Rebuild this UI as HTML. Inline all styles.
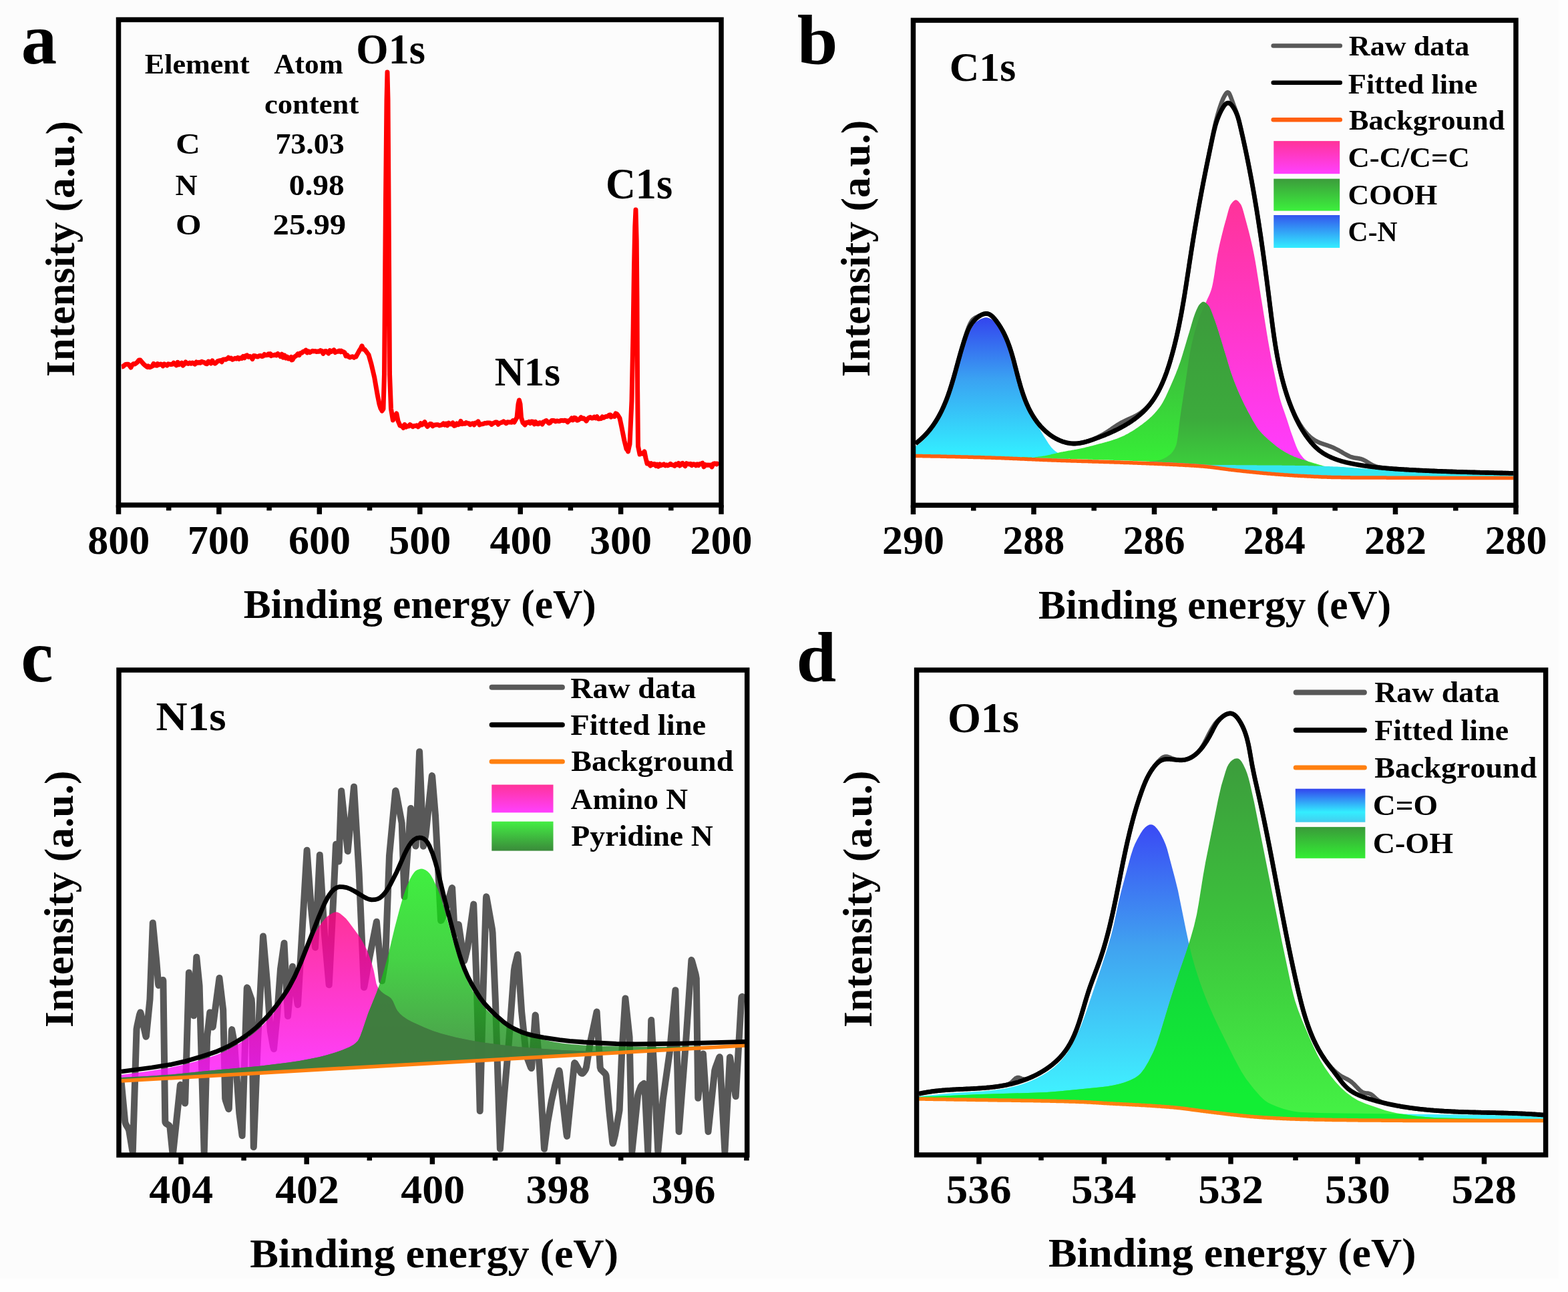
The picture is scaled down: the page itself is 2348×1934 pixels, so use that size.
<!DOCTYPE html>
<html><head><meta charset="utf-8"><style>
html,body{margin:0;padding:0;background:#fefefe;overflow:hidden;}
svg{display:block;}
text{font-family:'Liberation Serif','Times New Roman',serif;font-weight:bold;font-kerning:none;}
</style></head><body>
<svg width="2348" height="1934" viewBox="0 0 2348 1934">
<rect width="2348" height="1934" fill="#fefefe"/>
<rect width="2334" height="1914" fill="#fcfcfc"/>
<path d="M182,549 184,548.7 186,547.1 188,545.4 190,545.3 192,545.2 194,547.4 196,550 198,546 200,544.6 202,545 204,543.5 206,541.8 208,538.9 210,539 212,541.4 214,543.8 215,545 216,545.8 218,547.5 220,549.2 221,549.6 222,547.9 224,549.8 226,549.2 228,548.2 230,544.3 232,546.8 234,547.1 235,547.2 236,544.6 238,546 240,545.1 242,545.2 244,547.9 246,544.9 248,545.9 250,547.1 252,544.8 254,545.3 256,545.5 258,545.3 260,543.2 262,545 264,546.8 266,542.3 268,545.8 270,544.5 272,543.2 274,547.1 276,545.1 278,542 280,543.8 282,544.4 284,543.1 286,544.3 288,543 290,544 292,545.2 294,542 296,543.3 298,542.3 300,543.2 302,541.2 304,542.1 306,542.7 308,544.3 310,544.7 312,541 314,541.8 316,544 318,540 319,542.3 320,542.6 322,544.1 324,542.7 326,540.6 328,540 330,539.6 332,541.7 334,538.3 336,537.9 338,538.3 340,537.1 341,536.7 342,535.3 344,536.8 346,536 348,538.3 350,537.4 352,536.2 354,537.1 356,535.5 358,537.4 360,535.7 362,536.4 364,533.5 366,535.8 368,532.6 370,531.9 372,534.3 374,533.2 376,534.6 378,537.5 380,532.6 382,532.7 384,533.7 386,533.9 388,532.7 390,532.4 392,533.5 394,533 396,530.5 398,531.7 400,531.6 402,529.8 404,531.5 405,529.7 406,532.6 408,531.7 410,531.8 412,531 414,532 416,529.5 418,531 420,533.5 422,530.3 424,535.2 426,531.8 428,536 430,534.1 432,537 434,536.5 436,534.5 437,538.9 438,538.5 440,535 442,533.4 444,532.3 446,529.8 448,531.6 450,528.4 452,528.3 454,526.4 456,525.9 458,524.1 460,527.9 462,525.9 464,527.6 466,526.3 468,525.3 470,525.9 472,525.6 474,526.5 476,526 478,526.2 480,524.6 482,525.5 484,529.3 486,525.9 488,525.4 490,527.5 492,529 494,524.6 496,526.4 498,525.7 500,523.9 502,527.5 504,526.3 506,526.3 508,525 510,526.7 511,525.2 512,526.5 514,526.5 516,527.7 518,533 520,531.6 522,534.1 524,534.9 526,534.1 528,533.8 530,535.3 532,533.7 533,534 534,532.2 536,528.6 538,525 540,521.9 541.5,518.7 542,517.8 544,522.9 546,523 548,525.7 550,528.3 552,531 554,538 556,545 558,553.5 560,562 560.7,565 562,572.6 564,584.2 565,590 566,595 568,605 570,611.5 571.4,613.5 572,615.1 574,612 575.5,560 576,495 577.5,300 578,250 579,150 580,108.1 581,150 582,300 583.5,560 584,573 585.5,612 586,614.9 588,626.7 588.4,629 590,625.9 591,624 592,622.2 593.8,619 594,620 596,630 598,634.7 599,637 600,637.6 602,637.8 604,640.5 606,635.5 608,639.2 610,637.9 612,637.9 614,635.6 616,637 618,638.7 620,637.4 622,637.5 624,636.9 626,638.9 628,637.1 630,633.7 632,635.9 634,633.8 636,631.8 638,635.8 640,638.5 642,636.5 644,634.5 646,634.8 648,637.8 650,636.2 652,636 654,635.8 656,635.8 658,636.9 660,636.4 662,635.8 664,633.9 666,636.1 668,634.3 670,636.8 672,633.2 674,634.8 676,634.9 678,632.9 680,637.4 682,636.9 684,633.9 686,635.7 688,635 690,630.5 692,634.7 694,634.1 696,634.3 698,632.5 700,633.6 702,633.7 704,635.7 706,634.4 708,633.8 710,636 712,632.9 714,633.1 716,630.9 718,635.9 720,634.9 722,634.8 724,634.4 726,633.5 728,633.6 730,632.9 732,632.9 734,633.2 736,635.4 738,633.9 740,632.9 742,632.1 744,631.9 746,635.2 748,633.5 750,632.8 752,632.1 754,630.9 756,632.4 758,633.7 760,631.7 762,631.9 764,631.9 766,632.3 768,629.7 770,632 772,628.5 774,625 776,605 777.4,599 778,601.2 779,605 780,618.3 780.5,625 782,629.8 783,633 784,633.7 786,636 788,632.6 790,632.7 792,631.4 794,633.5 796,631.1 798,631.3 800,634.9 802,631.5 804,634.3 806,634.8 808,632.7 810,633 812,635 814,631.6 816,630.8 818,629.5 820,631.5 822,633.5 824,632.5 826,629.5 828,629.5 830,629.8 832,630.9 834,630 836,630.4 838,630.4 840,629.4 842,629.6 844,629.8 846,629.2 848,629.9 850,631.8 852,629.7 854,628.8 856,626 858,628.9 860,625.3 862,625.9 864,629.2 866,628.8 868,627.3 870,624.8 872,626.7 874,626.1 876,627.9 878,630.1 880,626.9 882,625.3 884,624.5 886,626 888,625.7 890,624.1 892,625.8 894,623.8 896,627 898,626.8 900,626.6 902,624 904,625.2 906,624 908,623.4 910,623.2 912,621.5 914,621 915,624.2 916,622.5 918,622.7 920,623.5 922,619 924,620 925,621.3 926,622.7 928,626 930,635.3 931,640 932,645 934,655 935,660 936,664 938,672 940,674.4 940.5,675.9 942,669 943,665 944,643.3 946,600 948,500 949.5,400 950,376.9 950.8,340 952,314 953.2,360 954,450 954.6,580 955.5,668 956,670.4 958,680 960,678.4 962,679.2 964,677.3 965,676 966,681 967,686 968,690 969,694 970,692.4 972,694.9 974,697 975,693.7 976,696 978,695 980,694.5 982,697.3 984,695.2 986,698.2 988,694.8 990,696.6 992,695.7 994,694.9 996,696.9 998,695.8 1000,696.9 1002,695.9 1004,694.4 1006,695.8 1008,696.1 1010,697.4 1012,694.6 1014,695.9 1016,693.4 1018,697 1020,694.4 1022,693.3 1024,695.9 1026,697.7 1028,693.7 1030,694.4 1032,694.9 1034,694.3 1036,696.6 1038,694.8 1040,694.9 1042,696.9 1044,694.9 1046,696.6 1048,694.5 1050,694.2 1052,693.2 1054,698.8 1056,695.5 1058,696.4 1060,696 1062,696.2 1064,696.1 1066,698.9 1068,694.4 1070,693.7 1072,694.5 1074,694 1076,697.1" fill="none" stroke="#f00" stroke-width="7" stroke-linejoin="round"/>
<rect x="177.5" y="29.5" width="902.5" height="726.5" fill="none" stroke="#000" stroke-width="7.5"/>
<path d="M177.5,756V769.8M327.9,756V769.8M478.3,756V769.8M628.8,756V769.8M779.2,756V769.8M929.6,756V769.8M1080,756V769.8M252.7,756V764.2M403.1,756V764.2M553.5,756V764.2M704,756V764.2M854.4,756V764.2M1004.8,756V764.2" stroke="#000" stroke-width="7.5" fill="none"/>
<text transform="translate(131.2,828.6)" font-size="62.00" fill="#000">800</text>
<text transform="translate(280.8,828.6)" font-size="62.00" fill="#000">700</text>
<text transform="translate(432,828.6)" font-size="62.00" fill="#000">600</text>
<text transform="translate(582.2,828.6)" font-size="62.00" fill="#000">500</text>
<text transform="translate(733.4,828.6)" font-size="62.00" fill="#000">400</text>
<text transform="translate(883.1,828.6)" font-size="62.00" fill="#000">300</text>
<text transform="translate(1033.4,828.6)" font-size="62.00" fill="#000">200</text>
<text transform="translate(31.7,95.2) scale(0.9907,1)" font-size="107.93" fill="#000">a</text>
<text transform="translate(216.7,110.2) scale(1.0590,1)" font-size="41.69" fill="#000">Element</text>
<text transform="translate(410.2,110.2) scale(1.0411,1)" font-size="41.69" fill="#000">Atom</text>
<text transform="translate(396,170.2) scale(1.0706,1)" font-size="41.69" fill="#000">content</text>
<text transform="translate(263,229.8) scale(1.1275,1)" font-size="45.30" fill="#000">C</text>
<text transform="translate(412.4,229.8) scale(1.0144,1)" font-size="45.30" fill="#000">73.03</text>
<text transform="translate(262.4,292.2) scale(1.0143,1)" font-size="45.30" fill="#000">N</text>
<text transform="translate(432.8,292) scale(1.0467,1)" font-size="45.30" fill="#000">0.98</text>
<text transform="translate(263.1,350.8) scale(1.0970,1)" font-size="45.30" fill="#000">O</text>
<text transform="translate(408.6,350.8) scale(1.0754,1)" font-size="45.30" fill="#000">25.99</text>
<text transform="translate(533.3,94.7) scale(0.9738,1)" font-size="63.85" fill="#000">O1s</text>
<text transform="translate(740.7,576.5) scale(0.9844,1)" font-size="62.01" fill="#000">N1s</text>
<text transform="translate(906.9,297.2) scale(0.9610,1)" font-size="64.74" fill="#000">C1s</text>
<text transform="translate(111,564.1) rotate(-90) scale(1.0047,1)" font-size="61.00" fill="#000">Intensity (a.u.)</text>
<text transform="translate(364.8,925) scale(0.9969,1)" font-size="61.50" fill="#000">Binding energy (eV)</text>
<linearGradient id="gCN" gradientUnits="userSpaceOnUse" x1="0" y1="475" x2="0" y2="680"><stop offset="0" stop-color="#3344ee"/><stop offset="0.45" stop-color="#3aa2f2"/><stop offset="1" stop-color="#33eeff"/></linearGradient>
<linearGradient id="gPK" gradientUnits="userSpaceOnUse" x1="0" y1="300" x2="0" y2="690"><stop offset="0" stop-color="#ff3399"/><stop offset="1" stop-color="#ff3cff"/></linearGradient>
<linearGradient id="gGR" gradientUnits="userSpaceOnUse" x1="0" y1="452" x2="0" y2="690"><stop offset="0" stop-color="#3c9e3c"/><stop offset="0.45" stop-color="#3cc23c"/><stop offset="1" stop-color="#36ee36"/></linearGradient>
<linearGradient id="gGD" gradientUnits="userSpaceOnUse" x1="0" y1="452" x2="0" y2="700"><stop offset="0" stop-color="#3c9a3c"/><stop offset="0.7" stop-color="#3caa3c"/><stop offset="1" stop-color="#3cd03c"/></linearGradient>
<clipPath id="cFitB"><path d="M1371,666 1377,661.2 1382,656.6 1391,646.9 1399,636.2 1407,622.8 1411,614.9 1415,605.8 1422,587 1428,567.5 1442,517.9 1447,502.9 1450,495.5 1452,491.5 1455,486.6 1458,482.8 1460.9,479.7 1463.9,477.1 1467.9,474.4 1471.9,472.4 1474.9,471.6 1477.9,471.5 1480.9,472.2 1483.9,474 1487.9,477.7 1492.9,483.9 1496.9,489.7 1500.9,496.4 1504.9,504.2 1509.9,516.1 1513.9,527.8 1517.9,541.7 1526.9,575.7 1531.9,591.9 1537.9,607.5 1543.9,619.7 1547.9,626.4 1551.9,632.2 1559.9,641.8 1563.9,645.8 1568.9,650.2 1573.9,654 1578.9,657.2 1584.9,660.4 1590.9,662.9 1597.9,664.9 1603.9,665.8 1609.9,666 1615.9,665.4 1622.9,664.1 1630.9,661.9 1645.8,656.6 1659.8,651 1671.8,645.5 1682.8,639.7 1692.8,633.6 1701.8,627.1 1709.8,620.4 1716.8,613.4 1722.8,606.2 1728.8,597.6 1733.8,589.2 1738.8,579.3 1743.8,567.6 1747.8,556.7 1751.8,544.3 1756.8,526.5 1762.8,501.7 1768.8,472.3 1773.8,443.5 1785.8,366.1 1793.8,318.8 1803.8,265.5 1816.8,202.9 1818.8,194.6 1821.7,184.3 1826.7,171.7 1830.7,164 1833.7,159.5 1836.7,156.7 1838.7,156.1 1840.7,156.4 1842.7,157.7 1844.7,159.8 1846.7,162.5 1850.7,169.8 1853.7,177.6 1855.7,184.7 1860.7,206.1 1869.7,248.8 1878.7,297.8 1887.7,354.6 1895.7,412.2 1905.7,490.6 1909.7,518.2 1913.7,541 1918.7,564 1922.7,579.2 1926.7,592.5 1931.7,606.8 1936.7,619.3 1941.7,630.3 1947.7,641.7 1953.7,651.4 1959.7,659.8 1966.7,668 1973.7,674.7 1980.7,679.9 1988.7,684.5 1997.7,688.5 2008.6,692.2 2021.6,695.4 2036.6,698.2 2052.6,700.5 2070.6,702.5 2090.6,704 2117.6,705.6 2179.5,708.2 2266.5,710.4 L2266.5,756.3 L1371,756.3Z"/></clipPath>
<g clip-path="url(#cFitB)">
<path d="M1371,668 1372.5,667.2 1374,666.2 1375.5,665.2 1377,664 1378.5,662.8 1380,661.5 1381.5,660.1 1383,658.7 1384.5,657.2 1386,655.6 1387.5,654 1389,652.3 1390.5,650.6 1392,648.8 1393.5,647 1394.9,645 1396.4,643 1397.9,640.8 1399.4,638.6 1400.9,636.2 1402.4,633.8 1403.9,631.2 1405.4,628.5 1406.9,625.7 1408.4,622.8 1409.9,619.8 1411.4,616.7 1412.9,613.5 1414.4,610.1 1415.9,606.4 1417.4,602.3 1418.9,597.8 1420.4,593.2 1421.9,588.3 1423.4,583.3 1424.9,578.2 1426.4,573.2 1427.9,568.1 1429.4,563.2 1430.9,558.4 1432.4,553.7 1433.9,548.7 1435.4,543.7 1436.9,538.7 1438.4,533.6 1439.8,528.7 1441.3,523.9 1442.8,519.4 1444.3,515.2 1445.8,511.3 1447.3,507.8 1448.8,504.3 1450.3,500.9 1451.8,497.5 1453.3,494.3 1454.8,491.3 1456.3,488.6 1457.8,486.2 1459.3,484.2 1460.8,482.6 1462.3,481.5 1463.8,480.5 1465.3,479.5 1466.8,478.6 1468.3,477.8 1469.8,477 1471.3,476.4 1472.8,475.9 1474.3,475.6 1475.8,475.3 1477.3,475.3 1478.8,475.5 1480.3,475.9 1481.8,476.4 1483.3,477.2 1484.8,478.1 1486.2,479.1 1487.7,480.2 1489.2,481.4 1490.7,482.7 1492.2,484 1493.7,485.6 1495.2,487.7 1496.7,490.2 1498.2,493 1499.7,496 1501.2,499.4 1502.7,502.8 1504.2,506.4 1505.7,510 1507.2,514.2 1508.7,519.1 1510.2,524.3 1511.7,529.8 1513.2,535.2 1514.7,540.4 1516.2,545.1 1517.7,549.2 1519.2,552.6 1520.7,555.5 1522.2,558.1 1523.7,560.6 1525.2,562.9 1526.7,565.3 1528.2,567.8 1529.7,570.6 1531.2,573.8 1532.6,577.6 1534.1,582.1 1535.6,587.3 1537.1,592.8 1538.6,598.5 1540.1,604.1 1541.6,609.4 1543.1,614.2 1544.6,618.3 1546.1,621.8 1547.6,625.1 1549.1,628.3 1550.6,631.3 1552.1,634.2 1553.6,636.9 1555.1,639.6 1556.6,642.1 1558.1,644.6 1559.6,647.1 1561.1,649.5 1562.6,651.9 1564.1,654.4 1565.6,656.8 1567.1,659.2 1568.6,661.6 1570.1,663.9 1571.6,666 1573.1,668 1574.6,669.9 1576.1,671.5 1577.5,672.9 1579,674.2 1580.5,675.4 1582,676.5 1583.5,677.5 1585,678.5 1586.5,679.3 1588,680.1 1589.5,680.8 1591,681.4 1592.5,682 1594,682.5 1595.5,683 1597,683.4 1598.5,683.7 1600,684 L1600,687.8 1598.5,687.7 1597,687.7 1595.5,687.6 1594,687.6 1592.5,687.5 1591,687.5 1589.5,687.4 1588,687.4 1586.5,687.3 1585,687.3 1583.5,687.2 1582,687.1 1580.5,687.1 1579,687 1577.5,687 1576.1,686.9 1574.6,686.9 1573.1,686.8 1571.6,686.8 1570.1,686.7 1568.6,686.6 1567.1,686.6 1565.6,686.5 1564.1,686.5 1562.6,686.4 1561.1,686.3 1559.6,686.3 1558.1,686.2 1556.6,686.1 1555.1,686.1 1553.6,686 1552.1,685.9 1550.6,685.9 1549.1,685.8 1547.6,685.7 1546.1,685.7 1544.6,685.6 1543.1,685.5 1541.6,685.5 1540.1,685.4 1538.6,685.3 1537.1,685.3 1535.6,685.2 1534.1,685.1 1532.6,685.1 1531.2,685 1529.7,684.9 1528.2,684.9 1526.7,684.8 1525.2,684.7 1523.7,684.7 1522.2,684.6 1520.7,684.5 1519.2,684.5 1517.7,684.4 1516.2,684.4 1514.7,684.3 1513.2,684.2 1511.7,684.2 1510.2,684.1 1508.7,684 1507.2,684 1505.7,683.9 1504.2,683.9 1502.7,683.8 1501.2,683.7 1499.7,683.7 1498.2,683.6 1496.7,683.6 1495.2,683.5 1493.7,683.5 1492.2,683.4 1490.7,683.3 1489.2,683.3 1487.7,683.2 1486.2,683.2 1484.8,683.1 1483.3,683.1 1481.8,683.1 1480.3,683 1478.8,683 1477.3,682.9 1475.8,682.9 1474.3,682.8 1472.8,682.8 1471.3,682.7 1469.8,682.7 1468.3,682.7 1466.8,682.6 1465.3,682.6 1463.8,682.5 1462.3,682.5 1460.8,682.4 1459.3,682.4 1457.8,682.4 1456.3,682.3 1454.8,682.3 1453.3,682.2 1451.8,682.2 1450.3,682.2 1448.8,682.1 1447.3,682.1 1445.8,682 1444.3,682 1442.8,682 1441.3,681.9 1439.8,681.9 1438.4,681.8 1436.9,681.8 1435.4,681.8 1433.9,681.7 1432.4,681.7 1430.9,681.7 1429.4,681.6 1427.9,681.6 1426.4,681.6 1424.9,681.5 1423.4,681.5 1421.9,681.4 1420.4,681.4 1418.9,681.4 1417.4,681.3 1415.9,681.3 1414.4,681.3 1412.9,681.2 1411.4,681.2 1409.9,681.2 1408.4,681.2 1406.9,681.1 1405.4,681.1 1403.9,681.1 1402.4,681 1400.9,681 1399.4,681 1397.9,680.9 1396.4,680.9 1394.9,680.9 1393.5,680.9 1392,680.8 1390.5,680.8 1389,680.8 1387.5,680.8 1386,680.7 1384.5,680.7 1383,680.7 1381.5,680.7 1380,680.6 1378.5,680.6 1377,680.6 1375.5,680.6 1374,680.5 1372.5,680.5 1371,680.5Z" fill="url(#gCN)"/>
<path d="M1700,692.5 1701.2,692.5 1702.4,692.5 1703.6,692.5 1704.8,692.4 1706,692.4 1707.2,692.3 1708.4,692.3 1709.6,692.2 1710.8,692.1 1712,692 1713.2,691.9 1714.4,691.8 1715.6,691.7 1716.8,691.6 1718,691.5 1719.2,691.4 1720.4,691.2 1721.6,691.1 1722.8,690.9 1723.9,690.8 1725.1,690.6 1726.3,690.4 1727.5,690.2 1728.7,690.1 1729.9,689.9 1731.1,689.7 1732.3,689.5 1733.5,689.3 1734.7,689 1735.9,688.8 1737.1,688.5 1738.3,688.2 1739.5,687.8 1740.7,687.3 1741.9,686.8 1743.1,686.2 1744.3,685.6 1745.5,684.9 1746.7,684.2 1747.9,683.4 1749.1,682.6 1750.3,681.8 1751.5,680.9 1752.7,679.8 1753.9,678.7 1755.1,677.3 1756.3,675.8 1757.5,674 1758.7,671.9 1759.9,669.5 1761.1,666.8 1762.3,662 1763.5,654.5 1764.7,645.2 1765.9,635.2 1767.1,625.4 1768.3,616.9 1769.5,609.1 1770.7,601.4 1771.8,593.8 1773,586.2 1774.2,578.7 1775.4,571 1776.6,563.1 1777.8,554.7 1779,546.3 1780.2,538.2 1781.4,530.6 1782.6,523.9 1783.8,518.1 1785,512.8 1786.2,507.8 1787.4,503 1788.6,498.5 1789.8,494.3 1791,490.2 1792.2,486.4 1793.4,482.7 1794.6,479.2 1795.8,475.8 1797,472.6 1798.2,469.7 1799.4,466.9 1800.6,464.1 1801.8,461.5 1803,458.9 1804.2,456.2 1805.4,453.5 1806.6,450.7 1807.8,448 1809,445.5 1810.2,443 1811.4,440.2 1812.6,437.2 1813.8,433.7 1815,429.6 1816.2,424 1817.4,417.3 1818.6,409.9 1819.7,402.2 1820.9,394.3 1822.1,386.8 1823.3,380 1824.5,374.2 1825.7,368.6 1826.9,363.3 1828.1,358.2 1829.3,353.2 1830.5,348.4 1831.7,343.7 1832.9,339.1 1834.1,334.7 1835.3,330.4 1836.5,326.2 1837.7,321.7 1838.9,317.3 1840.1,313.1 1841.3,309.5 1842.5,306.8 1843.7,305 1844.9,303.5 1846.1,302.1 1847.3,300.9 1848.5,300 1849.7,299.4 1850.9,299.3 1852.1,299.7 1853.3,300.4 1854.5,301.5 1855.7,302.9 1856.9,304.4 1858.1,306.1 1859.3,308.4 1860.5,311.7 1861.7,315.7 1862.9,320.1 1864.1,324.6 1865.3,328.9 1866.4,333.1 1867.6,337.5 1868.8,342 1870,346.5 1871.2,351.3 1872.4,356.2 1873.6,361.3 1874.8,366.6 1876,372.1 1877.2,377.8 1878.4,384 1879.6,390.6 1880.8,397.6 1882,404.9 1883.2,412.4 1884.4,420 1885.6,427.7 1886.8,435.4 1888,442.9 1889.2,450.2 1890.4,457.6 1891.6,465 1892.8,472.5 1894,480 1895.2,487.5 1896.4,494.9 1897.6,502.2 1898.8,509.4 1900,516.3 1901.2,523 1902.4,529.4 1903.6,535.7 1904.8,541.8 1906,547.8 1907.2,553.6 1908.4,559.3 1909.6,565 1910.8,570.8 1912,576.4 1913.2,581.9 1914.3,587.2 1915.5,592.1 1916.7,596.7 1917.9,600.8 1919.1,604.7 1920.3,608.3 1921.5,611.8 1922.7,615.1 1923.9,618.5 1925.1,621.9 1926.3,625.5 1927.5,629.1 1928.7,632.8 1929.9,636.6 1931.1,640.2 1932.3,643.9 1933.5,647.4 1934.7,650.8 1935.9,654.1 1937.1,657.5 1938.3,660.8 1939.5,664.1 1940.7,667.2 1941.9,670.1 1943.1,672.7 1944.3,675 1945.5,677 1946.7,678.9 1947.9,680.7 1949.1,682.3 1950.3,683.8 1951.5,685.2 1952.7,686.4 1953.9,687.4 1955.1,688.4 1956.3,689.3 1957.5,690.1 1958.7,690.9 1959.9,691.6 1961.1,692.2 1962.2,692.8 1963.4,693.4 1964.6,693.9 1965.8,694.3 1967,694.7 1968.2,695.2 1969.4,695.6 1970.6,696 1971.8,696.4 1973,696.8 1974.2,697.1 1975.4,697.5 1976.6,697.8 1977.8,698 1979,698.3 1980.2,698.5 1981.4,698.7 1982.6,698.8 1983.8,698.9 1985,699 L1985,712.1 1983.8,712 1982.6,712 1981.4,712 1980.2,711.9 1979,711.9 1977.8,711.8 1976.6,711.8 1975.4,711.7 1974.2,711.7 1973,711.6 1971.8,711.6 1970.6,711.5 1969.4,711.5 1968.2,711.4 1967,711.3 1965.8,711.3 1964.6,711.2 1963.4,711.2 1962.2,711.1 1961.1,711.1 1959.9,711 1958.7,710.9 1957.5,710.9 1956.3,710.8 1955.1,710.8 1953.9,710.7 1952.7,710.6 1951.5,710.6 1950.3,710.5 1949.1,710.5 1947.9,710.4 1946.7,710.3 1945.5,710.3 1944.3,710.2 1943.1,710.1 1941.9,710.1 1940.7,710 1939.5,709.9 1938.3,709.8 1937.1,709.8 1935.9,709.7 1934.7,709.6 1933.5,709.5 1932.3,709.5 1931.1,709.4 1929.9,709.3 1928.7,709.2 1927.5,709.1 1926.3,709 1925.1,709 1923.9,708.9 1922.7,708.8 1921.5,708.7 1920.3,708.6 1919.1,708.5 1917.9,708.4 1916.7,708.3 1915.5,708.2 1914.3,708.2 1913.2,708.1 1912,708 1910.8,707.9 1909.6,707.8 1908.4,707.7 1907.2,707.6 1906,707.5 1904.8,707.4 1903.6,707.3 1902.4,707.2 1901.2,707.1 1900,707 1898.8,706.9 1897.6,706.8 1896.4,706.7 1895.2,706.6 1894,706.5 1892.8,706.4 1891.6,706.3 1890.4,706.2 1889.2,706.1 1888,705.9 1886.8,705.8 1885.6,705.7 1884.4,705.6 1883.2,705.5 1882,705.4 1880.8,705.3 1879.6,705.1 1878.4,705 1877.2,704.9 1876,704.8 1874.8,704.6 1873.6,704.5 1872.4,704.4 1871.2,704.3 1870,704.2 1868.8,704 1867.6,703.9 1866.4,703.8 1865.3,703.6 1864.1,703.5 1862.9,703.4 1861.7,703.3 1860.5,703.1 1859.3,703 1858.1,702.9 1856.9,702.7 1855.7,702.6 1854.5,702.5 1853.3,702.4 1852.1,702.2 1850.9,702.1 1849.7,702 1848.5,701.8 1847.3,701.7 1846.1,701.6 1844.9,701.4 1843.7,701.3 1842.5,701.1 1841.3,701 1840.1,700.8 1838.9,700.7 1837.7,700.5 1836.5,700.3 1835.3,700.2 1834.1,700 1832.9,699.9 1831.7,699.7 1830.5,699.5 1829.3,699.4 1828.1,699.2 1826.9,699 1825.7,698.9 1824.5,698.7 1823.3,698.6 1822.1,698.4 1820.9,698.2 1819.7,698.1 1818.6,697.9 1817.4,697.8 1816.2,697.6 1815,697.5 1813.8,697.3 1812.6,697.2 1811.4,697.1 1810.2,696.9 1809,696.8 1807.8,696.7 1806.6,696.6 1805.4,696.5 1804.2,696.3 1803,696.2 1801.8,696.1 1800.6,696 1799.4,696 1798.2,695.9 1797,695.8 1795.8,695.7 1794.6,695.6 1793.4,695.5 1792.2,695.4 1791,695.4 1789.8,695.3 1788.6,695.2 1787.4,695.1 1786.2,695 1785,695 1783.8,694.9 1782.6,694.8 1781.4,694.7 1780.2,694.7 1779,694.6 1777.8,694.5 1776.6,694.5 1775.4,694.4 1774.2,694.3 1773,694.3 1771.8,694.2 1770.7,694.1 1769.5,694.1 1768.3,694 1767.1,693.9 1765.9,693.9 1764.7,693.8 1763.5,693.7 1762.3,693.7 1761.1,693.6 1759.9,693.6 1758.7,693.5 1757.5,693.4 1756.3,693.4 1755.1,693.3 1753.9,693.3 1752.7,693.2 1751.5,693.1 1750.3,693.1 1749.1,693 1747.9,693 1746.7,692.9 1745.5,692.9 1744.3,692.8 1743.1,692.8 1741.9,692.7 1740.7,692.7 1739.5,692.6 1738.3,692.6 1737.1,692.5 1735.9,692.4 1734.7,692.4 1733.5,692.3 1732.3,692.3 1731.1,692.2 1729.9,692.2 1728.7,692.1 1727.5,692.1 1726.3,692.1 1725.1,692 1723.9,692 1722.8,691.9 1721.6,691.9 1720.4,691.8 1719.2,691.8 1718,691.7 1716.8,691.7 1715.6,691.6 1714.4,691.6 1713.2,691.5 1712,691.5 1710.8,691.4 1709.6,691.4 1708.4,691.3 1707.2,691.3 1706,691.2 1704.8,691.2 1703.6,691.1 1702.4,691.1 1701.2,691 1700,691Z" fill="url(#gPK)"/>
<path d="M1530,686 1531.2,685.9 1532.4,685.9 1533.6,685.8 1534.8,685.7 1536,685.7 1537.2,685.6 1538.4,685.5 1539.6,685.4 1540.8,685.3 1542,685.2 1543.2,685 1544.4,684.9 1545.6,684.8 1546.8,684.7 1548,684.5 1549.2,684.4 1550.4,684.2 1551.6,684.1 1552.8,684 1554,683.8 1555.2,683.6 1556.4,683.5 1557.6,683.3 1558.8,683.2 1560,683 1561.2,682.8 1562.4,682.6 1563.6,682.4 1564.8,682.2 1566,682 1567.2,681.7 1568.4,681.5 1569.6,681.2 1570.8,681 1572,680.7 1573.2,680.4 1574.4,680.1 1575.6,679.8 1576.8,679.6 1578,679.3 1579.2,679 1580.4,678.7 1581.6,678.4 1582.8,678.1 1584,677.9 1585.2,677.6 1586.4,677.3 1587.6,677.1 1588.8,676.8 1590,676.6 1591.2,676.4 1592.4,676.1 1593.6,675.9 1594.8,675.7 1596,675.5 1597.2,675.3 1598.4,675.1 1599.6,674.8 1600.8,674.6 1602,674.4 1603.2,674.2 1604.4,674 1605.6,673.8 1606.8,673.6 1608,673.4 1609.2,673.1 1610.4,672.9 1611.6,672.7 1612.8,672.5 1614,672.2 1615.2,672 1616.4,671.8 1617.6,671.5 1618.8,671.3 1620,671 1621.2,670.7 1622.4,670.5 1623.6,670.2 1624.8,669.9 1626,669.6 1627.2,669.3 1628.4,669 1629.6,668.7 1630.8,668.4 1632,668.1 1633.2,667.8 1634.4,667.5 1635.6,667.2 1636.8,666.9 1638,666.5 1639.2,666.2 1640.4,665.9 1641.6,665.6 1642.8,665.3 1644,664.9 1645.2,664.6 1646.4,664.3 1647.6,664 1648.8,663.7 1650,663.4 1651.2,663 1652.4,662.7 1653.6,662.4 1654.8,662.1 1656,661.7 1657.2,661.4 1658.4,661.1 1659.6,660.7 1660.8,660.4 1662,660 1663.2,659.7 1664.4,659.3 1665.6,658.9 1666.8,658.5 1668,658.1 1669.2,657.7 1670.4,657.3 1671.6,656.9 1672.8,656.4 1674,656 1675.2,655.5 1676.4,655.1 1677.6,654.6 1678.8,654.1 1680,653.5 1681.2,653 1682.4,652.4 1683.6,651.9 1684.8,651.3 1686,650.6 1687.2,650 1688.4,649.4 1689.6,648.7 1690.8,648 1692,647.3 1693.2,646.6 1694.4,645.9 1695.6,645.2 1696.8,644.4 1698,643.7 1699.2,642.9 1700.4,642.1 1701.6,641.3 1702.8,640.5 1704,639.7 1705.2,638.8 1706.4,638 1707.6,637.1 1708.8,636.2 1710,635.4 1711.2,634.5 1712.4,633.6 1713.6,632.6 1714.8,631.7 1716,630.7 1717.2,629.8 1718.4,628.8 1719.6,627.8 1720.8,626.7 1722,625.6 1723.2,624.5 1724.4,623.4 1725.6,622.2 1726.8,621 1728,619.7 1729.2,618.5 1730.4,617.1 1731.6,615.7 1732.8,614.3 1734,612.8 1735.2,611.3 1736.4,609.7 1737.6,608.1 1738.8,606.3 1740,604.3 1741.2,602.2 1742.4,600.1 1743.6,597.7 1744.8,595.4 1746,592.9 1747.2,590.3 1748.4,587.7 1749.6,585.1 1750.8,582.4 1752,579.7 1753.2,577 1754.4,574.3 1755.6,571.5 1756.8,568.8 1758,566 1759.2,563.1 1760.4,560.2 1761.6,557.1 1762.8,554 1764,550.9 1765.2,547.6 1766.4,544.3 1767.6,540.9 1768.8,537.3 1770,533.5 1771.2,529.6 1772.4,525.6 1773.6,521.6 1774.8,517.5 1776,513.4 1777.2,509.3 1778.4,505.3 1779.6,501.3 1780.8,497.4 1782,493.3 1783.2,489.2 1784.4,485 1785.6,481 1786.8,477.1 1788,473.4 1789.2,470 1790.4,467 1791.6,464.1 1792.8,461.4 1794,459 1795.2,457 1796.4,455.6 1797.6,454.3 1798.8,453.2 1800,452.3 1801.2,451.8 1802.4,451.7 1803.6,452 1804.8,452.7 1806,453.7 1807.2,454.8 1808.4,456.1 1809.6,457.5 1810.8,459.1 1812,461.4 1813.2,464.2 1814.4,467.3 1815.6,470.6 1816.8,473.8 1818,477 1819.2,480.3 1820.4,483.8 1821.6,487.3 1822.8,491 1824,494.8 1825.2,498.6 1826.4,502.5 1827.6,506.4 1828.8,510.3 1830,514.3 1831.2,518.3 1832.4,522.3 1833.6,526.2 1834.8,530.1 1836,534 1837.2,537.9 1838.4,541.9 1839.6,546 1840.8,550 1842,553.9 1843.2,557.7 1844.4,561.1 1845.6,564.5 1846.8,567.7 1848,570.9 1849.2,574 1850.4,577 1851.6,580 1852.8,582.9 1854,585.7 1855.2,588.5 1856.4,591.2 1857.6,593.8 1858.8,596.5 1860,599 1861.2,601.5 1862.4,604 1863.6,606.4 1864.8,608.8 1866,611.1 1867.2,613.4 1868.4,615.7 1869.6,617.9 1870.8,620.1 1872,622.3 1873.2,624.5 1874.4,626.7 1875.6,628.9 1876.8,631 1878,633.1 1879.2,635.1 1880.4,637.1 1881.6,639 1882.8,640.7 1884,642.4 1885.2,643.9 1886.4,645.3 1887.6,646.7 1888.8,648.1 1890,649.4 1891.2,650.6 1892.4,651.8 1893.6,653 1894.8,654.1 1896,655.3 1897.2,656.3 1898.4,657.4 1899.6,658.5 1900.8,659.5 1902,660.5 1903.2,661.6 1904.4,662.6 1905.6,663.6 1906.8,664.6 1908,665.6 1909.2,666.5 1910.4,667.5 1911.6,668.4 1912.8,669.3 1914,670.2 1915.2,671.1 1916.4,672 1917.6,672.8 1918.8,673.6 1920,674.3 1921.2,675.1 1922.4,675.8 1923.6,676.5 1924.8,677.2 1926,677.8 1927.2,678.5 1928.4,679.1 1929.6,679.8 1930.8,680.4 1932,681 1933.2,681.5 1934.4,682.1 1935.6,682.6 1936.8,683.2 1938,683.7 1939.2,684.2 1940.4,684.6 1941.6,685.1 1942.8,685.5 1944,685.9 1945.2,686.3 1946.4,686.7 1947.6,687.1 1948.8,687.5 1950,687.9 1951.2,688.2 1952.4,688.6 1953.6,689 1954.8,689.4 1956,689.8 1957.2,690.1 1958.4,690.5 1959.6,690.9 1960.8,691.2 1962,691.6 1963.2,692 1964.4,692.3 1965.6,692.7 1966.8,693 1968,693.4 1969.2,693.8 1970.4,694.1 1971.6,694.5 1972.8,694.8 1974,695.2 1975.2,695.6 1976.4,695.9 1977.6,696.3 1978.8,696.6 1980,697 1981.2,697.4 1982.4,697.7 1983.6,698.1 1984.8,698.4 1986,698.8 1987.2,699.2 1988.4,699.5 1989.6,699.9 1990.8,700.2 1992,700.6 1993.2,701 1994.4,701.3 1995.6,701.7 1996.8,702 1998,702.4 1999.2,702.8 2000.4,703.1 2001.6,703.5 2002.8,703.8 2004,704.2 2005.2,704.6 2006.4,704.9 2007.6,705.3 2008.8,705.6 2010,706 L2010,711.7 2008.8,711.7 2007.6,711.6 2006.4,711.6 2005.2,711.6 2004,711.6 2002.8,711.6 2001.6,711.5 2000.4,711.5 1999.2,711.5 1998,711.5 1996.8,711.4 1995.6,711.4 1994.4,711.4 1993.2,711.3 1992,711.3 1990.8,711.3 1989.6,711.2 1988.4,711.2 1987.2,711.2 1986,711.1 1984.8,711.1 1983.6,711 1982.4,711 1981.2,711 1980,710.9 1978.8,710.9 1977.6,710.8 1976.4,710.8 1975.2,710.7 1974,710.7 1972.8,710.6 1971.6,710.6 1970.4,710.5 1969.2,710.4 1968,710.4 1966.8,710.3 1965.6,710.3 1964.4,710.2 1963.2,710.2 1962,710.1 1960.8,710 1959.6,710 1958.4,709.9 1957.2,709.9 1956,709.8 1954.8,709.7 1953.6,709.7 1952.4,709.6 1951.2,709.6 1950,709.5 1948.8,709.4 1947.6,709.4 1946.4,709.3 1945.2,709.2 1944,709.2 1942.8,709.1 1941.6,709 1940.4,709 1939.2,708.9 1938,708.8 1936.8,708.7 1935.6,708.7 1934.4,708.6 1933.2,708.5 1932,708.4 1930.8,708.4 1929.6,708.3 1928.4,708.2 1927.2,708.1 1926,708 1924.8,707.9 1923.6,707.8 1922.4,707.8 1921.2,707.7 1920,707.6 1918.8,707.5 1917.6,707.4 1916.4,707.3 1915.2,707.2 1914,707.1 1912.8,707 1911.6,706.9 1910.4,706.8 1909.2,706.7 1908,706.7 1906.8,706.6 1905.6,706.5 1904.4,706.4 1903.2,706.3 1902,706.2 1900.8,706.1 1899.6,706 1898.4,705.9 1897.2,705.8 1896,705.7 1894.8,705.6 1893.6,705.5 1892.4,705.3 1891.2,705.2 1890,705.1 1888.8,705 1887.6,704.9 1886.4,704.8 1885.2,704.7 1884,704.6 1882.8,704.4 1881.6,704.3 1880.4,704.2 1879.2,704.1 1878,704 1876.8,703.9 1875.6,703.7 1874.4,703.6 1873.2,703.5 1872,703.4 1870.8,703.2 1869.6,703.1 1868.4,703 1867.2,702.9 1866,702.7 1864.8,702.6 1863.6,702.5 1862.4,702.3 1861.2,702.2 1860,702.1 1858.8,702 1857.6,701.8 1856.4,701.7 1855.2,701.6 1854,701.4 1852.8,701.3 1851.6,701.2 1850.4,701 1849.2,700.9 1848,700.8 1846.8,700.6 1845.6,700.5 1844.4,700.4 1843.2,700.2 1842,700.1 1840.8,699.9 1839.6,699.7 1838.4,699.6 1837.2,699.4 1836,699.3 1834.8,699.1 1833.6,698.9 1832.4,698.8 1831.2,698.6 1830,698.5 1828.8,698.3 1827.6,698.1 1826.4,698 1825.2,697.8 1824,697.6 1822.8,697.5 1821.6,697.3 1820.4,697.2 1819.2,697 1818,696.9 1816.8,696.7 1815.6,696.6 1814.4,696.4 1813.2,696.3 1812,696.1 1810.8,696 1809.6,695.9 1808.4,695.8 1807.2,695.6 1806,695.5 1804.8,695.4 1803.6,695.3 1802.4,695.2 1801.2,695.1 1800,695 1798.8,694.9 1797.6,694.8 1796.4,694.7 1795.2,694.7 1794,694.6 1792.8,694.5 1791.6,694.4 1790.4,694.3 1789.2,694.2 1788,694.2 1786.8,694.1 1785.6,694 1784.4,693.9 1783.2,693.9 1782,693.8 1780.8,693.7 1779.6,693.6 1778.4,693.6 1777.2,693.5 1776,693.4 1774.8,693.4 1773.6,693.3 1772.4,693.2 1771.2,693.2 1770,693.1 1768.8,693 1767.6,693 1766.4,692.9 1765.2,692.8 1764,692.8 1762.8,692.7 1761.6,692.6 1760.4,692.6 1759.2,692.5 1758,692.5 1756.8,692.4 1755.6,692.3 1754.4,692.3 1753.2,692.2 1752,692.2 1750.8,692.1 1749.6,692.1 1748.4,692 1747.2,691.9 1746,691.9 1744.8,691.8 1743.6,691.8 1742.4,691.7 1741.2,691.7 1740,691.6 1738.8,691.6 1737.6,691.5 1736.4,691.5 1735.2,691.4 1734,691.4 1732.8,691.3 1731.6,691.3 1730.4,691.2 1729.2,691.2 1728,691.1 1726.8,691.1 1725.6,691 1724.4,691 1723.2,690.9 1722,690.9 1720.8,690.8 1719.6,690.8 1718.4,690.7 1717.2,690.7 1716,690.6 1714.8,690.6 1713.6,690.5 1712.4,690.5 1711.2,690.4 1710,690.4 1708.8,690.3 1707.6,690.3 1706.4,690.3 1705.2,690.2 1704,690.2 1702.8,690.1 1701.6,690.1 1700.4,690 1699.2,690 1698,689.9 1696.8,689.9 1695.6,689.8 1694.4,689.8 1693.2,689.7 1692,689.7 1690.8,689.6 1689.6,689.6 1688.4,689.6 1687.2,689.5 1686,689.5 1684.8,689.4 1683.6,689.4 1682.4,689.3 1681.2,689.3 1680,689.3 1678.8,689.2 1677.6,689.2 1676.4,689.1 1675.2,689.1 1674,689 1672.8,689 1671.6,689 1670.4,688.9 1669.2,688.9 1668,688.9 1666.8,688.8 1665.6,688.8 1664.4,688.7 1663.2,688.7 1662,688.7 1660.8,688.6 1659.6,688.6 1658.4,688.5 1657.2,688.5 1656,688.5 1654.8,688.4 1653.6,688.4 1652.4,688.4 1651.2,688.3 1650,688.3 1648.8,688.2 1647.6,688.2 1646.4,688.2 1645.2,688.1 1644,688.1 1642.8,688.1 1641.6,688 1640.4,688 1639.2,688 1638,687.9 1636.8,687.9 1635.6,687.8 1634.4,687.8 1633.2,687.8 1632,687.7 1630.8,687.7 1629.6,687.7 1628.4,687.6 1627.2,687.6 1626,687.6 1624.8,687.5 1623.6,687.5 1622.4,687.4 1621.2,687.4 1620,687.4 1618.8,687.3 1617.6,687.3 1616.4,687.3 1615.2,687.2 1614,687.2 1612.8,687.2 1611.6,687.1 1610.4,687.1 1609.2,687 1608,687 1606.8,687 1605.6,686.9 1604.4,686.9 1603.2,686.9 1602,686.8 1600.8,686.8 1599.6,686.7 1598.4,686.7 1597.2,686.7 1596,686.6 1594.8,686.6 1593.6,686.5 1592.4,686.5 1591.2,686.5 1590,686.4 1588.8,686.4 1587.6,686.3 1586.4,686.3 1585.2,686.3 1584,686.2 1582.8,686.2 1581.6,686.1 1580.4,686.1 1579.2,686 1578,686 1576.8,686 1575.6,685.9 1574.4,685.9 1573.2,685.8 1572,685.8 1570.8,685.7 1569.6,685.7 1568.4,685.6 1567.2,685.6 1566,685.5 1564.8,685.5 1563.6,685.4 1562.4,685.4 1561.2,685.3 1560,685.3 1558.8,685.2 1557.6,685.2 1556.4,685.1 1555.2,685.1 1554,685 1552.8,685 1551.6,684.9 1550.4,684.9 1549.2,684.8 1548,684.8 1546.8,684.7 1545.6,684.7 1544.4,684.6 1543.2,684.6 1542,684.5 1540.8,684.4 1539.6,684.4 1538.4,684.3 1537.2,684.3 1536,684.2 1534.8,684.2 1533.6,684.1 1532.4,684.1 1531.2,684 1530,684Z" fill="url(#gGR)"/>
<clipPath id="cPKb"><path d="M1700,692.5 1701.2,692.5 1702.4,692.5 1703.6,692.5 1704.8,692.4 1706,692.4 1707.2,692.3 1708.4,692.3 1709.6,692.2 1710.8,692.1 1712,692 1713.2,691.9 1714.4,691.8 1715.6,691.7 1716.8,691.6 1718,691.5 1719.2,691.4 1720.4,691.2 1721.6,691.1 1722.8,690.9 1723.9,690.8 1725.1,690.6 1726.3,690.4 1727.5,690.2 1728.7,690.1 1729.9,689.9 1731.1,689.7 1732.3,689.5 1733.5,689.3 1734.7,689 1735.9,688.8 1737.1,688.5 1738.3,688.2 1739.5,687.8 1740.7,687.3 1741.9,686.8 1743.1,686.2 1744.3,685.6 1745.5,684.9 1746.7,684.2 1747.9,683.4 1749.1,682.6 1750.3,681.8 1751.5,680.9 1752.7,679.8 1753.9,678.7 1755.1,677.3 1756.3,675.8 1757.5,674 1758.7,671.9 1759.9,669.5 1761.1,666.8 1762.3,662 1763.5,654.5 1764.7,645.2 1765.9,635.2 1767.1,625.4 1768.3,616.9 1769.5,609.1 1770.7,601.4 1771.8,593.8 1773,586.2 1774.2,578.7 1775.4,571 1776.6,563.1 1777.8,554.7 1779,546.3 1780.2,538.2 1781.4,530.6 1782.6,523.9 1783.8,518.1 1785,512.8 1786.2,507.8 1787.4,503 1788.6,498.5 1789.8,494.3 1791,490.2 1792.2,486.4 1793.4,482.7 1794.6,479.2 1795.8,475.8 1797,472.6 1798.2,469.7 1799.4,466.9 1800.6,464.1 1801.8,461.5 1803,458.9 1804.2,456.2 1805.4,453.5 1806.6,450.7 1807.8,448 1809,445.5 1810.2,443 1811.4,440.2 1812.6,437.2 1813.8,433.7 1815,429.6 1816.2,424 1817.4,417.3 1818.6,409.9 1819.7,402.2 1820.9,394.3 1822.1,386.8 1823.3,380 1824.5,374.2 1825.7,368.6 1826.9,363.3 1828.1,358.2 1829.3,353.2 1830.5,348.4 1831.7,343.7 1832.9,339.1 1834.1,334.7 1835.3,330.4 1836.5,326.2 1837.7,321.7 1838.9,317.3 1840.1,313.1 1841.3,309.5 1842.5,306.8 1843.7,305 1844.9,303.5 1846.1,302.1 1847.3,300.9 1848.5,300 1849.7,299.4 1850.9,299.3 1852.1,299.7 1853.3,300.4 1854.5,301.5 1855.7,302.9 1856.9,304.4 1858.1,306.1 1859.3,308.4 1860.5,311.7 1861.7,315.7 1862.9,320.1 1864.1,324.6 1865.3,328.9 1866.4,333.1 1867.6,337.5 1868.8,342 1870,346.5 1871.2,351.3 1872.4,356.2 1873.6,361.3 1874.8,366.6 1876,372.1 1877.2,377.8 1878.4,384 1879.6,390.6 1880.8,397.6 1882,404.9 1883.2,412.4 1884.4,420 1885.6,427.7 1886.8,435.4 1888,442.9 1889.2,450.2 1890.4,457.6 1891.6,465 1892.8,472.5 1894,480 1895.2,487.5 1896.4,494.9 1897.6,502.2 1898.8,509.4 1900,516.3 1901.2,523 1902.4,529.4 1903.6,535.7 1904.8,541.8 1906,547.8 1907.2,553.6 1908.4,559.3 1909.6,565 1910.8,570.8 1912,576.4 1913.2,581.9 1914.3,587.2 1915.5,592.1 1916.7,596.7 1917.9,600.8 1919.1,604.7 1920.3,608.3 1921.5,611.8 1922.7,615.1 1923.9,618.5 1925.1,621.9 1926.3,625.5 1927.5,629.1 1928.7,632.8 1929.9,636.6 1931.1,640.2 1932.3,643.9 1933.5,647.4 1934.7,650.8 1935.9,654.1 1937.1,657.5 1938.3,660.8 1939.5,664.1 1940.7,667.2 1941.9,670.1 1943.1,672.7 1944.3,675 1945.5,677 1946.7,678.9 1947.9,680.7 1949.1,682.3 1950.3,683.8 1951.5,685.2 1952.7,686.4 1953.9,687.4 1955.1,688.4 1956.3,689.3 1957.5,690.1 1958.7,690.9 1959.9,691.6 1961.1,692.2 1962.2,692.8 1963.4,693.4 1964.6,693.9 1965.8,694.3 1967,694.7 1968.2,695.2 1969.4,695.6 1970.6,696 1971.8,696.4 1973,696.8 1974.2,697.1 1975.4,697.5 1976.6,697.8 1977.8,698 1979,698.3 1980.2,698.5 1981.4,698.7 1982.6,698.8 1983.8,698.9 1985,699 L1985,712.1 1983.8,712 1982.6,712 1981.4,712 1980.2,711.9 1979,711.9 1977.8,711.8 1976.6,711.8 1975.4,711.7 1974.2,711.7 1973,711.6 1971.8,711.6 1970.6,711.5 1969.4,711.5 1968.2,711.4 1967,711.3 1965.8,711.3 1964.6,711.2 1963.4,711.2 1962.2,711.1 1961.1,711.1 1959.9,711 1958.7,710.9 1957.5,710.9 1956.3,710.8 1955.1,710.8 1953.9,710.7 1952.7,710.6 1951.5,710.6 1950.3,710.5 1949.1,710.5 1947.9,710.4 1946.7,710.3 1945.5,710.3 1944.3,710.2 1943.1,710.1 1941.9,710.1 1940.7,710 1939.5,709.9 1938.3,709.8 1937.1,709.8 1935.9,709.7 1934.7,709.6 1933.5,709.5 1932.3,709.5 1931.1,709.4 1929.9,709.3 1928.7,709.2 1927.5,709.1 1926.3,709 1925.1,709 1923.9,708.9 1922.7,708.8 1921.5,708.7 1920.3,708.6 1919.1,708.5 1917.9,708.4 1916.7,708.3 1915.5,708.2 1914.3,708.2 1913.2,708.1 1912,708 1910.8,707.9 1909.6,707.8 1908.4,707.7 1907.2,707.6 1906,707.5 1904.8,707.4 1903.6,707.3 1902.4,707.2 1901.2,707.1 1900,707 1898.8,706.9 1897.6,706.8 1896.4,706.7 1895.2,706.6 1894,706.5 1892.8,706.4 1891.6,706.3 1890.4,706.2 1889.2,706.1 1888,705.9 1886.8,705.8 1885.6,705.7 1884.4,705.6 1883.2,705.5 1882,705.4 1880.8,705.3 1879.6,705.1 1878.4,705 1877.2,704.9 1876,704.8 1874.8,704.6 1873.6,704.5 1872.4,704.4 1871.2,704.3 1870,704.2 1868.8,704 1867.6,703.9 1866.4,703.8 1865.3,703.6 1864.1,703.5 1862.9,703.4 1861.7,703.3 1860.5,703.1 1859.3,703 1858.1,702.9 1856.9,702.7 1855.7,702.6 1854.5,702.5 1853.3,702.4 1852.1,702.2 1850.9,702.1 1849.7,702 1848.5,701.8 1847.3,701.7 1846.1,701.6 1844.9,701.4 1843.7,701.3 1842.5,701.1 1841.3,701 1840.1,700.8 1838.9,700.7 1837.7,700.5 1836.5,700.3 1835.3,700.2 1834.1,700 1832.9,699.9 1831.7,699.7 1830.5,699.5 1829.3,699.4 1828.1,699.2 1826.9,699 1825.7,698.9 1824.5,698.7 1823.3,698.6 1822.1,698.4 1820.9,698.2 1819.7,698.1 1818.6,697.9 1817.4,697.8 1816.2,697.6 1815,697.5 1813.8,697.3 1812.6,697.2 1811.4,697.1 1810.2,696.9 1809,696.8 1807.8,696.7 1806.6,696.6 1805.4,696.5 1804.2,696.3 1803,696.2 1801.8,696.1 1800.6,696 1799.4,696 1798.2,695.9 1797,695.8 1795.8,695.7 1794.6,695.6 1793.4,695.5 1792.2,695.4 1791,695.4 1789.8,695.3 1788.6,695.2 1787.4,695.1 1786.2,695 1785,695 1783.8,694.9 1782.6,694.8 1781.4,694.7 1780.2,694.7 1779,694.6 1777.8,694.5 1776.6,694.5 1775.4,694.4 1774.2,694.3 1773,694.3 1771.8,694.2 1770.7,694.1 1769.5,694.1 1768.3,694 1767.1,693.9 1765.9,693.9 1764.7,693.8 1763.5,693.7 1762.3,693.7 1761.1,693.6 1759.9,693.6 1758.7,693.5 1757.5,693.4 1756.3,693.4 1755.1,693.3 1753.9,693.3 1752.7,693.2 1751.5,693.1 1750.3,693.1 1749.1,693 1747.9,693 1746.7,692.9 1745.5,692.9 1744.3,692.8 1743.1,692.8 1741.9,692.7 1740.7,692.7 1739.5,692.6 1738.3,692.6 1737.1,692.5 1735.9,692.4 1734.7,692.4 1733.5,692.3 1732.3,692.3 1731.1,692.2 1729.9,692.2 1728.7,692.1 1727.5,692.1 1726.3,692.1 1725.1,692 1723.9,692 1722.8,691.9 1721.6,691.9 1720.4,691.8 1719.2,691.8 1718,691.7 1716.8,691.7 1715.6,691.6 1714.4,691.6 1713.2,691.5 1712,691.5 1710.8,691.4 1709.6,691.4 1708.4,691.3 1707.2,691.3 1706,691.2 1704.8,691.2 1703.6,691.1 1702.4,691.1 1701.2,691 1700,691Z"/></clipPath>
<path d="M1530,686 1531.2,685.9 1532.4,685.9 1533.6,685.8 1534.8,685.7 1536,685.7 1537.2,685.6 1538.4,685.5 1539.6,685.4 1540.8,685.3 1542,685.2 1543.2,685 1544.4,684.9 1545.6,684.8 1546.8,684.7 1548,684.5 1549.2,684.4 1550.4,684.2 1551.6,684.1 1552.8,684 1554,683.8 1555.2,683.6 1556.4,683.5 1557.6,683.3 1558.8,683.2 1560,683 1561.2,682.8 1562.4,682.6 1563.6,682.4 1564.8,682.2 1566,682 1567.2,681.7 1568.4,681.5 1569.6,681.2 1570.8,681 1572,680.7 1573.2,680.4 1574.4,680.1 1575.6,679.8 1576.8,679.6 1578,679.3 1579.2,679 1580.4,678.7 1581.6,678.4 1582.8,678.1 1584,677.9 1585.2,677.6 1586.4,677.3 1587.6,677.1 1588.8,676.8 1590,676.6 1591.2,676.4 1592.4,676.1 1593.6,675.9 1594.8,675.7 1596,675.5 1597.2,675.3 1598.4,675.1 1599.6,674.8 1600.8,674.6 1602,674.4 1603.2,674.2 1604.4,674 1605.6,673.8 1606.8,673.6 1608,673.4 1609.2,673.1 1610.4,672.9 1611.6,672.7 1612.8,672.5 1614,672.2 1615.2,672 1616.4,671.8 1617.6,671.5 1618.8,671.3 1620,671 1621.2,670.7 1622.4,670.5 1623.6,670.2 1624.8,669.9 1626,669.6 1627.2,669.3 1628.4,669 1629.6,668.7 1630.8,668.4 1632,668.1 1633.2,667.8 1634.4,667.5 1635.6,667.2 1636.8,666.9 1638,666.5 1639.2,666.2 1640.4,665.9 1641.6,665.6 1642.8,665.3 1644,664.9 1645.2,664.6 1646.4,664.3 1647.6,664 1648.8,663.7 1650,663.4 1651.2,663 1652.4,662.7 1653.6,662.4 1654.8,662.1 1656,661.7 1657.2,661.4 1658.4,661.1 1659.6,660.7 1660.8,660.4 1662,660 1663.2,659.7 1664.4,659.3 1665.6,658.9 1666.8,658.5 1668,658.1 1669.2,657.7 1670.4,657.3 1671.6,656.9 1672.8,656.4 1674,656 1675.2,655.5 1676.4,655.1 1677.6,654.6 1678.8,654.1 1680,653.5 1681.2,653 1682.4,652.4 1683.6,651.9 1684.8,651.3 1686,650.6 1687.2,650 1688.4,649.4 1689.6,648.7 1690.8,648 1692,647.3 1693.2,646.6 1694.4,645.9 1695.6,645.2 1696.8,644.4 1698,643.7 1699.2,642.9 1700.4,642.1 1701.6,641.3 1702.8,640.5 1704,639.7 1705.2,638.8 1706.4,638 1707.6,637.1 1708.8,636.2 1710,635.4 1711.2,634.5 1712.4,633.6 1713.6,632.6 1714.8,631.7 1716,630.7 1717.2,629.8 1718.4,628.8 1719.6,627.8 1720.8,626.7 1722,625.6 1723.2,624.5 1724.4,623.4 1725.6,622.2 1726.8,621 1728,619.7 1729.2,618.5 1730.4,617.1 1731.6,615.7 1732.8,614.3 1734,612.8 1735.2,611.3 1736.4,609.7 1737.6,608.1 1738.8,606.3 1740,604.3 1741.2,602.2 1742.4,600.1 1743.6,597.7 1744.8,595.4 1746,592.9 1747.2,590.3 1748.4,587.7 1749.6,585.1 1750.8,582.4 1752,579.7 1753.2,577 1754.4,574.3 1755.6,571.5 1756.8,568.8 1758,566 1759.2,563.1 1760.4,560.2 1761.6,557.1 1762.8,554 1764,550.9 1765.2,547.6 1766.4,544.3 1767.6,540.9 1768.8,537.3 1770,533.5 1771.2,529.6 1772.4,525.6 1773.6,521.6 1774.8,517.5 1776,513.4 1777.2,509.3 1778.4,505.3 1779.6,501.3 1780.8,497.4 1782,493.3 1783.2,489.2 1784.4,485 1785.6,481 1786.8,477.1 1788,473.4 1789.2,470 1790.4,467 1791.6,464.1 1792.8,461.4 1794,459 1795.2,457 1796.4,455.6 1797.6,454.3 1798.8,453.2 1800,452.3 1801.2,451.8 1802.4,451.7 1803.6,452 1804.8,452.7 1806,453.7 1807.2,454.8 1808.4,456.1 1809.6,457.5 1810.8,459.1 1812,461.4 1813.2,464.2 1814.4,467.3 1815.6,470.6 1816.8,473.8 1818,477 1819.2,480.3 1820.4,483.8 1821.6,487.3 1822.8,491 1824,494.8 1825.2,498.6 1826.4,502.5 1827.6,506.4 1828.8,510.3 1830,514.3 1831.2,518.3 1832.4,522.3 1833.6,526.2 1834.8,530.1 1836,534 1837.2,537.9 1838.4,541.9 1839.6,546 1840.8,550 1842,553.9 1843.2,557.7 1844.4,561.1 1845.6,564.5 1846.8,567.7 1848,570.9 1849.2,574 1850.4,577 1851.6,580 1852.8,582.9 1854,585.7 1855.2,588.5 1856.4,591.2 1857.6,593.8 1858.8,596.5 1860,599 1861.2,601.5 1862.4,604 1863.6,606.4 1864.8,608.8 1866,611.1 1867.2,613.4 1868.4,615.7 1869.6,617.9 1870.8,620.1 1872,622.3 1873.2,624.5 1874.4,626.7 1875.6,628.9 1876.8,631 1878,633.1 1879.2,635.1 1880.4,637.1 1881.6,639 1882.8,640.7 1884,642.4 1885.2,643.9 1886.4,645.3 1887.6,646.7 1888.8,648.1 1890,649.4 1891.2,650.6 1892.4,651.8 1893.6,653 1894.8,654.1 1896,655.3 1897.2,656.3 1898.4,657.4 1899.6,658.5 1900.8,659.5 1902,660.5 1903.2,661.6 1904.4,662.6 1905.6,663.6 1906.8,664.6 1908,665.6 1909.2,666.5 1910.4,667.5 1911.6,668.4 1912.8,669.3 1914,670.2 1915.2,671.1 1916.4,672 1917.6,672.8 1918.8,673.6 1920,674.3 1921.2,675.1 1922.4,675.8 1923.6,676.5 1924.8,677.2 1926,677.8 1927.2,678.5 1928.4,679.1 1929.6,679.8 1930.8,680.4 1932,681 1933.2,681.5 1934.4,682.1 1935.6,682.6 1936.8,683.2 1938,683.7 1939.2,684.2 1940.4,684.6 1941.6,685.1 1942.8,685.5 1944,685.9 1945.2,686.3 1946.4,686.7 1947.6,687.1 1948.8,687.5 1950,687.9 1951.2,688.2 1952.4,688.6 1953.6,689 1954.8,689.4 1956,689.8 1957.2,690.1 1958.4,690.5 1959.6,690.9 1960.8,691.2 1962,691.6 1963.2,692 1964.4,692.3 1965.6,692.7 1966.8,693 1968,693.4 1969.2,693.8 1970.4,694.1 1971.6,694.5 1972.8,694.8 1974,695.2 1975.2,695.6 1976.4,695.9 1977.6,696.3 1978.8,696.6 1980,697 1981.2,697.4 1982.4,697.7 1983.6,698.1 1984.8,698.4 1986,698.8 1987.2,699.2 1988.4,699.5 1989.6,699.9 1990.8,700.2 1992,700.6 1993.2,701 1994.4,701.3 1995.6,701.7 1996.8,702 1998,702.4 1999.2,702.8 2000.4,703.1 2001.6,703.5 2002.8,703.8 2004,704.2 2005.2,704.6 2006.4,704.9 2007.6,705.3 2008.8,705.6 2010,706 L2010,711.7 2008.8,711.7 2007.6,711.6 2006.4,711.6 2005.2,711.6 2004,711.6 2002.8,711.6 2001.6,711.5 2000.4,711.5 1999.2,711.5 1998,711.5 1996.8,711.4 1995.6,711.4 1994.4,711.4 1993.2,711.3 1992,711.3 1990.8,711.3 1989.6,711.2 1988.4,711.2 1987.2,711.2 1986,711.1 1984.8,711.1 1983.6,711 1982.4,711 1981.2,711 1980,710.9 1978.8,710.9 1977.6,710.8 1976.4,710.8 1975.2,710.7 1974,710.7 1972.8,710.6 1971.6,710.6 1970.4,710.5 1969.2,710.4 1968,710.4 1966.8,710.3 1965.6,710.3 1964.4,710.2 1963.2,710.2 1962,710.1 1960.8,710 1959.6,710 1958.4,709.9 1957.2,709.9 1956,709.8 1954.8,709.7 1953.6,709.7 1952.4,709.6 1951.2,709.6 1950,709.5 1948.8,709.4 1947.6,709.4 1946.4,709.3 1945.2,709.2 1944,709.2 1942.8,709.1 1941.6,709 1940.4,709 1939.2,708.9 1938,708.8 1936.8,708.7 1935.6,708.7 1934.4,708.6 1933.2,708.5 1932,708.4 1930.8,708.4 1929.6,708.3 1928.4,708.2 1927.2,708.1 1926,708 1924.8,707.9 1923.6,707.8 1922.4,707.8 1921.2,707.7 1920,707.6 1918.8,707.5 1917.6,707.4 1916.4,707.3 1915.2,707.2 1914,707.1 1912.8,707 1911.6,706.9 1910.4,706.8 1909.2,706.7 1908,706.7 1906.8,706.6 1905.6,706.5 1904.4,706.4 1903.2,706.3 1902,706.2 1900.8,706.1 1899.6,706 1898.4,705.9 1897.2,705.8 1896,705.7 1894.8,705.6 1893.6,705.5 1892.4,705.3 1891.2,705.2 1890,705.1 1888.8,705 1887.6,704.9 1886.4,704.8 1885.2,704.7 1884,704.6 1882.8,704.4 1881.6,704.3 1880.4,704.2 1879.2,704.1 1878,704 1876.8,703.9 1875.6,703.7 1874.4,703.6 1873.2,703.5 1872,703.4 1870.8,703.2 1869.6,703.1 1868.4,703 1867.2,702.9 1866,702.7 1864.8,702.6 1863.6,702.5 1862.4,702.3 1861.2,702.2 1860,702.1 1858.8,702 1857.6,701.8 1856.4,701.7 1855.2,701.6 1854,701.4 1852.8,701.3 1851.6,701.2 1850.4,701 1849.2,700.9 1848,700.8 1846.8,700.6 1845.6,700.5 1844.4,700.4 1843.2,700.2 1842,700.1 1840.8,699.9 1839.6,699.7 1838.4,699.6 1837.2,699.4 1836,699.3 1834.8,699.1 1833.6,698.9 1832.4,698.8 1831.2,698.6 1830,698.5 1828.8,698.3 1827.6,698.1 1826.4,698 1825.2,697.8 1824,697.6 1822.8,697.5 1821.6,697.3 1820.4,697.2 1819.2,697 1818,696.9 1816.8,696.7 1815.6,696.6 1814.4,696.4 1813.2,696.3 1812,696.1 1810.8,696 1809.6,695.9 1808.4,695.8 1807.2,695.6 1806,695.5 1804.8,695.4 1803.6,695.3 1802.4,695.2 1801.2,695.1 1800,695 1798.8,694.9 1797.6,694.8 1796.4,694.7 1795.2,694.7 1794,694.6 1792.8,694.5 1791.6,694.4 1790.4,694.3 1789.2,694.2 1788,694.2 1786.8,694.1 1785.6,694 1784.4,693.9 1783.2,693.9 1782,693.8 1780.8,693.7 1779.6,693.6 1778.4,693.6 1777.2,693.5 1776,693.4 1774.8,693.4 1773.6,693.3 1772.4,693.2 1771.2,693.2 1770,693.1 1768.8,693 1767.6,693 1766.4,692.9 1765.2,692.8 1764,692.8 1762.8,692.7 1761.6,692.6 1760.4,692.6 1759.2,692.5 1758,692.5 1756.8,692.4 1755.6,692.3 1754.4,692.3 1753.2,692.2 1752,692.2 1750.8,692.1 1749.6,692.1 1748.4,692 1747.2,691.9 1746,691.9 1744.8,691.8 1743.6,691.8 1742.4,691.7 1741.2,691.7 1740,691.6 1738.8,691.6 1737.6,691.5 1736.4,691.5 1735.2,691.4 1734,691.4 1732.8,691.3 1731.6,691.3 1730.4,691.2 1729.2,691.2 1728,691.1 1726.8,691.1 1725.6,691 1724.4,691 1723.2,690.9 1722,690.9 1720.8,690.8 1719.6,690.8 1718.4,690.7 1717.2,690.7 1716,690.6 1714.8,690.6 1713.6,690.5 1712.4,690.5 1711.2,690.4 1710,690.4 1708.8,690.3 1707.6,690.3 1706.4,690.3 1705.2,690.2 1704,690.2 1702.8,690.1 1701.6,690.1 1700.4,690 1699.2,690 1698,689.9 1696.8,689.9 1695.6,689.8 1694.4,689.8 1693.2,689.7 1692,689.7 1690.8,689.6 1689.6,689.6 1688.4,689.6 1687.2,689.5 1686,689.5 1684.8,689.4 1683.6,689.4 1682.4,689.3 1681.2,689.3 1680,689.3 1678.8,689.2 1677.6,689.2 1676.4,689.1 1675.2,689.1 1674,689 1672.8,689 1671.6,689 1670.4,688.9 1669.2,688.9 1668,688.9 1666.8,688.8 1665.6,688.8 1664.4,688.7 1663.2,688.7 1662,688.7 1660.8,688.6 1659.6,688.6 1658.4,688.5 1657.2,688.5 1656,688.5 1654.8,688.4 1653.6,688.4 1652.4,688.4 1651.2,688.3 1650,688.3 1648.8,688.2 1647.6,688.2 1646.4,688.2 1645.2,688.1 1644,688.1 1642.8,688.1 1641.6,688 1640.4,688 1639.2,688 1638,687.9 1636.8,687.9 1635.6,687.8 1634.4,687.8 1633.2,687.8 1632,687.7 1630.8,687.7 1629.6,687.7 1628.4,687.6 1627.2,687.6 1626,687.6 1624.8,687.5 1623.6,687.5 1622.4,687.4 1621.2,687.4 1620,687.4 1618.8,687.3 1617.6,687.3 1616.4,687.3 1615.2,687.2 1614,687.2 1612.8,687.2 1611.6,687.1 1610.4,687.1 1609.2,687 1608,687 1606.8,687 1605.6,686.9 1604.4,686.9 1603.2,686.9 1602,686.8 1600.8,686.8 1599.6,686.7 1598.4,686.7 1597.2,686.7 1596,686.6 1594.8,686.6 1593.6,686.5 1592.4,686.5 1591.2,686.5 1590,686.4 1588.8,686.4 1587.6,686.3 1586.4,686.3 1585.2,686.3 1584,686.2 1582.8,686.2 1581.6,686.1 1580.4,686.1 1579.2,686 1578,686 1576.8,686 1575.6,685.9 1574.4,685.9 1573.2,685.8 1572,685.8 1570.8,685.7 1569.6,685.7 1568.4,685.6 1567.2,685.6 1566,685.5 1564.8,685.5 1563.6,685.4 1562.4,685.4 1561.2,685.3 1560,685.3 1558.8,685.2 1557.6,685.2 1556.4,685.1 1555.2,685.1 1554,685 1552.8,685 1551.6,684.9 1550.4,684.9 1549.2,684.8 1548,684.8 1546.8,684.7 1545.6,684.7 1544.4,684.6 1543.2,684.6 1542,684.5 1540.8,684.4 1539.6,684.4 1538.4,684.3 1537.2,684.3 1536,684.2 1534.8,684.2 1533.6,684.1 1532.4,684.1 1531.2,684 1530,684Z" fill="url(#gGD)" clip-path="url(#cPKb)"/>
<path d="M1700,691 1701.5,691.1 1703,691.1 1704.5,691.2 1706,691.2 1707.5,691.3 1709,691.4 1710.5,691.4 1712,691.5 1713.5,691.5 1715,691.6 1716.5,691.7 1718,691.7 1719.5,691.8 1721,691.8 1722.5,691.9 1724,692 1725.5,692 1727,692.1 1728.5,692.1 1730,692.2 1731.5,692.3 1733,692.3 1734.5,692.4 1736,692.5 1737.5,692.5 1739,692.6 1740.5,692.6 1742,692.7 1743.5,692.8 1745,692.8 1746.5,692.9 1748,693 1749.5,693 1751,693.1 1752.5,693.2 1754,693.3 1755.5,693.3 1756.9,693.4 1758.4,693.5 1759.9,693.6 1761.4,693.6 1762.9,693.7 1764.4,693.8 1765.9,693.9 1767.4,693.9 1768.9,694 1770.4,694.1 1771.9,694.2 1773.4,694.3 1774.9,694.4 1776.4,694.4 1777.9,694.5 1779.4,694.6 1780.9,694.7 1782.4,694.8 1783.9,694.9 1785.4,695 1786.9,695.1 1788.4,695.2 1789.9,695.3 1791.4,695.4 1792.9,695.5 1794.4,695.6 1795.9,695.7 1797.4,695.7 1798.9,695.8 1800.4,695.8 1801.9,695.8 1803.4,695.8 1804.9,695.8 1806.4,695.8 1807.9,695.8 1809.4,695.8 1810.9,695.8 1812.4,695.9 1813.9,695.9 1815.4,695.9 1816.9,695.9 1818.4,695.9 1819.9,695.9 1821.4,695.9 1822.9,695.9 1824.4,696 1825.9,696 1827.4,696 1828.9,696 1830.4,696 1831.9,696 1833.4,696 1834.9,696 1836.4,696 1837.9,696.1 1839.4,696.1 1840.9,696.1 1842.4,696.1 1843.9,696.1 1845.4,696.1 1846.9,696.1 1848.4,696.1 1849.9,696.1 1851.4,696.2 1852.9,696.2 1854.4,696.2 1855.9,696.2 1857.4,696.2 1858.9,696.2 1860.4,696.2 1861.9,696.2 1863.4,696.2 1864.9,696.2 1866.4,696.3 1867.9,696.3 1869.4,696.3 1870.8,696.3 1872.3,696.3 1873.8,696.3 1875.3,696.3 1876.8,696.3 1878.3,696.3 1879.8,696.3 1881.3,696.3 1882.8,696.4 1884.3,696.4 1885.8,696.4 1887.3,696.4 1888.8,696.4 1890.3,696.4 1891.8,696.4 1893.3,696.4 1894.8,696.4 1896.3,696.5 1897.8,696.5 1899.3,696.5 1900.8,696.5 1902.3,696.5 1903.8,696.5 1905.3,696.5 1906.8,696.5 1908.3,696.5 1909.8,696.6 1911.3,696.6 1912.8,696.6 1914.3,696.6 1915.8,696.6 1917.3,696.6 1918.8,696.6 1920.3,696.7 1921.8,696.7 1923.3,696.7 1924.8,696.7 1926.3,696.7 1927.8,696.7 1929.3,696.7 1930.8,696.8 1932.3,696.8 1933.8,696.8 1935.3,696.8 1936.8,696.8 1938.3,696.8 1939.8,696.9 1941.3,696.9 1942.8,696.9 1944.3,696.9 1945.8,696.9 1947.3,697 1948.8,697 1950.3,697 1951.8,697 1953.3,697.1 1954.8,697.1 1956.3,697.1 1957.8,697.1 1959.3,697.2 1960.8,697.2 1962.3,697.2 1963.8,697.3 1965.3,697.3 1966.8,697.3 1968.3,697.4 1969.8,697.4 1971.3,697.5 1972.8,697.5 1974.3,697.6 1975.8,697.6 1977.3,697.6 1978.8,697.7 1980.3,697.7 1981.8,697.8 1983.2,697.8 1984.7,697.9 1986.2,698 1987.7,698 1989.2,698.1 1990.7,698.1 1992.2,698.2 1993.7,698.2 1995.2,698.3 1996.7,698.4 1998.2,698.4 1999.7,698.5 2001.2,698.6 2002.7,698.6 2004.2,698.7 2005.7,698.8 2007.2,698.9 2008.7,699 2010.2,699 2011.7,699.1 2013.2,699.2 2014.7,699.3 2016.2,699.4 2017.7,699.6 2019.2,699.7 2020.7,699.8 2022.2,699.9 2023.7,700 2025.2,700.1 2026.7,700.2 2028.2,700.4 2029.7,700.5 2031.2,700.6 2032.7,700.7 2034.2,700.8 2035.7,701 2037.2,701.1 2038.7,701.2 2040.2,701.3 2041.7,701.4 2043.2,701.5 2044.7,701.6 2046.2,701.7 2047.7,701.8 2049.2,701.9 2050.7,702 2052.2,702.1 2053.7,702.2 2055.2,702.3 2056.7,702.4 2058.2,702.5 2059.7,702.6 2061.2,702.7 2062.7,702.8 2064.2,703 2065.7,703.1 2067.2,703.2 2068.7,703.3 2070.2,703.4 2071.7,703.5 2073.2,703.6 2074.7,703.7 2076.2,703.7 2077.7,703.8 2079.2,703.9 2080.7,704 2082.2,704.1 2083.7,704.2 2085.2,704.3 2086.7,704.4 2088.2,704.5 2089.7,704.5 2091.2,704.6 2092.7,704.7 2094.2,704.8 2095.7,704.8 2097.1,704.9 2098.6,704.9 2100.1,705 2101.6,705.1 2103.1,705.1 2104.6,705.2 2106.1,705.2 2107.6,705.3 2109.1,705.3 2110.6,705.4 2112.1,705.4 2113.6,705.5 2115.1,705.5 2116.6,705.6 2118.1,705.6 2119.6,705.6 2121.1,705.7 2122.6,705.7 2124.1,705.8 2125.6,705.8 2127.1,705.9 2128.6,705.9 2130.1,705.9 2131.6,706 2133.1,706 2134.6,706.1 2136.1,706.1 2137.6,706.1 2139.1,706.2 2140.6,706.2 2142.1,706.2 2143.6,706.3 2145.1,706.3 2146.6,706.3 2148.1,706.4 2149.6,706.4 2151.1,706.4 2152.6,706.5 2154.1,706.5 2155.6,706.5 2157.1,706.6 2158.6,706.6 2160.1,706.6 2161.6,706.7 2163.1,706.7 2164.6,706.7 2166.1,706.8 2167.6,706.8 2169.1,706.8 2170.6,706.9 2172.1,706.9 2173.6,706.9 2175.1,707 2176.6,707 2178.1,707 2179.6,707 2181.1,707.1 2182.6,707.1 2184.1,707.1 2185.6,707.2 2187.1,707.2 2188.6,707.2 2190.1,707.3 2191.6,707.3 2193.1,707.3 2194.6,707.4 2196.1,707.4 2197.6,707.4 2199.1,707.5 2200.6,707.5 2202.1,707.5 2203.6,707.6 2205.1,707.6 2206.6,707.7 2208.1,707.7 2209.6,707.7 2211,707.8 2212.5,707.8 2214,707.8 2215.5,707.9 2217,707.9 2218.5,707.9 2220,708 2221.5,708 2223,708 2224.5,708.1 2226,708.1 2227.5,708.1 2229,708.2 2230.5,708.2 2232,708.2 2233.5,708.3 2235,708.3 2236.5,708.3 2238,708.4 2239.5,708.4 2241,708.4 2242.5,708.5 2244,708.5 2245.5,708.5 2247,708.6 2248.5,708.6 2250,708.6 2251.5,708.7 2253,708.7 2254.5,708.7 2256,708.8 2257.5,708.8 2259,708.8 2260.5,708.9 2262,708.9 2263.5,708.9 2265,709 2266.5,709 L2266.5,714.5 2265,714.5 2263.5,714.5 2262,714.5 2260.5,714.5 2259,714.5 2257.5,714.5 2256,714.5 2254.5,714.5 2253,714.5 2251.5,714.5 2250,714.5 2248.5,714.5 2247,714.5 2245.5,714.5 2244,714.5 2242.5,714.5 2241,714.5 2239.5,714.5 2238,714.5 2236.5,714.5 2235,714.5 2233.5,714.5 2232,714.5 2230.5,714.5 2229,714.5 2227.5,714.5 2226,714.5 2224.5,714.5 2223,714.5 2221.5,714.5 2220,714.5 2218.5,714.5 2217,714.5 2215.5,714.5 2214,714.5 2212.5,714.5 2211,714.5 2209.6,714.5 2208.1,714.5 2206.6,714.5 2205.1,714.5 2203.6,714.5 2202.1,714.5 2200.6,714.5 2199.1,714.5 2197.6,714.5 2196.1,714.5 2194.6,714.5 2193.1,714.4 2191.6,714.4 2190.1,714.4 2188.6,714.4 2187.1,714.4 2185.6,714.4 2184.1,714.4 2182.6,714.4 2181.1,714.4 2179.6,714.4 2178.1,714.4 2176.6,714.4 2175.1,714.4 2173.6,714.4 2172.1,714.4 2170.6,714.4 2169.1,714.4 2167.6,714.4 2166.1,714.4 2164.6,714.4 2163.1,714.4 2161.6,714.4 2160.1,714.4 2158.6,714.4 2157.1,714.4 2155.6,714.4 2154.1,714.4 2152.6,714.4 2151.1,714.4 2149.6,714.4 2148.1,714.4 2146.6,714.4 2145.1,714.4 2143.6,714.4 2142.1,714.4 2140.6,714.3 2139.1,714.3 2137.6,714.3 2136.1,714.3 2134.6,714.3 2133.1,714.3 2131.6,714.3 2130.1,714.3 2128.6,714.3 2127.1,714.3 2125.6,714.3 2124.1,714.3 2122.6,714.3 2121.1,714.3 2119.6,714.3 2118.1,714.3 2116.6,714.3 2115.1,714.3 2113.6,714.3 2112.1,714.3 2110.6,714.3 2109.1,714.3 2107.6,714.3 2106.1,714.3 2104.6,714.2 2103.1,714.2 2101.6,714.2 2100.1,714.2 2098.6,714.2 2097.1,714.2 2095.7,714.2 2094.2,714.2 2092.7,714.2 2091.2,714.2 2089.7,714.2 2088.2,714.2 2086.7,714.2 2085.2,714.2 2083.7,714.2 2082.2,714.2 2080.7,714.2 2079.2,714.2 2077.7,714.2 2076.2,714.1 2074.7,714.1 2073.2,714.1 2071.7,714.1 2070.2,714.1 2068.7,714.1 2067.2,714.1 2065.7,714.1 2064.2,714.1 2062.7,714.1 2061.2,714.1 2059.7,714.1 2058.2,714.1 2056.7,714.1 2055.2,714.1 2053.7,714.1 2052.2,714.1 2050.7,714 2049.2,714 2047.7,714 2046.2,714 2044.7,714 2043.2,714 2041.7,714 2040.2,714 2038.7,714 2037.2,714 2035.7,714 2034.2,714 2032.7,714 2031.2,713.9 2029.7,713.9 2028.2,713.9 2026.7,713.9 2025.2,713.9 2023.7,713.9 2022.2,713.8 2020.7,713.8 2019.2,713.8 2017.7,713.8 2016.2,713.8 2014.7,713.7 2013.2,713.7 2011.7,713.7 2010.2,713.7 2008.7,713.7 2007.2,713.6 2005.7,713.6 2004.2,713.6 2002.7,713.6 2001.2,713.5 1999.7,713.5 1998.2,713.5 1996.7,713.4 1995.2,713.4 1993.7,713.4 1992.2,713.3 1990.7,713.3 1989.2,713.2 1987.7,713.2 1986.2,713.1 1984.7,713.1 1983.2,713 1981.8,713 1980.3,712.9 1978.8,712.9 1977.3,712.8 1975.8,712.7 1974.3,712.7 1972.8,712.6 1971.3,712.5 1969.8,712.5 1968.3,712.4 1966.8,712.3 1965.3,712.3 1963.8,712.2 1962.3,712.1 1960.8,712 1959.3,712 1957.8,711.9 1956.3,711.8 1954.8,711.7 1953.3,711.7 1951.8,711.6 1950.3,711.5 1948.8,711.4 1947.3,711.4 1945.8,711.3 1944.3,711.2 1942.8,711.1 1941.3,711 1939.8,710.9 1938.3,710.8 1936.8,710.7 1935.3,710.6 1933.8,710.6 1932.3,710.5 1930.8,710.4 1929.3,710.2 1927.8,710.1 1926.3,710 1924.8,709.9 1923.3,709.8 1921.8,709.7 1920.3,709.6 1918.8,709.5 1917.3,709.4 1915.8,709.3 1914.3,709.1 1912.8,709 1911.3,708.9 1909.8,708.8 1908.3,708.7 1906.8,708.6 1905.3,708.4 1903.8,708.3 1902.3,708.2 1900.8,708.1 1899.3,707.9 1897.8,707.8 1896.3,707.7 1894.8,707.6 1893.3,707.4 1891.8,707.3 1890.3,707.2 1888.8,707 1887.3,706.9 1885.8,706.7 1884.3,706.6 1882.8,706.4 1881.3,706.3 1879.8,706.2 1878.3,706 1876.8,705.9 1875.3,705.7 1873.8,705.5 1872.3,705.4 1870.8,705.2 1869.4,705.1 1867.9,704.9 1866.4,704.8 1864.9,704.6 1863.4,704.4 1861.9,704.3 1860.4,704.1 1858.9,704 1857.4,703.8 1855.9,703.6 1854.4,703.5 1852.9,703.3 1851.4,703.1 1849.9,703 1848.4,702.8 1846.9,702.6 1845.4,702.5 1843.9,702.3 1842.4,702.1 1840.9,701.9 1839.4,701.7 1837.9,701.5 1836.4,701.3 1834.9,701.1 1833.4,700.9 1831.9,700.7 1830.4,700.5 1828.9,700.3 1827.4,700.1 1825.9,699.9 1824.4,699.7 1822.9,699.5 1821.4,699.3 1819.9,699.1 1818.4,698.9 1816.9,698.7 1815.4,698.5 1813.9,698.4 1812.4,698.2 1810.9,698 1809.4,697.9 1807.9,697.7 1806.4,697.6 1804.9,697.4 1803.4,697.3 1801.9,697.1 1800.4,697 1798.9,696.9 1797.4,696.8 1795.9,696.7 1794.4,696.6 1792.9,696.5 1791.4,696.4 1789.9,696.3 1788.4,696.2 1786.9,696.1 1785.4,696 1783.9,695.9 1782.4,695.8 1780.9,695.7 1779.4,695.6 1777.9,695.5 1776.4,695.4 1774.9,695.4 1773.4,695.3 1771.9,695.2 1770.4,695.1 1768.9,695 1767.4,694.9 1765.9,694.9 1764.4,694.8 1762.9,694.7 1761.4,694.6 1759.9,694.6 1758.4,694.5 1756.9,694.4 1755.5,694.3 1754,694.3 1752.5,694.2 1751,694.1 1749.5,694 1748,694 1746.5,693.9 1745,693.8 1743.5,693.8 1742,693.7 1740.5,693.6 1739,693.6 1737.5,693.5 1736,693.5 1734.5,693.4 1733,693.3 1731.5,693.3 1730,693.2 1728.5,693.1 1727,693.1 1725.5,693 1724,693 1722.5,692.9 1721,692.8 1719.5,692.8 1718,692.7 1716.5,692.7 1715,692.6 1713.5,692.5 1712,692.5 1710.5,692.4 1709,692.4 1707.5,692.3 1706,692.2 1704.5,692.2 1703,692.1 1701.5,692.1 1700,692Z" fill="#36e6f0"/>
</g>
<path d="M1371,682.5 1372,682.5 1373,682.5 1374,682.5 1375,682.6 1376,682.6 1377,682.6 1378,682.6 1379,682.6 1380,682.6 1381,682.6 1382,682.7 1383,682.7 1384,682.7 1385,682.7 1386,682.7 1387,682.7 1388,682.8 1389,682.8 1390,682.8 1391,682.8 1392,682.8 1393,682.8 1394,682.9 1395,682.9 1396,682.9 1397,682.9 1398,682.9 1399,683 1400,683 1401,683 1402,683 1403,683 1404,683.1 1405,683.1 1406,683.1 1407,683.1 1408,683.1 1409,683.2 1410,683.2 1411,683.2 1412,683.2 1413,683.2 1414,683.3 1415,683.3 1416,683.3 1417,683.3 1418,683.4 1419,683.4 1420,683.4 1421,683.4 1422,683.4 1423,683.5 1424,683.5 1425,683.5 1426,683.5 1427,683.6 1428,683.6 1429,683.6 1430,683.6 1431,683.7 1432,683.7 1433,683.7 1434,683.7 1435,683.8 1436,683.8 1437,683.8 1438,683.8 1439,683.9 1440,683.9 1441,683.9 1442,683.9 1443,684 1444,684 1445,684 1446,684 1447,684.1 1448,684.1 1449,684.1 1450,684.2 1451,684.2 1452,684.2 1453,684.2 1454,684.3 1455,684.3 1456,684.3 1457,684.3 1458,684.4 1459,684.4 1460,684.4 1460.9,684.5 1461.9,684.5 1462.9,684.5 1463.9,684.5 1464.9,684.6 1465.9,684.6 1466.9,684.6 1467.9,684.6 1468.9,684.7 1469.9,684.7 1470.9,684.7 1471.9,684.8 1472.9,684.8 1473.9,684.8 1474.9,684.9 1475.9,684.9 1476.9,684.9 1477.9,684.9 1478.9,685 1479.9,685 1480.9,685 1481.9,685.1 1482.9,685.1 1483.9,685.1 1484.9,685.2 1485.9,685.2 1486.9,685.2 1487.9,685.3 1488.9,685.3 1489.9,685.3 1490.9,685.4 1491.9,685.4 1492.9,685.4 1493.9,685.5 1494.9,685.5 1495.9,685.5 1496.9,685.6 1497.9,685.6 1498.9,685.6 1499.9,685.7 1500.9,685.7 1501.9,685.8 1502.9,685.8 1503.9,685.8 1504.9,685.9 1505.9,685.9 1506.9,686 1507.9,686 1508.9,686 1509.9,686.1 1510.9,686.1 1511.9,686.2 1512.9,686.2 1513.9,686.3 1514.9,686.3 1515.9,686.3 1516.9,686.4 1517.9,686.4 1518.9,686.5 1519.9,686.5 1520.9,686.6 1521.9,686.6 1522.9,686.6 1523.9,686.7 1524.9,686.7 1525.9,686.8 1526.9,686.8 1527.9,686.9 1528.9,686.9 1529.9,687 1530.9,687 1531.9,687 1532.9,687.1 1533.9,687.1 1534.9,687.2 1535.9,687.2 1536.9,687.3 1537.9,687.3 1538.9,687.4 1539.9,687.4 1540.9,687.4 1541.9,687.5 1542.9,687.5 1543.9,687.6 1544.9,687.6 1545.9,687.7 1546.9,687.7 1547.9,687.8 1548.9,687.8 1549.9,687.8 1550.9,687.9 1551.9,687.9 1552.9,688 1553.9,688 1554.9,688.1 1555.9,688.1 1556.9,688.2 1557.9,688.2 1558.9,688.2 1559.9,688.3 1560.9,688.3 1561.9,688.4 1562.9,688.4 1563.9,688.4 1564.9,688.5 1565.9,688.5 1566.9,688.6 1567.9,688.6 1568.9,688.7 1569.9,688.7 1570.9,688.7 1571.9,688.8 1572.9,688.8 1573.9,688.8 1574.9,688.9 1575.9,688.9 1576.9,689 1577.9,689 1578.9,689 1579.9,689.1 1580.9,689.1 1581.9,689.1 1582.9,689.2 1583.9,689.2 1584.9,689.2 1585.9,689.3 1586.9,689.3 1587.9,689.3 1588.9,689.4 1589.9,689.4 1590.9,689.5 1591.9,689.5 1592.9,689.5 1593.9,689.6 1594.9,689.6 1595.9,689.6 1596.9,689.7 1597.9,689.7 1598.9,689.7 1599.9,689.7 1600.9,689.8 1601.9,689.8 1602.9,689.8 1603.9,689.9 1604.9,689.9 1605.9,689.9 1606.9,690 1607.9,690 1608.9,690 1609.9,690.1 1610.9,690.1 1611.9,690.1 1612.9,690.2 1613.9,690.2 1614.9,690.2 1615.9,690.3 1616.9,690.3 1617.9,690.3 1618.9,690.3 1619.9,690.4 1620.9,690.4 1621.9,690.4 1622.9,690.5 1623.9,690.5 1624.9,690.5 1625.9,690.6 1626.9,690.6 1627.9,690.6 1628.9,690.6 1629.9,690.7 1630.9,690.7 1631.9,690.7 1632.9,690.8 1633.9,690.8 1634.9,690.8 1635.9,690.9 1636.9,690.9 1637.9,690.9 1638.9,690.9 1639.8,691 1640.8,691 1641.8,691 1642.8,691.1 1643.8,691.1 1644.8,691.1 1645.8,691.2 1646.8,691.2 1647.8,691.2 1648.8,691.2 1649.8,691.3 1650.8,691.3 1651.8,691.3 1652.8,691.4 1653.8,691.4 1654.8,691.4 1655.8,691.5 1656.8,691.5 1657.8,691.5 1658.8,691.6 1659.8,691.6 1660.8,691.6 1661.8,691.7 1662.8,691.7 1663.8,691.7 1664.8,691.7 1665.8,691.8 1666.8,691.8 1667.8,691.8 1668.8,691.9 1669.8,691.9 1670.8,691.9 1671.8,692 1672.8,692 1673.8,692 1674.8,692.1 1675.8,692.1 1676.8,692.1 1677.8,692.2 1678.8,692.2 1679.8,692.2 1680.8,692.3 1681.8,692.3 1682.8,692.4 1683.8,692.4 1684.8,692.4 1685.8,692.5 1686.8,692.5 1687.8,692.5 1688.8,692.6 1689.8,692.6 1690.8,692.6 1691.8,692.7 1692.8,692.7 1693.8,692.8 1694.8,692.8 1695.8,692.8 1696.8,692.9 1697.8,692.9 1698.8,693 1699.8,693 1700.8,693 1701.8,693.1 1702.8,693.1 1703.8,693.2 1704.8,693.2 1705.8,693.2 1706.8,693.3 1707.8,693.3 1708.8,693.3 1709.8,693.4 1710.8,693.4 1711.8,693.5 1712.8,693.5 1713.8,693.5 1714.8,693.6 1715.8,693.6 1716.8,693.7 1717.8,693.7 1718.8,693.7 1719.8,693.8 1720.8,693.8 1721.8,693.9 1722.8,693.9 1723.8,693.9 1724.8,694 1725.8,694 1726.8,694.1 1727.8,694.1 1728.8,694.2 1729.8,694.2 1730.8,694.2 1731.8,694.3 1732.8,694.3 1733.8,694.4 1734.8,694.4 1735.8,694.4 1736.8,694.5 1737.8,694.5 1738.8,694.6 1739.8,694.6 1740.8,694.7 1741.8,694.7 1742.8,694.7 1743.8,694.8 1744.8,694.8 1745.8,694.9 1746.8,694.9 1747.8,695 1748.8,695 1749.8,695.1 1750.8,695.1 1751.8,695.2 1752.8,695.2 1753.8,695.3 1754.8,695.3 1755.8,695.3 1756.8,695.4 1757.8,695.4 1758.8,695.5 1759.8,695.5 1760.8,695.6 1761.8,695.6 1762.8,695.7 1763.8,695.8 1764.8,695.8 1765.8,695.9 1766.8,695.9 1767.8,696 1768.8,696 1769.8,696.1 1770.8,696.1 1771.8,696.2 1772.8,696.2 1773.8,696.3 1774.8,696.4 1775.8,696.4 1776.8,696.5 1777.8,696.5 1778.8,696.6 1779.8,696.6 1780.8,696.7 1781.8,696.8 1782.8,696.8 1783.8,696.9 1784.8,697 1785.8,697 1786.8,697.1 1787.8,697.1 1788.8,697.2 1789.8,697.3 1790.8,697.3 1791.8,697.4 1792.8,697.5 1793.8,697.6 1794.8,697.6 1795.8,697.7 1796.8,697.8 1797.8,697.8 1798.8,697.9 1799.8,698 1800.8,698.1 1801.8,698.1 1802.8,698.2 1803.8,698.3 1804.8,698.4 1805.8,698.5 1806.8,698.6 1807.8,698.7 1808.8,698.8 1809.8,698.9 1810.8,699 1811.8,699.1 1812.8,699.2 1813.8,699.3 1814.8,699.5 1815.8,699.6 1816.8,699.7 1817.8,699.8 1818.8,700 1819.7,700.1 1820.7,700.2 1821.7,700.3 1822.7,700.5 1823.7,700.6 1824.7,700.7 1825.7,700.9 1826.7,701 1827.7,701.2 1828.7,701.3 1829.7,701.4 1830.7,701.6 1831.7,701.7 1832.7,701.8 1833.7,702 1834.7,702.1 1835.7,702.2 1836.7,702.4 1837.7,702.5 1838.7,702.6 1839.7,702.8 1840.7,702.9 1841.7,703 1842.7,703.1 1843.7,703.3 1844.7,703.4 1845.7,703.5 1846.7,703.6 1847.7,703.7 1848.7,703.9 1849.7,704 1850.7,704.1 1851.7,704.2 1852.7,704.3 1853.7,704.4 1854.7,704.5 1855.7,704.6 1856.7,704.7 1857.7,704.8 1858.7,704.9 1859.7,705.1 1860.7,705.2 1861.7,705.3 1862.7,705.4 1863.7,705.5 1864.7,705.6 1865.7,705.7 1866.7,705.8 1867.7,705.9 1868.7,706 1869.7,706.1 1870.7,706.2 1871.7,706.3 1872.7,706.4 1873.7,706.5 1874.7,706.6 1875.7,706.7 1876.7,706.8 1877.7,706.9 1878.7,707 1879.7,707.1 1880.7,707.2 1881.7,707.3 1882.7,707.4 1883.7,707.5 1884.7,707.6 1885.7,707.7 1886.7,707.8 1887.7,707.9 1888.7,708 1889.7,708.1 1890.7,708.2 1891.7,708.3 1892.7,708.4 1893.7,708.5 1894.7,708.5 1895.7,708.6 1896.7,708.7 1897.7,708.8 1898.7,708.9 1899.7,709 1900.7,709.1 1901.7,709.1 1902.7,709.2 1903.7,709.3 1904.7,709.4 1905.7,709.5 1906.7,709.5 1907.7,709.6 1908.7,709.7 1909.7,709.8 1910.7,709.9 1911.7,709.9 1912.7,710 1913.7,710.1 1914.7,710.2 1915.7,710.3 1916.7,710.3 1917.7,710.4 1918.7,710.5 1919.7,710.6 1920.7,710.6 1921.7,710.7 1922.7,710.8 1923.7,710.9 1924.7,710.9 1925.7,711 1926.7,711.1 1927.7,711.1 1928.7,711.2 1929.7,711.3 1930.7,711.3 1931.7,711.4 1932.7,711.5 1933.7,711.5 1934.7,711.6 1935.7,711.7 1936.7,711.7 1937.7,711.8 1938.7,711.9 1939.7,711.9 1940.7,712 1941.7,712 1942.7,712.1 1943.7,712.2 1944.7,712.2 1945.7,712.3 1946.7,712.3 1947.7,712.4 1948.7,712.4 1949.7,712.5 1950.7,712.5 1951.7,712.6 1952.7,712.6 1953.7,712.7 1954.7,712.7 1955.7,712.8 1956.7,712.8 1957.7,712.9 1958.7,712.9 1959.7,713 1960.7,713 1961.7,713.1 1962.7,713.1 1963.7,713.2 1964.7,713.2 1965.7,713.3 1966.7,713.3 1967.7,713.4 1968.7,713.4 1969.7,713.5 1970.7,713.5 1971.7,713.6 1972.7,713.6 1973.7,713.6 1974.7,713.7 1975.7,713.7 1976.7,713.8 1977.7,713.8 1978.7,713.9 1979.7,713.9 1980.7,713.9 1981.7,714 1982.7,714 1983.7,714 1984.7,714.1 1985.7,714.1 1986.7,714.1 1987.7,714.2 1988.7,714.2 1989.7,714.2 1990.7,714.3 1991.7,714.3 1992.7,714.3 1993.7,714.4 1994.7,714.4 1995.7,714.4 1996.7,714.4 1997.7,714.5 1998.6,714.5 1999.6,714.5 2000.6,714.5 2001.6,714.5 2002.6,714.5 2003.6,714.6 2004.6,714.6 2005.6,714.6 2006.6,714.6 2007.6,714.6 2008.6,714.7 2009.6,714.7 2010.6,714.7 2011.6,714.7 2012.6,714.7 2013.6,714.7 2014.6,714.7 2015.6,714.8 2016.6,714.8 2017.6,714.8 2018.6,714.8 2019.6,714.8 2020.6,714.8 2021.6,714.8 2022.6,714.9 2023.6,714.9 2024.6,714.9 2025.6,714.9 2026.6,714.9 2027.6,714.9 2028.6,714.9 2029.6,714.9 2030.6,714.9 2031.6,714.9 2032.6,715 2033.6,715 2034.6,715 2035.6,715 2036.6,715 2037.6,715 2038.6,715 2039.6,715 2040.6,715 2041.6,715 2042.6,715 2043.6,715 2044.6,715 2045.6,715 2046.6,715 2047.6,715 2048.6,715 2049.6,715 2050.6,715 2051.6,715.1 2052.6,715.1 2053.6,715.1 2054.6,715.1 2055.6,715.1 2056.6,715.1 2057.6,715.1 2058.6,715.1 2059.6,715.1 2060.6,715.1 2061.6,715.1 2062.6,715.1 2063.6,715.1 2064.6,715.1 2065.6,715.1 2066.6,715.1 2067.6,715.1 2068.6,715.1 2069.6,715.1 2070.6,715.1 2071.6,715.1 2072.6,715.1 2073.6,715.1 2074.6,715.1 2075.6,715.1 2076.6,715.2 2077.6,715.2 2078.6,715.2 2079.6,715.2 2080.6,715.2 2081.6,715.2 2082.6,715.2 2083.6,715.2 2084.6,715.2 2085.6,715.2 2086.6,715.2 2087.6,715.2 2088.6,715.2 2089.6,715.2 2090.6,715.2 2091.6,715.2 2092.6,715.2 2093.6,715.2 2094.6,715.2 2095.6,715.2 2096.6,715.2 2097.6,715.2 2098.6,715.2 2099.6,715.2 2100.6,715.2 2101.6,715.2 2102.6,715.2 2103.6,715.2 2104.6,715.2 2105.6,715.3 2106.6,715.3 2107.6,715.3 2108.6,715.3 2109.6,715.3 2110.6,715.3 2111.6,715.3 2112.6,715.3 2113.6,715.3 2114.6,715.3 2115.6,715.3 2116.6,715.3 2117.6,715.3 2118.6,715.3 2119.6,715.3 2120.6,715.3 2121.6,715.3 2122.6,715.3 2123.6,715.3 2124.6,715.3 2125.6,715.3 2126.6,715.3 2127.6,715.3 2128.6,715.3 2129.6,715.3 2130.6,715.3 2131.6,715.3 2132.6,715.3 2133.6,715.3 2134.6,715.3 2135.6,715.3 2136.6,715.3 2137.6,715.3 2138.6,715.3 2139.6,715.3 2140.6,715.3 2141.6,715.4 2142.6,715.4 2143.6,715.4 2144.6,715.4 2145.6,715.4 2146.6,715.4 2147.6,715.4 2148.6,715.4 2149.6,715.4 2150.6,715.4 2151.6,715.4 2152.6,715.4 2153.6,715.4 2154.6,715.4 2155.6,715.4 2156.6,715.4 2157.6,715.4 2158.6,715.4 2159.6,715.4 2160.6,715.4 2161.6,715.4 2162.6,715.4 2163.6,715.4 2164.6,715.4 2165.6,715.4 2166.6,715.4 2167.6,715.4 2168.6,715.4 2169.6,715.4 2170.6,715.4 2171.6,715.4 2172.6,715.4 2173.6,715.4 2174.6,715.4 2175.6,715.4 2176.6,715.4 2177.5,715.4 2178.5,715.4 2179.5,715.4 2180.5,715.4 2181.5,715.4 2182.5,715.4 2183.5,715.4 2184.5,715.4 2185.5,715.4 2186.5,715.4 2187.5,715.4 2188.5,715.4 2189.5,715.4 2190.5,715.4 2191.5,715.4 2192.5,715.4 2193.5,715.4 2194.5,715.5 2195.5,715.5 2196.5,715.5 2197.5,715.5 2198.5,715.5 2199.5,715.5 2200.5,715.5 2201.5,715.5 2202.5,715.5 2203.5,715.5 2204.5,715.5 2205.5,715.5 2206.5,715.5 2207.5,715.5 2208.5,715.5 2209.5,715.5 2210.5,715.5 2211.5,715.5 2212.5,715.5 2213.5,715.5 2214.5,715.5 2215.5,715.5 2216.5,715.5 2217.5,715.5 2218.5,715.5 2219.5,715.5 2220.5,715.5 2221.5,715.5 2222.5,715.5 2223.5,715.5 2224.5,715.5 2225.5,715.5 2226.5,715.5 2227.5,715.5 2228.5,715.5 2229.5,715.5 2230.5,715.5 2231.5,715.5 2232.5,715.5 2233.5,715.5 2234.5,715.5 2235.5,715.5 2236.5,715.5 2237.5,715.5 2238.5,715.5 2239.5,715.5 2240.5,715.5 2241.5,715.5 2242.5,715.5 2243.5,715.5 2244.5,715.5 2245.5,715.5 2246.5,715.5 2247.5,715.5 2248.5,715.5 2249.5,715.5 2250.5,715.5 2251.5,715.5 2252.5,715.5 2253.5,715.5 2254.5,715.5 2255.5,715.5 2256.5,715.5 2257.5,715.5 2258.5,715.5 2259.5,715.5 2260.5,715.5 2261.5,715.5 2262.5,715.5 2263.5,715.5 2264.5,715.5 2265.5,715.5 2266.5,715.5" fill="none" stroke="#ff5f0f" stroke-width="5.5"/>
<path d="M1371,664 1372,663.2 1373,662.5 1374,661.7 1375,660.8 1376,660 1377,659.2 1378,658.3 1379,657.4 1380,656.5 1381,655.5 1382,654.6 1383,653.6 1384,652.6 1385,651.6 1386,650.5 1387,649.5 1388,648.4 1389,647.2 1390,646.1 1391,644.9 1392,643.7 1393,642.4 1394,641.1 1395,639.8 1396,638.5 1397,637.1 1398,635.7 1399,634.2 1400,632.7 1401,631.1 1402,629.5 1403,627.9 1404,626.2 1405,624.5 1406,622.7 1407,620.8 1408,618.9 1409,617 1410,615 1411,612.9 1412,610.7 1413,608.5 1414,606.2 1415,603.8 1416,601.4 1417,598.9 1418,596.3 1419,593.6 1420,590.8 1421,587.9 1422,585 1423,581.9 1424,578.8 1425,575.6 1426,572.3 1427,568.9 1428,565.5 1429,562 1430,558.4 1431,554.8 1432,551.2 1433,547.5 1434,543.8 1435,540.2 1436,536.6 1437,532.9 1438,529.4 1439,525.9 1440,522.4 1441,519 1442,515.6 1443,512.3 1444,509 1445,505.8 1446,502.6 1447,499.4 1448,496.4 1449,493.5 1450,490.8 1451,488.3 1452,486 1453,484 1454,482.2 1455,480.6 1456,479.3 1457,478.2 1458,477.3 1459,476.6 1460,475.9 1460.9,475.4 1461.9,474.9 1462.9,474.4 1463.9,474 1464.9,473.5 1465.9,473 1466.9,472.5 1467.9,472.1 1468.9,471.6 1469.9,471.2 1470.9,470.7 1471.9,470.4 1472.9,470 1473.9,469.8 1474.9,469.6 1475.9,469.5 1476.9,469.4 1477.9,469.5 1478.9,469.6 1479.9,469.9 1480.9,470.2 1481.9,470.7 1482.9,471.3 1483.9,472 1484.9,472.8 1485.9,473.6 1486.9,474.6 1487.9,475.7 1488.9,476.8 1489.9,478 1490.9,479.3 1491.9,480.5 1492.9,481.9 1493.9,483.3 1494.9,484.7 1495.9,486.2 1496.9,487.7 1497.9,489.3 1498.9,490.9 1499.9,492.6 1500.9,494.4 1501.9,496.2 1502.9,498.1 1503.9,500.1 1504.9,502.2 1505.9,504.4 1506.9,506.6 1507.9,509 1508.9,511.5 1509.9,514.1 1510.9,516.8 1511.9,519.7 1512.9,522.7 1513.9,525.8 1514.9,529.1 1515.9,532.5 1516.9,536 1517.9,539.7 1518.9,543.4 1519.9,547.3 1520.9,551.1 1521.9,555 1522.9,558.9 1523.9,562.7 1524.9,566.5 1525.9,570.1 1526.9,573.7 1527.9,577.2 1528.9,580.6 1529.9,583.8 1530.9,586.9 1531.9,589.9 1532.9,592.8 1533.9,595.5 1534.9,598.2 1535.9,600.7 1536.9,603.1 1537.9,605.5 1538.9,607.7 1539.9,609.9 1540.9,611.9 1541.9,613.9 1542.9,615.8 1543.9,617.7 1544.9,619.4 1545.9,621.1 1546.9,622.8 1547.9,624.4 1548.9,625.9 1549.9,627.4 1550.9,628.8 1551.9,630.2 1552.9,631.6 1553.9,632.9 1554.9,634.1 1555.9,635.3 1556.9,636.5 1557.9,637.7 1558.9,638.8 1559.9,639.8 1560.9,640.9 1561.9,641.9 1562.9,642.9 1563.9,643.8 1564.9,644.8 1565.9,645.7 1566.9,646.6 1567.9,647.4 1568.9,648.2 1569.9,649 1570.9,649.8 1571.9,650.6 1572.9,651.3 1573.9,652 1574.9,652.7 1575.9,653.4 1576.9,654 1577.9,654.6 1578.9,655.2 1579.9,655.8 1580.9,656.4 1581.9,656.9 1582.9,657.4 1583.9,657.9 1584.9,658.4 1585.9,658.9 1586.9,659.3 1587.9,659.7 1588.9,660.1 1589.9,660.5 1590.9,660.9 1591.9,661.2 1592.9,661.5 1593.9,661.8 1594.9,662.1 1595.9,662.4 1596.9,662.6 1597.9,662.9 1598.9,663.1 1599.9,663.2 1600.9,663.4 1601.9,663.5 1602.9,663.7 1603.9,663.8 1604.9,663.8 1605.9,663.9 1606.9,664 1607.9,664 1608.9,664 1609.9,664 1610.9,663.9 1611.9,663.8 1612.9,663.8 1613.9,663.7 1614.9,663.6 1615.9,663.4 1616.9,663.3 1617.9,663.1 1618.9,662.9 1619.9,662.7 1620.9,662.5 1621.9,662.3 1622.9,662.1 1623.9,661.8 1624.9,661.5 1625.9,661.3 1626.9,661 1627.9,660.7 1628.9,660.4 1629.9,660 1630.9,659.7 1631.9,659.4 1632.9,659 1633.9,658.7 1634.9,658.3 1635.9,657.9 1636.9,657.5 1637.9,657.1 1638.9,656.7 1639.8,656.3 1640.8,655.8 1641.8,655.4 1642.8,654.9 1643.8,654.5 1644.8,654 1645.8,653.5 1646.8,653 1647.8,652.5 1648.8,652 1649.8,651.4 1650.8,650.9 1651.8,650.3 1652.8,649.7 1653.8,649.1 1654.8,648.5 1655.8,647.9 1656.8,647.3 1657.8,646.6 1658.8,646 1659.8,645.3 1660.8,644.6 1661.8,644 1662.8,643.3 1663.8,642.6 1664.8,641.9 1665.8,641.2 1666.8,640.5 1667.8,639.9 1668.8,639.2 1669.8,638.5 1670.8,637.8 1671.8,637.2 1672.8,636.5 1673.8,635.9 1674.8,635.3 1675.8,634.7 1676.8,634.1 1677.8,633.5 1678.8,632.9 1679.8,632.3 1680.8,631.8 1681.8,631.3 1682.8,630.8 1683.8,630.3 1684.8,629.8 1685.8,629.3 1686.8,628.8 1687.8,628.4 1688.8,627.9 1689.8,627.5 1690.8,627.1 1691.8,626.6 1692.8,626.2 1693.8,625.7 1694.8,625.3 1695.8,624.8 1696.8,624.4 1697.8,623.9 1698.8,623.4 1699.8,622.9 1700.8,622.4 1701.8,621.9 1702.8,621.3 1703.8,620.7 1704.8,620.1 1705.8,619.5 1706.8,618.8 1707.8,618.1 1708.8,617.4 1709.8,616.7 1710.8,615.9 1711.8,615.1 1712.8,614.3 1713.8,613.4 1714.8,612.5 1715.8,611.6 1716.8,610.6 1717.8,609.6 1718.8,608.5 1719.8,607.4 1720.8,606.3 1721.8,605.1 1722.8,603.8 1723.8,602.6 1724.8,601.2 1725.8,599.9 1726.8,598.5 1727.8,597 1728.8,595.5 1729.8,593.9 1730.8,592.3 1731.8,590.6 1732.8,588.9 1733.8,587.1 1734.8,585.3 1735.8,583.4 1736.8,581.4 1737.8,579.4 1738.8,577.3 1739.8,575.1 1740.8,572.8 1741.8,570.5 1742.8,568.1 1743.8,565.6 1744.8,563 1745.8,560.3 1746.8,557.6 1747.8,554.7 1748.8,551.7 1749.8,548.7 1750.8,545.5 1751.8,542.3 1752.8,538.9 1753.8,535.4 1754.8,531.9 1755.8,528.2 1756.8,524.5 1757.8,520.6 1758.8,516.7 1759.8,512.6 1760.8,508.4 1761.8,504.2 1762.8,499.7 1763.8,495.2 1764.8,490.5 1765.8,485.7 1766.8,480.7 1767.8,475.6 1768.8,470.3 1769.8,464.8 1770.8,459.2 1771.8,453.5 1772.8,447.6 1773.8,441.5 1774.8,435.3 1775.8,429 1776.8,422.6 1777.8,416.1 1778.8,409.5 1779.8,402.9 1780.8,396.3 1781.8,389.7 1782.8,383.2 1783.8,376.8 1784.8,370.4 1785.8,364.1 1786.8,357.9 1787.8,351.8 1788.8,345.8 1789.8,339.9 1790.8,334 1791.8,328.2 1792.8,322.5 1793.8,316.8 1794.8,311.2 1795.8,305.7 1796.8,300.2 1797.8,294.8 1798.8,289.4 1799.8,284.1 1800.8,278.9 1801.8,273.7 1802.8,268.5 1803.8,263.5 1804.8,258.4 1805.8,253.4 1806.8,248.5 1807.8,243.6 1808.8,238.7 1809.8,233.8 1810.8,228.9 1811.8,224 1812.8,219.1 1813.8,214.1 1814.8,209.1 1815.8,204.1 1816.8,199.2 1817.8,194.5 1818.8,190 1819.7,185.7 1820.7,181.6 1821.7,177.7 1822.7,174 1823.7,170.5 1824.7,167.1 1825.7,163.8 1826.7,160.6 1827.7,157.7 1828.7,154.8 1829.7,152.2 1830.7,149.7 1831.7,147.4 1832.7,145.4 1833.7,143.5 1834.7,141.8 1835.7,140.3 1836.7,139.1 1837.7,138.4 1838.7,138.2 1839.7,138.8 1840.7,140.1 1841.7,142 1842.7,144.4 1843.7,147.1 1844.7,149.9 1845.7,152.7 1846.7,155.4 1847.7,158.1 1848.7,160.7 1849.7,163.3 1850.7,165.9 1851.7,168.6 1852.7,171.5 1853.7,174.7 1854.7,178.3 1855.7,182.2 1856.7,186.4 1857.7,190.8 1858.7,195.1 1859.7,199.5 1860.7,204 1861.7,208.5 1862.7,213 1863.7,217.7 1864.7,222.3 1865.7,227.1 1866.7,231.9 1867.7,236.8 1868.7,241.7 1869.7,246.8 1870.7,251.9 1871.7,257.1 1872.7,262.3 1873.7,267.7 1874.7,273.1 1875.7,278.7 1876.7,284.3 1877.7,290 1878.7,295.8 1879.7,301.7 1880.7,307.7 1881.7,313.8 1882.7,320 1883.7,326.3 1884.7,332.7 1885.7,339.2 1886.7,345.9 1887.7,352.6 1888.7,359.4 1889.7,366.4 1890.7,373.4 1891.7,380.6 1892.7,387.8 1893.7,395.2 1894.7,402.6 1895.7,410.2 1896.7,417.8 1897.7,425.5 1898.7,433.3 1899.7,441.2 1900.7,449.1 1901.7,457.1 1902.7,465.2 1903.7,473.1 1904.7,481 1905.7,488.6 1906.7,495.9 1907.7,503 1908.7,509.7 1909.7,516.2 1910.7,522.3 1911.7,528.1 1912.7,533.6 1913.7,538.9 1914.7,543.9 1915.7,548.7 1916.7,553.3 1917.7,557.7 1918.7,561.9 1919.7,565.9 1920.7,569.7 1921.7,573.5 1922.7,577 1923.7,580.5 1924.7,583.8 1925.7,587 1926.7,590.1 1927.7,593.1 1928.7,596 1929.7,598.8 1930.7,601.5 1931.7,604.2 1932.7,606.8 1933.7,609.3 1934.7,611.7 1935.7,614 1936.7,616.3 1937.7,618.5 1938.7,620.7 1939.7,622.8 1940.7,624.8 1941.7,626.7 1942.7,628.6 1943.7,630.4 1944.7,632.2 1945.7,633.9 1946.7,635.5 1947.7,637.1 1948.7,638.6 1949.7,640.1 1950.7,641.5 1951.7,642.9 1952.7,644.2 1953.7,645.4 1954.7,646.7 1955.7,647.8 1956.7,648.9 1957.7,650 1958.7,651 1959.7,652 1960.7,652.9 1961.7,653.8 1962.7,654.7 1963.7,655.5 1964.7,656.3 1965.7,657 1966.7,657.7 1967.7,658.3 1968.7,659 1969.7,659.6 1970.7,660.1 1971.7,660.7 1972.7,661.2 1973.7,661.6 1974.7,662.1 1975.7,662.5 1976.7,662.9 1977.7,663.3 1978.7,663.7 1979.7,664 1980.7,664.4 1981.7,664.7 1982.7,665.1 1983.7,665.4 1984.7,665.7 1985.7,666 1986.7,666.4 1987.7,666.7 1988.7,667 1989.7,667.4 1990.7,667.8 1991.7,668.1 1992.7,668.5 1993.7,668.9 1994.7,669.3 1995.7,669.7 1996.7,670.2 1997.7,670.6 1998.6,671.1 1999.6,671.6 2000.6,672.1 2001.6,672.6 2002.6,673.1 2003.6,673.6 2004.6,674.2 2005.6,674.7 2006.6,675.3 2007.6,675.8 2008.6,676.4 2009.6,677 2010.6,677.6 2011.6,678.2 2012.6,678.8 2013.6,679.3 2014.6,679.9 2015.6,680.5 2016.6,681 2017.6,681.5 2018.6,682 2019.6,682.5 2020.6,683 2021.6,683.4 2022.6,683.8 2023.6,684.1 2024.6,684.4 2025.6,684.7 2026.6,685 2027.6,685.2 2028.6,685.4 2029.6,685.5 2030.6,685.7 2031.6,685.8 2032.6,686 2033.6,686.1 2034.6,686.3 2035.6,686.5 2036.6,686.7 2037.6,686.9 2038.6,687.2 2039.6,687.6 2040.6,687.9 2041.6,688.4 2042.6,688.9 2043.6,689.4 2044.6,689.9 2045.6,690.5 2046.6,691.1 2047.6,691.7 2048.6,692.4 2049.6,693 2050.6,693.6 2051.6,694.2 2052.6,694.8 2053.6,695.4 2054.6,695.9 2055.6,696.4 2056.6,696.8 2057.6,697.2 2058.6,697.6 2059.6,698 2060.6,698.3 2061.6,698.6 2062.6,698.9 2063.6,699.1 2064.6,699.3 2065.6,699.5 2066.6,699.7 2067.6,699.8 2068.6,700 2069.6,700.1 2070.6,700.3 2071.6,700.4 2072.6,700.5 2073.6,700.6 2074.6,700.7 2075.6,700.8 2076.6,700.9 2077.6,701 2078.6,701.1 2079.6,701.2 2080.6,701.3 2081.6,701.3 2082.6,701.4 2083.6,701.5 2084.6,701.6 2085.6,701.7 2086.6,701.7 2087.6,701.8 2088.6,701.9 2089.6,702 2090.6,702 2091.6,702.1 2092.6,702.2 2093.6,702.2 2094.6,702.3 2095.6,702.4 2096.6,702.4 2097.6,702.5 2098.6,702.5 2099.6,702.6 2100.6,702.7 2101.6,702.7 2102.6,702.8 2103.6,702.9 2104.6,702.9 2105.6,703 2106.6,703 2107.6,703.1 2108.6,703.1 2109.6,703.2 2110.6,703.3 2111.6,703.3 2112.6,703.4 2113.6,703.4 2114.6,703.5 2115.6,703.5 2116.6,703.6 2117.6,703.6 2118.6,703.7 2119.6,703.7 2120.6,703.8 2121.6,703.9 2122.6,703.9 2123.6,704 2124.6,704 2125.6,704.1 2126.6,704.1 2127.6,704.2 2128.6,704.2 2129.6,704.2 2130.6,704.3 2131.6,704.3 2132.6,704.4 2133.6,704.4 2134.6,704.5 2135.6,704.5 2136.6,704.6 2137.6,704.6 2138.6,704.7 2139.6,704.7 2140.6,704.8 2141.6,704.8 2142.6,704.8 2143.6,704.9 2144.6,704.9 2145.6,705 2146.6,705 2147.6,705 2148.6,705.1 2149.6,705.1 2150.6,705.2 2151.6,705.2 2152.6,705.3 2153.6,705.3 2154.6,705.3 2155.6,705.4 2156.6,705.4 2157.6,705.4 2158.6,705.5 2159.6,705.5 2160.6,705.6 2161.6,705.6 2162.6,705.6 2163.6,705.7 2164.6,705.7 2165.6,705.7 2166.6,705.8 2167.6,705.8 2168.6,705.8 2169.6,705.9 2170.6,705.9 2171.6,705.9 2172.6,706 2173.6,706 2174.6,706 2175.6,706.1 2176.6,706.1 2177.5,706.1 2178.5,706.2 2179.5,706.2 2180.5,706.2 2181.5,706.3 2182.5,706.3 2183.5,706.3 2184.5,706.4 2185.5,706.4 2186.5,706.4 2187.5,706.5 2188.5,706.5 2189.5,706.5 2190.5,706.5 2191.5,706.6 2192.5,706.6 2193.5,706.6 2194.5,706.7 2195.5,706.7 2196.5,706.7 2197.5,706.8 2198.5,706.8 2199.5,706.8 2200.5,706.8 2201.5,706.9 2202.5,706.9 2203.5,706.9 2204.5,706.9 2205.5,707 2206.5,707 2207.5,707 2208.5,707 2209.5,707.1 2210.5,707.1 2211.5,707.1 2212.5,707.2 2213.5,707.2 2214.5,707.2 2215.5,707.2 2216.5,707.3 2217.5,707.3 2218.5,707.3 2219.5,707.3 2220.5,707.4 2221.5,707.4 2222.5,707.4 2223.5,707.4 2224.5,707.5 2225.5,707.5 2226.5,707.5 2227.5,707.5 2228.5,707.5 2229.5,707.6 2230.5,707.6 2231.5,707.6 2232.5,707.6 2233.5,707.7 2234.5,707.7 2235.5,707.7 2236.5,707.7 2237.5,707.8 2238.5,707.8 2239.5,707.8 2240.5,707.8 2241.5,707.8 2242.5,707.9 2243.5,707.9 2244.5,707.9 2245.5,707.9 2246.5,708 2247.5,708 2248.5,708 2249.5,708 2250.5,708.1 2251.5,708.1 2252.5,708.1 2253.5,708.1 2254.5,708.1 2255.5,708.2 2256.5,708.2 2257.5,708.2 2258.5,708.2 2259.5,708.3 2260.5,708.3 2261.5,708.3 2262.5,708.3 2263.5,708.3 2264.5,708.4 2265.5,708.4 2266.5,708.4" fill="none" stroke="#585858" stroke-width="6.5" stroke-linejoin="round"/>
<path d="M1371,664 1372,663.2 1373,662.5 1374,661.7 1375,660.8 1376,660 1377,659.2 1378,658.3 1379,657.4 1380,656.5 1381,655.5 1382,654.6 1383,653.6 1384,652.6 1385,651.6 1386,650.5 1387,649.5 1388,648.4 1389,647.2 1390,646.1 1391,644.9 1392,643.7 1393,642.4 1394,641.1 1395,639.8 1396,638.5 1397,637.1 1398,635.7 1399,634.2 1400,632.7 1401,631.1 1402,629.5 1403,627.9 1404,626.2 1405,624.5 1406,622.7 1407,620.8 1408,618.9 1409,617 1410,615 1411,612.9 1412,610.7 1413,608.5 1414,606.2 1415,603.8 1416,601.4 1417,598.9 1418,596.3 1419,593.6 1420,590.8 1421,587.9 1422,585 1423,581.9 1424,578.8 1425,575.6 1426,572.3 1427,568.9 1428,565.5 1429,562 1430,558.4 1431,554.8 1432,551.2 1433,547.5 1434,543.8 1435,540.2 1436,536.6 1437,533 1438,529.4 1439,525.9 1440,522.5 1441,519.2 1442,515.9 1443,512.7 1444,509.6 1445,506.6 1446,503.7 1447,500.9 1448,498.2 1449,495.8 1450,493.5 1451,491.4 1452,489.5 1453,487.8 1454,486.1 1455,484.6 1456,483.3 1457,482 1458,480.8 1459,479.7 1460,478.7 1460.9,477.7 1461.9,476.8 1462.9,475.9 1463.9,475.1 1464.9,474.3 1465.9,473.6 1466.9,473 1467.9,472.4 1468.9,471.8 1469.9,471.3 1470.9,470.8 1471.9,470.4 1472.9,470.1 1473.9,469.8 1474.9,469.6 1475.9,469.5 1476.9,469.4 1477.9,469.5 1478.9,469.6 1479.9,469.9 1480.9,470.2 1481.9,470.7 1482.9,471.3 1483.9,472 1484.9,472.8 1485.9,473.6 1486.9,474.6 1487.9,475.7 1488.9,476.8 1489.9,478 1490.9,479.3 1491.9,480.5 1492.9,481.9 1493.9,483.3 1494.9,484.7 1495.9,486.2 1496.9,487.7 1497.9,489.3 1498.9,490.9 1499.9,492.6 1500.9,494.4 1501.9,496.2 1502.9,498.1 1503.9,500.1 1504.9,502.2 1505.9,504.4 1506.9,506.6 1507.9,509 1508.9,511.5 1509.9,514.1 1510.9,516.8 1511.9,519.7 1512.9,522.7 1513.9,525.8 1514.9,529.1 1515.9,532.5 1516.9,536 1517.9,539.7 1518.9,543.4 1519.9,547.3 1520.9,551.1 1521.9,555 1522.9,558.9 1523.9,562.7 1524.9,566.5 1525.9,570.1 1526.9,573.7 1527.9,577.2 1528.9,580.6 1529.9,583.8 1530.9,586.9 1531.9,589.9 1532.9,592.8 1533.9,595.5 1534.9,598.2 1535.9,600.7 1536.9,603.1 1537.9,605.5 1538.9,607.7 1539.9,609.9 1540.9,611.9 1541.9,613.9 1542.9,615.8 1543.9,617.7 1544.9,619.4 1545.9,621.1 1546.9,622.8 1547.9,624.4 1548.9,625.9 1549.9,627.4 1550.9,628.8 1551.9,630.2 1552.9,631.6 1553.9,632.9 1554.9,634.1 1555.9,635.3 1556.9,636.5 1557.9,637.7 1558.9,638.8 1559.9,639.8 1560.9,640.9 1561.9,641.9 1562.9,642.9 1563.9,643.8 1564.9,644.8 1565.9,645.7 1566.9,646.6 1567.9,647.4 1568.9,648.2 1569.9,649 1570.9,649.8 1571.9,650.6 1572.9,651.3 1573.9,652 1574.9,652.7 1575.9,653.4 1576.9,654 1577.9,654.6 1578.9,655.2 1579.9,655.8 1580.9,656.4 1581.9,656.9 1582.9,657.4 1583.9,657.9 1584.9,658.4 1585.9,658.9 1586.9,659.3 1587.9,659.7 1588.9,660.1 1589.9,660.5 1590.9,660.9 1591.9,661.2 1592.9,661.5 1593.9,661.8 1594.9,662.1 1595.9,662.4 1596.9,662.6 1597.9,662.9 1598.9,663.1 1599.9,663.2 1600.9,663.4 1601.9,663.5 1602.9,663.7 1603.9,663.8 1604.9,663.8 1605.9,663.9 1606.9,664 1607.9,664 1608.9,664 1609.9,664 1610.9,663.9 1611.9,663.9 1612.9,663.8 1613.9,663.7 1614.9,663.6 1615.9,663.4 1616.9,663.3 1617.9,663.1 1618.9,662.9 1619.9,662.8 1620.9,662.5 1621.9,662.3 1622.9,662.1 1623.9,661.9 1624.9,661.6 1625.9,661.3 1626.9,661.1 1627.9,660.8 1628.9,660.5 1629.9,660.2 1630.9,659.9 1631.9,659.5 1632.9,659.2 1633.9,658.9 1634.9,658.5 1635.9,658.2 1636.9,657.9 1637.9,657.5 1638.9,657.1 1639.8,656.8 1640.8,656.4 1641.8,656.1 1642.8,655.7 1643.8,655.3 1644.8,655 1645.8,654.6 1646.8,654.2 1647.8,653.8 1648.8,653.4 1649.8,653 1650.8,652.7 1651.8,652.3 1652.8,651.9 1653.8,651.5 1654.8,651.1 1655.8,650.6 1656.8,650.2 1657.8,649.8 1658.8,649.4 1659.8,649 1660.8,648.5 1661.8,648.1 1662.8,647.7 1663.8,647.2 1664.8,646.8 1665.8,646.3 1666.8,645.8 1667.8,645.4 1668.8,644.9 1669.8,644.4 1670.8,644 1671.8,643.5 1672.8,643 1673.8,642.5 1674.8,642 1675.8,641.5 1676.8,640.9 1677.8,640.4 1678.8,639.9 1679.8,639.3 1680.8,638.8 1681.8,638.2 1682.8,637.7 1683.8,637.1 1684.8,636.5 1685.8,635.9 1686.8,635.3 1687.8,634.7 1688.8,634.1 1689.8,633.5 1690.8,632.9 1691.8,632.2 1692.8,631.6 1693.8,630.9 1694.8,630.2 1695.8,629.5 1696.8,628.8 1697.8,628.1 1698.8,627.4 1699.8,626.7 1700.8,625.9 1701.8,625.1 1702.8,624.3 1703.8,623.5 1704.8,622.7 1705.8,621.9 1706.8,621 1707.8,620.2 1708.8,619.3 1709.8,618.4 1710.8,617.5 1711.8,616.5 1712.8,615.5 1713.8,614.5 1714.8,613.5 1715.8,612.5 1716.8,611.4 1717.8,610.3 1718.8,609.1 1719.8,607.9 1720.8,606.7 1721.8,605.5 1722.8,604.2 1723.8,602.9 1724.8,601.5 1725.8,600.1 1726.8,598.7 1727.8,597.2 1728.8,595.6 1729.8,594.1 1730.8,592.4 1731.8,590.7 1732.8,589 1733.8,587.2 1734.8,585.3 1735.8,583.4 1736.8,581.5 1737.8,579.4 1738.8,577.3 1739.8,575.1 1740.8,572.8 1741.8,570.5 1742.8,568.1 1743.8,565.6 1744.8,563 1745.8,560.3 1746.8,557.6 1747.8,554.7 1748.8,551.7 1749.8,548.7 1750.8,545.5 1751.8,542.3 1752.8,538.9 1753.8,535.4 1754.8,531.9 1755.8,528.2 1756.8,524.5 1757.8,520.6 1758.8,516.7 1759.8,512.6 1760.8,508.4 1761.8,504.2 1762.8,499.7 1763.8,495.2 1764.8,490.5 1765.8,485.7 1766.8,480.7 1767.8,475.6 1768.8,470.3 1769.8,464.8 1770.8,459.2 1771.8,453.5 1772.8,447.6 1773.8,441.5 1774.8,435.3 1775.8,429 1776.8,422.6 1777.8,416.1 1778.8,409.5 1779.8,402.9 1780.8,396.3 1781.8,389.7 1782.8,383.2 1783.8,376.8 1784.8,370.4 1785.8,364.1 1786.8,357.9 1787.8,351.8 1788.8,345.8 1789.8,339.9 1790.8,334 1791.8,328.2 1792.8,322.5 1793.8,316.8 1794.8,311.2 1795.8,305.7 1796.8,300.2 1797.8,294.8 1798.8,289.4 1799.8,284.1 1800.8,278.9 1801.8,273.7 1802.8,268.6 1803.8,263.5 1804.8,258.5 1805.8,253.5 1806.8,248.5 1807.8,243.7 1808.8,238.8 1809.8,234 1810.8,229.2 1811.8,224.4 1812.8,219.6 1813.8,214.9 1814.8,210.1 1815.8,205.4 1816.8,200.9 1817.8,196.6 1818.8,192.6 1819.7,188.9 1820.7,185.5 1821.7,182.3 1822.7,179.4 1823.7,176.7 1824.7,174.2 1825.7,171.9 1826.7,169.7 1827.7,167.6 1828.7,165.6 1829.7,163.7 1830.7,162 1831.7,160.3 1832.7,158.8 1833.7,157.5 1834.7,156.4 1835.7,155.4 1836.7,154.7 1837.7,154.3 1838.7,154.1 1839.7,154.1 1840.7,154.4 1841.7,155 1842.7,155.7 1843.7,156.7 1844.7,157.8 1845.7,159.1 1846.7,160.5 1847.7,162.1 1848.7,163.8 1849.7,165.7 1850.7,167.8 1851.7,170.1 1852.7,172.7 1853.7,175.6 1854.7,178.9 1855.7,182.7 1856.7,186.8 1857.7,191 1858.7,195.3 1859.7,199.7 1860.7,204.1 1861.7,208.5 1862.7,213.1 1863.7,217.7 1864.7,222.4 1865.7,227.1 1866.7,231.9 1867.7,236.8 1868.7,241.7 1869.7,246.8 1870.7,251.9 1871.7,257.1 1872.7,262.3 1873.7,267.7 1874.7,273.1 1875.7,278.7 1876.7,284.3 1877.7,290 1878.7,295.8 1879.7,301.7 1880.7,307.7 1881.7,313.8 1882.7,320 1883.7,326.3 1884.7,332.7 1885.7,339.2 1886.7,345.9 1887.7,352.6 1888.7,359.4 1889.7,366.4 1890.7,373.4 1891.7,380.6 1892.7,387.8 1893.7,395.2 1894.7,402.6 1895.7,410.2 1896.7,417.8 1897.7,425.5 1898.7,433.3 1899.7,441.2 1900.7,449.1 1901.7,457.1 1902.7,465.2 1903.7,473.1 1904.7,481 1905.7,488.6 1906.7,495.9 1907.7,503 1908.7,509.8 1909.7,516.2 1910.7,522.3 1911.7,528.1 1912.7,533.7 1913.7,539 1914.7,544 1915.7,548.8 1916.7,553.4 1917.7,557.8 1918.7,562 1919.7,566 1920.7,569.9 1921.7,573.7 1922.7,577.2 1923.7,580.7 1924.7,584.1 1925.7,587.3 1926.7,590.5 1927.7,593.5 1928.7,596.4 1929.7,599.3 1930.7,602.1 1931.7,604.8 1932.7,607.4 1933.7,610 1934.7,612.5 1935.7,614.9 1936.7,617.3 1937.7,619.6 1938.7,621.9 1939.7,624.1 1940.7,626.2 1941.7,628.3 1942.7,630.3 1943.7,632.3 1944.7,634.2 1945.7,636.1 1946.7,637.9 1947.7,639.7 1948.7,641.4 1949.7,643.1 1950.7,644.7 1951.7,646.3 1952.7,647.9 1953.7,649.4 1954.7,650.9 1955.7,652.3 1956.7,653.7 1957.7,655.1 1958.7,656.5 1959.7,657.8 1960.7,659 1961.7,660.3 1962.7,661.5 1963.7,662.7 1964.7,663.8 1965.7,664.9 1966.7,666 1967.7,667 1968.7,668.1 1969.7,669 1970.7,670 1971.7,670.9 1972.7,671.8 1973.7,672.7 1974.7,673.5 1975.7,674.3 1976.7,675.1 1977.7,675.8 1978.7,676.5 1979.7,677.2 1980.7,677.9 1981.7,678.6 1982.7,679.2 1983.7,679.8 1984.7,680.4 1985.7,680.9 1986.7,681.5 1987.7,682 1988.7,682.5 1989.7,683 1990.7,683.5 1991.7,684 1992.7,684.4 1993.7,684.9 1994.7,685.3 1995.7,685.7 1996.7,686.1 1997.7,686.5 1998.6,686.9 1999.6,687.3 2000.6,687.6 2001.6,688 2002.6,688.3 2003.6,688.7 2004.6,689 2005.6,689.3 2006.6,689.6 2007.6,689.9 2008.6,690.2 2009.6,690.5 2010.6,690.8 2011.6,691 2012.6,691.3 2013.6,691.6 2014.6,691.8 2015.6,692.1 2016.6,692.3 2017.6,692.5 2018.6,692.8 2019.6,693 2020.6,693.2 2021.6,693.4 2022.6,693.6 2023.6,693.8 2024.6,694.1 2025.6,694.2 2026.6,694.4 2027.6,694.6 2028.6,694.8 2029.6,695 2030.6,695.2 2031.6,695.4 2032.6,695.5 2033.6,695.7 2034.6,695.9 2035.6,696.1 2036.6,696.2 2037.6,696.4 2038.6,696.6 2039.6,696.7 2040.6,696.9 2041.6,697 2042.6,697.2 2043.6,697.3 2044.6,697.5 2045.6,697.6 2046.6,697.7 2047.6,697.9 2048.6,698 2049.6,698.1 2050.6,698.3 2051.6,698.4 2052.6,698.5 2053.6,698.7 2054.6,698.8 2055.6,698.9 2056.6,699 2057.6,699.1 2058.6,699.2 2059.6,699.4 2060.6,699.5 2061.6,699.6 2062.6,699.7 2063.6,699.8 2064.6,699.9 2065.6,700 2066.6,700.1 2067.6,700.2 2068.6,700.3 2069.6,700.4 2070.6,700.5 2071.6,700.6 2072.6,700.6 2073.6,700.7 2074.6,700.8 2075.6,700.9 2076.6,701 2077.6,701.1 2078.6,701.2 2079.6,701.2 2080.6,701.3 2081.6,701.4 2082.6,701.5 2083.6,701.5 2084.6,701.6 2085.6,701.7 2086.6,701.8 2087.6,701.8 2088.6,701.9 2089.6,702 2090.6,702 2091.6,702.1 2092.6,702.2 2093.6,702.2 2094.6,702.3 2095.6,702.4 2096.6,702.4 2097.6,702.5 2098.6,702.6 2099.6,702.6 2100.6,702.7 2101.6,702.7 2102.6,702.8 2103.6,702.9 2104.6,702.9 2105.6,703 2106.6,703 2107.6,703.1 2108.6,703.1 2109.6,703.2 2110.6,703.3 2111.6,703.3 2112.6,703.4 2113.6,703.4 2114.6,703.5 2115.6,703.5 2116.6,703.6 2117.6,703.6 2118.6,703.7 2119.6,703.7 2120.6,703.8 2121.6,703.9 2122.6,703.9 2123.6,704 2124.6,704 2125.6,704.1 2126.6,704.1 2127.6,704.2 2128.6,704.2 2129.6,704.2 2130.6,704.3 2131.6,704.3 2132.6,704.4 2133.6,704.4 2134.6,704.5 2135.6,704.5 2136.6,704.6 2137.6,704.6 2138.6,704.7 2139.6,704.7 2140.6,704.8 2141.6,704.8 2142.6,704.8 2143.6,704.9 2144.6,704.9 2145.6,705 2146.6,705 2147.6,705 2148.6,705.1 2149.6,705.1 2150.6,705.2 2151.6,705.2 2152.6,705.3 2153.6,705.3 2154.6,705.3 2155.6,705.4 2156.6,705.4 2157.6,705.4 2158.6,705.5 2159.6,705.5 2160.6,705.6 2161.6,705.6 2162.6,705.6 2163.6,705.7 2164.6,705.7 2165.6,705.7 2166.6,705.8 2167.6,705.8 2168.6,705.8 2169.6,705.9 2170.6,705.9 2171.6,705.9 2172.6,706 2173.6,706 2174.6,706 2175.6,706.1 2176.6,706.1 2177.5,706.1 2178.5,706.2 2179.5,706.2 2180.5,706.2 2181.5,706.3 2182.5,706.3 2183.5,706.3 2184.5,706.4 2185.5,706.4 2186.5,706.4 2187.5,706.5 2188.5,706.5 2189.5,706.5 2190.5,706.5 2191.5,706.6 2192.5,706.6 2193.5,706.6 2194.5,706.7 2195.5,706.7 2196.5,706.7 2197.5,706.8 2198.5,706.8 2199.5,706.8 2200.5,706.8 2201.5,706.9 2202.5,706.9 2203.5,706.9 2204.5,706.9 2205.5,707 2206.5,707 2207.5,707 2208.5,707 2209.5,707.1 2210.5,707.1 2211.5,707.1 2212.5,707.2 2213.5,707.2 2214.5,707.2 2215.5,707.2 2216.5,707.3 2217.5,707.3 2218.5,707.3 2219.5,707.3 2220.5,707.4 2221.5,707.4 2222.5,707.4 2223.5,707.4 2224.5,707.5 2225.5,707.5 2226.5,707.5 2227.5,707.5 2228.5,707.5 2229.5,707.6 2230.5,707.6 2231.5,707.6 2232.5,707.6 2233.5,707.7 2234.5,707.7 2235.5,707.7 2236.5,707.7 2237.5,707.8 2238.5,707.8 2239.5,707.8 2240.5,707.8 2241.5,707.8 2242.5,707.9 2243.5,707.9 2244.5,707.9 2245.5,707.9 2246.5,708 2247.5,708 2248.5,708 2249.5,708 2250.5,708.1 2251.5,708.1 2252.5,708.1 2253.5,708.1 2254.5,708.1 2255.5,708.2 2256.5,708.2 2257.5,708.2 2258.5,708.2 2259.5,708.3 2260.5,708.3 2261.5,708.3 2262.5,708.3 2263.5,708.3 2264.5,708.4 2265.5,708.4 2266.5,708.4" fill="none" stroke="#000" stroke-width="6.8" stroke-linejoin="round"/>
<rect x="1367.5" y="30.4" width="902.5" height="725.9" fill="none" stroke="#000" stroke-width="7.5"/>
<path d="M1367.5,756.3V770M1548,756.3V770M1728.5,756.3V770M1909,756.3V770M2089.5,756.3V770M2270,756.3V770M1457.8,756.3V764.5M1638.2,756.3V764.5M1818.8,756.3V764.5M1999.2,756.3V764.5M2179.8,756.3V764.5" stroke="#000" stroke-width="7.5" fill="none"/>
<text transform="translate(1320.9,828.6)" font-size="62.00" fill="#000">290</text>
<text transform="translate(1501.2,828.6)" font-size="62.00" fill="#000">288</text>
<text transform="translate(1681.6,828.6)" font-size="62.00" fill="#000">286</text>
<text transform="translate(1861.8,828.6)" font-size="62.00" fill="#000">284</text>
<text transform="translate(2043,828.6)" font-size="62.00" fill="#000">282</text>
<text transform="translate(2223.4,828.6)" font-size="62.00" fill="#000">280</text>
<text transform="translate(1193.8,95.8) scale(1.0398,1)" font-size="105.17" fill="#000">b</text>
<text transform="translate(1421.8,120.8) scale(0.9941,1)" font-size="62.07" fill="#000">C1s</text>
<text transform="translate(1302.2,564.3) rotate(-90) scale(1.0086,1)" font-size="61.00" fill="#000">Intensity (a.u.)</text>
<text transform="translate(1555,926.4) scale(0.9974,1)" font-size="61.50" fill="#000">Binding energy (eV)</text>
<path d="M1906.7,68.4H2006.8" stroke="#585858" stroke-width="6.5" stroke-linecap="round"/>
<path d="M1906.7,123.8H2006.8" stroke="#000" stroke-width="6.5" stroke-linecap="round"/>
<path d="M1906.7,179.2H2006.8" stroke="#ff5f0f" stroke-width="6.5" stroke-linecap="round"/>
<linearGradient id="lPKb" gradientUnits="userSpaceOnUse" x1="0" y1="211.1" x2="0" y2="260.2"><stop offset="0" stop-color="#ff3399"/><stop offset="1" stop-color="#ff40ff"/></linearGradient>
<linearGradient id="lGRb" gradientUnits="userSpaceOnUse" x1="0" y1="267.6" x2="0" y2="315.6"><stop offset="0" stop-color="#3c9c3c"/><stop offset="1" stop-color="#3cf03c"/></linearGradient>
<linearGradient id="lCNb" gradientUnits="userSpaceOnUse" x1="0" y1="322" x2="0" y2="371"><stop offset="0" stop-color="#3355ee"/><stop offset="1" stop-color="#33eeff"/></linearGradient>
<rect x="1907.3" y="211.1" width="98.9" height="49.1" fill="url(#lPKb)"/>
<rect x="1907.3" y="267.6" width="98.9" height="48" fill="url(#lGRb)"/>
<rect x="1907.3" y="322" width="98.9" height="49" fill="url(#lCNb)"/>
<text transform="translate(2019.8,83.3) scale(1.0450,1)" font-size="42.30" fill="#000">Raw data</text>
<text transform="translate(2018.8,139.7) scale(1.0501,1)" font-size="42.30" fill="#000">Fitted line</text>
<text transform="translate(2019.9,194.1) scale(1.0457,1)" font-size="42.30" fill="#000">Background</text>
<text transform="translate(2018.4,250.2) scale(1.0602,1)" font-size="42.30" fill="#000">C-C/C=C</text>
<text transform="translate(2018.5,305.6) scale(1.0364,1)" font-size="42.30" fill="#000">COOH</text>
<text transform="translate(2018.6,361.2) scale(0.9839,1)" font-size="42.30" fill="#000">C-N</text>
<clipPath id="cFrC"><rect x="178" y="1003" width="940.7" height="726"/></clipPath>
<path d="M181.6,1619 187.3,1679.6 188.3,1682.9 191.9,1688.8 193.2,1692 198.2,1722.2 198.8,1724 204.5,1540.8 205.3,1536 209,1518.9 210.3,1515.4 211.1,1518.1 218.1,1550.1 218.6,1551.8 219,1551.1 224.5,1495.7 228.8,1381.4 234.3,1438.4 237.1,1473.7 237.5,1474.9 238.3,1474.7 243.5,1467 244.1,1467 244.4,1468.2 247.3,1678 247.5,1680 248.3,1681.5 253.1,1684.6 254.5,1687.3 258.6,1728.1 259.2,1725.3 269.9,1624.2 270.2,1623.8 270.6,1624.7 276.5,1650.2 277,1651.6 277.2,1651 282.9,1456 290,1520.4 294.3,1432.7 298.6,1475.5 305.7,1725.8 310.2,1551.9 314.3,1515.5 314.9,1517.4 318.1,1536.4 318.5,1537.6 318.8,1536.8 328.5,1464 334.2,1511.8 337.2,1644.1 337.9,1647.4 341.7,1658.6 342.4,1660.2 342.8,1659.3 346.8,1544.2 347.2,1541.1 351,1561.3 358.3,1666.1 362.6,1700 369.7,1479.8 370,1478.3 370.7,1479.3 376.6,1496.2 377.1,1502.4 379.8,1717.1 386,1559.6 394,1401.4 399.9,1469.5 404.9,1543.6 409.1,1567 410,1570.2 415,1519.9 420,1450.8 425.5,1411.8 431,1521.1 438,1446.8 445.5,1502.3 446,1504 459.6,1272.8 466,1360.1 472,1418.2 478.8,1279.7 486,1399.5 492.7,1474.2 499.9,1331.7 502.9,1265.4 503.1,1263.8 503.4,1264.6 507,1287.7 507.3,1289.4 507.5,1289.1 511.2,1184 520.7,1274.2 530,1177.7 537.6,1306 545,1478 545.6,1476.3 552.7,1436.4 563.9,1379.7 572.1,1468.3 577,1438.8 583,1280.7 592.1,1184.2 592.5,1183.6 593.1,1186 601.7,1232.1 605.5,1342.3 615,1210.1 615.6,1212.8 622,1264.8 622.4,1266.6 622.6,1266.1 628.1,1125.2 633.9,1266.7 634.6,1264.4 637.6,1248.6 646.5,1163.7 646.9,1161.1 647.2,1162 652,1221 660.1,1378.1 660.6,1378.1 661.2,1376.9 667.9,1360.1 676.3,1330.5 676.8,1329.2 677.1,1329.1 680.9,1397.6 681.2,1398.3 681.7,1397.6 685.8,1384.8 686.3,1383.7 686.8,1384 694.4,1435.9 695.1,1438.3 696.2,1435.1 700.1,1418.8 709.2,1353.6 714,1480.6 718.7,1663.1 723.1,1497.9 727.9,1345.3 728.2,1342.2 728.6,1343.3 736.9,1390 737.6,1396.2 742,1501.2 748.9,1719.8 755,1639.7 762,1559.5 769.8,1452.7 770.8,1446.5 775.1,1428.9 775.6,1431.9 781.1,1514.3 787.5,1575.6 788.5,1581 794.9,1597.9 795.7,1599.1 796.1,1598.4 801.4,1522.1 801.6,1519.6 801.9,1520.1 808,1599.9 815,1719.8 820.1,1679.8 825.8,1648.1 831.1,1624.9 837.3,1602.5 838,1605.3 848.4,1697.8 849,1700.8 860,1592.1 860.5,1591.1 861.2,1591.5 867.7,1602.5 870,1605.9 871.2,1606.8 872,1606.8 873.3,1605.9 875.8,1602.7 877.1,1600.3 878.2,1596.3 884.2,1559 893.6,1514.6 898.7,1597.9 899.8,1601 906.2,1607.2 907.2,1608.8 907.7,1610.7 912.2,1662.3 917.1,1708.9 917.5,1711.1 917.7,1711.6 918,1711.3 921.2,1698.5 927.6,1662 931,1579.4 936.4,1494.6 942.6,1552.2 946.4,1724 955.1,1639.7 956.2,1635.6 959.6,1626.5 961.6,1623.8 964.3,1622 965,1622.6 965.4,1625.6 970.2,1724.1 975.2,1527.1 980,1610 985.3,1724.1 992.8,1645.5 1002.8,1574.9 1011.4,1482.2 1016.6,1694 1026.9,1562 1035.4,1437 1036.3,1439.2 1041.7,1458.7 1042.8,1464.9 1045.3,1643.8 1052.9,1577.4 1060.5,1694 1070.2,1602.6 1071.5,1597.9 1076.1,1585.4 1077.2,1582.7 1077.6,1582.3 1077.8,1582.6 1085.4,1724.2 1092.9,1582.7 1093,1582.4 1093.4,1584.2 1101.1,1638.8 1101.7,1641.2 1110.3,1493.9 1110.7,1492.3 1111.4,1491.9 1115.5,1495.4" fill="none" stroke="#585858" stroke-width="10" stroke-linejoin="round" clip-path="url(#cFrC)"/>
<linearGradient id="gPKc" gradientUnits="userSpaceOnUse" x1="0" y1="1365" x2="0" y2="1610"><stop offset="0" stop-color="#ff0080"/><stop offset="1" stop-color="#ff11ff"/></linearGradient>
<linearGradient id="gGRc" gradientUnits="userSpaceOnUse" x1="0" y1="1300" x2="0" y2="1570"><stop offset="0" stop-color="#11ed11"/><stop offset="0.5" stop-color="#18c818"/><stop offset="1" stop-color="#208a20"/></linearGradient>
<path d="M181.5,1609 219.2,1604.1 253.8,1598.4 277.3,1593.3 305.2,1585.4 325.1,1578.7 332.5,1575.7 340.7,1571.8 350.4,1566.6 359.9,1561.1 368.3,1555.6 376.4,1549.8 382.7,1544.8 388.7,1539.5 401.3,1526.6 412.7,1512.7 425.7,1494.9 434.7,1480.5 443,1464.5 450.2,1448 458.5,1425.4 461.8,1417 468.2,1403.5 474,1392.9 481.7,1381.2 487.5,1374.3 491.3,1371.1 496.2,1367.7 499.7,1365.9 502.6,1365.3 505.5,1365.6 509,1367.3 514.5,1371.7 518.1,1375.1 522,1379.7 535.1,1397.4 539.6,1404 543.8,1410.9 549.2,1421.6 554.5,1435.6 557.3,1444.2 559.7,1452.9 563.6,1472.5 565.4,1477.1 568.2,1481.3 570.9,1484.2 573.9,1486.8 576.4,1488.5 582.5,1491.9 585.6,1494.4 588.3,1498.5 593.1,1509.5 595.1,1513 598.9,1517.5 603.4,1521.5 610,1526 617.1,1529.8 635.4,1538 648.4,1543.2 661.7,1547.5 683,1552.9 702.6,1557.1 722.4,1560.4 750.2,1564.1 776,1567 796,1568.7 841.9,1571.9 863.9,1573.1 883.9,1573.8 925,1573.8 1007,1571.8 1060,1569 L1055.6,1566.4 1035.7,1567.5 1015.9,1568.6 996,1569.8 976.1,1570.9 956.3,1572 936.4,1573.1 916.5,1574.3 896.7,1575.4 876.8,1576.5 856.9,1577.7 837.1,1578.8 817.2,1579.9 797.3,1581 777.5,1582.2 757.6,1583.3 737.7,1584.4 717.9,1585.6 698,1586.7 678.1,1587.8 658.3,1588.9 638.4,1590.1 618.6,1591.2 598.7,1592.3 578.8,1593.5 559,1594.6 539.1,1595.7 519.2,1596.8 499.4,1598 479.5,1599.1 459.6,1600.2 439.8,1601.4 419.9,1602.5 400,1603.6 380.2,1604.7 360.3,1605.9 340.4,1607 320.6,1608.1 300.7,1609.3 280.8,1610.4 261,1611.5 241.1,1612.6 221.2,1613.8 201.4,1614.9 181.5,1616Z" fill="url(#gPKc)" opacity="0.8"/>
<path d="M181.5,1613 219.5,1611.1 261.4,1608.1 320.2,1602 387,1596 431.7,1590.5 448.5,1587.9 464.3,1585.1 478,1582.3 489.6,1579.3 502.1,1575.5 513.4,1571.5 523.5,1567.2 529.6,1563.7 532.7,1561.3 535.5,1558.4 537.1,1555.9 539.3,1551.4 542.8,1542 551.4,1516.4 563.5,1486.8 569.3,1470.8 574.7,1453.6 580.4,1433.3 590.6,1390.5 599.2,1357.6 603.7,1342.2 608.7,1328.1 613.9,1316.1 617.3,1310 620.1,1305.9 622.2,1303.8 624.7,1302.2 627.5,1301.2 630.4,1300.6 633.3,1300.7 637,1302.2 640.3,1304.4 643.1,1307.2 645.4,1310.5 648.4,1315.7 655.2,1330.2 658.7,1339.5 662.7,1351.9 671.6,1382.7 680.5,1415.5 685,1429.9 690.8,1445.9 696.4,1459.8 701.7,1471.7 707.8,1483.2 712.9,1491.8 717.3,1498.4 722.3,1504.7 728.4,1511.4 736.4,1518.9 748.7,1529.2 756,1534.5 762.8,1538.5 773.6,1543.9 784.8,1548.3 798.2,1552.3 814.7,1556.5 828.4,1559.4 842.2,1561.7 854.1,1563.1 875.1,1564.8 894.1,1565.8 920.1,1566.3 968.1,1566.9 1010.2,1567 1058.2,1565.8 1115.2,1562.9 L1115.2,1563 1095.3,1564.1 1075.5,1565.2 1055.6,1566.4 1035.7,1567.5 1015.9,1568.6 996,1569.8 976.1,1570.9 956.3,1572 936.4,1573.1 916.5,1574.3 896.7,1575.4 876.8,1576.5 856.9,1577.7 837.1,1578.8 817.2,1579.9 797.3,1581 777.5,1582.2 757.6,1583.3 737.7,1584.4 717.9,1585.6 698,1586.7 678.1,1587.8 658.3,1588.9 638.4,1590.1 618.6,1591.2 598.7,1592.3 578.8,1593.5 559,1594.6 539.1,1595.7 519.2,1596.8 499.4,1598 479.5,1599.1 459.6,1600.2 439.8,1601.4 419.9,1602.5 400,1603.6 380.2,1604.7 360.3,1605.9 340.4,1607 320.6,1608.1 300.7,1609.3 280.8,1610.4 261,1611.5 241.1,1612.6 221.2,1613.8 201.4,1614.9 181.5,1616Z" fill="url(#gGRc)" opacity="0.8"/>
<clipPath id="cPKc"><path d="M181.5,1609 219.2,1604.1 253.8,1598.4 277.3,1593.3 305.2,1585.4 325.1,1578.7 332.5,1575.7 340.7,1571.8 350.4,1566.6 359.9,1561.1 368.3,1555.6 376.4,1549.8 382.7,1544.8 388.7,1539.5 401.3,1526.6 412.7,1512.7 425.7,1494.9 434.7,1480.5 443,1464.5 450.2,1448 458.5,1425.4 461.8,1417 468.2,1403.5 474,1392.9 481.7,1381.2 487.5,1374.3 491.3,1371.1 496.2,1367.7 499.7,1365.9 502.6,1365.3 505.5,1365.6 509,1367.3 514.5,1371.7 518.1,1375.1 522,1379.7 535.1,1397.4 539.6,1404 543.8,1410.9 549.2,1421.6 554.5,1435.6 557.3,1444.2 559.7,1452.9 563.6,1472.5 565.4,1477.1 568.2,1481.3 570.9,1484.2 573.9,1486.8 576.4,1488.5 582.5,1491.9 585.6,1494.4 588.3,1498.5 593.1,1509.5 595.1,1513 598.9,1517.5 603.4,1521.5 610,1526 617.1,1529.8 635.4,1538 648.4,1543.2 661.7,1547.5 683,1552.9 702.6,1557.1 722.4,1560.4 750.2,1564.1 776,1567 796,1568.7 841.9,1571.9 863.9,1573.1 883.9,1573.8 925,1573.8 1007,1571.8 1060,1569 L1055.6,1566.4 1035.7,1567.5 1015.9,1568.6 996,1569.8 976.1,1570.9 956.3,1572 936.4,1573.1 916.5,1574.3 896.7,1575.4 876.8,1576.5 856.9,1577.7 837.1,1578.8 817.2,1579.9 797.3,1581 777.5,1582.2 757.6,1583.3 737.7,1584.4 717.9,1585.6 698,1586.7 678.1,1587.8 658.3,1588.9 638.4,1590.1 618.6,1591.2 598.7,1592.3 578.8,1593.5 559,1594.6 539.1,1595.7 519.2,1596.8 499.4,1598 479.5,1599.1 459.6,1600.2 439.8,1601.4 419.9,1602.5 400,1603.6 380.2,1604.7 360.3,1605.9 340.4,1607 320.6,1608.1 300.7,1609.3 280.8,1610.4 261,1611.5 241.1,1612.6 221.2,1613.8 201.4,1614.9 181.5,1616Z"/></clipPath>
<path d="M181.5,1613 219.5,1611.1 261.4,1608.1 320.2,1602 387,1596 431.7,1590.5 448.5,1587.9 464.3,1585.1 478,1582.3 489.6,1579.3 502.1,1575.5 513.4,1571.5 523.5,1567.2 529.6,1563.7 532.7,1561.3 535.5,1558.4 537.1,1555.9 539.3,1551.4 542.8,1542 551.4,1516.4 563.5,1486.8 569.3,1470.8 574.7,1453.6 580.4,1433.3 590.6,1390.5 599.2,1357.6 603.7,1342.2 608.7,1328.1 613.9,1316.1 617.3,1310 620.1,1305.9 622.2,1303.8 624.7,1302.2 627.5,1301.2 630.4,1300.6 633.3,1300.7 637,1302.2 640.3,1304.4 643.1,1307.2 645.4,1310.5 648.4,1315.7 655.2,1330.2 658.7,1339.5 662.7,1351.9 671.6,1382.7 680.5,1415.5 685,1429.9 690.8,1445.9 696.4,1459.8 701.7,1471.7 707.8,1483.2 712.9,1491.8 717.3,1498.4 722.3,1504.7 728.4,1511.4 736.4,1518.9 748.7,1529.2 756,1534.5 762.8,1538.5 773.6,1543.9 784.8,1548.3 798.2,1552.3 814.7,1556.5 828.4,1559.4 842.2,1561.7 854.1,1563.1 875.1,1564.8 894.1,1565.8 920.1,1566.3 968.1,1566.9 1010.2,1567 1058.2,1565.8 1115.2,1562.9 L1115.2,1563 1095.3,1564.1 1075.5,1565.2 1055.6,1566.4 1035.7,1567.5 1015.9,1568.6 996,1569.8 976.1,1570.9 956.3,1572 936.4,1573.1 916.5,1574.3 896.7,1575.4 876.8,1576.5 856.9,1577.7 837.1,1578.8 817.2,1579.9 797.3,1581 777.5,1582.2 757.6,1583.3 737.7,1584.4 717.9,1585.6 698,1586.7 678.1,1587.8 658.3,1588.9 638.4,1590.1 618.6,1591.2 598.7,1592.3 578.8,1593.5 559,1594.6 539.1,1595.7 519.2,1596.8 499.4,1598 479.5,1599.1 459.6,1600.2 439.8,1601.4 419.9,1602.5 400,1603.6 380.2,1604.7 360.3,1605.9 340.4,1607 320.6,1608.1 300.7,1609.3 280.8,1610.4 261,1611.5 241.1,1612.6 221.2,1613.8 201.4,1614.9 181.5,1616Z" fill="#3f7c3f" opacity="0.92" clip-path="url(#cPKc)"/>
<path d="M181.5,1618L1115.2,1565" stroke="#ff8010" stroke-width="5.5"/>
<path d="M181.5,1604 227.2,1598 256.8,1593.3 276.4,1588.9 303.3,1581 315.7,1577 325.1,1573.7 333.4,1570.2 341.6,1566.4 351.3,1561.1 359.8,1556 368.1,1550.4 376.1,1544.4 383.8,1538 391.2,1531.1 398.8,1523.2 406.1,1515 413.6,1505.6 422,1494.3 428.7,1484.4 433.9,1475.8 441.3,1461.6 451,1439.6 476.6,1374.4 483.2,1358.7 486.5,1351.4 490.7,1343.4 493.3,1339.2 496.3,1335.2 500.5,1331 504.6,1328.5 508.3,1327.5 513.2,1327.6 519.1,1328.7 525.6,1331.2 530.9,1334 545.4,1342.9 549.8,1345.1 552.6,1346.1 556.4,1346.9 561.3,1346.7 565.2,1345.8 568.7,1344.1 572.5,1341 576.5,1336.6 579.9,1331.7 584.5,1323.9 594.1,1305.2 606.2,1277.7 609.8,1270.6 612.8,1265.4 616.3,1260.6 619.8,1257.1 624,1254.7 627.8,1254 630.6,1254.1 633.4,1254.9 635.8,1256.4 638.6,1259.1 640.8,1262.3 643.2,1266.7 647.8,1277.8 651.5,1289.2 655.3,1302.7 664.7,1341.7 683.9,1415.3 688.5,1430.7 692.3,1442.1 695.9,1451.4 700.3,1461.5 705.8,1472.2 712.4,1483.4 719.4,1494.3 724.9,1501.5 733.7,1511.1 743,1520.2 754.3,1530 761.6,1535.2 770.4,1540.1 780.4,1544.7 788.9,1547.6 798.6,1550.1 814.3,1553.1 838.1,1556.7 853,1558.4 874,1560 923,1562.5 951,1563 1017.1,1562.2 1115.2,1559.3" fill="none" stroke="#000" stroke-width="6.8" stroke-linejoin="round"/>
<rect x="178" y="1003" width="940.7" height="726" fill="none" stroke="#000" stroke-width="7.5"/>
<path d="M271,1729V1742.8M459.2,1729V1742.8M647.4,1729V1742.8M835.6,1729V1742.8M1023.8,1729V1742.8M365.1,1729V1737.2M553.3,1729V1737.2M741.5,1729V1737.2M929.7,1729V1737.2M1117.9,1729V1737.2" stroke="#000" stroke-width="7.5" fill="none"/>
<text transform="translate(223.3,1801.4) scale(1.0300,1)" font-size="62.00" fill="#000">404</text>
<text transform="translate(412.2,1801.4) scale(1.0300,1)" font-size="62.00" fill="#000">402</text>
<text transform="translate(600.3,1801.4) scale(1.0300,1)" font-size="62.00" fill="#000">400</text>
<text transform="translate(787.6,1801.4) scale(1.0300,1)" font-size="62.00" fill="#000">398</text>
<text transform="translate(975.6,1801.4) scale(1.0300,1)" font-size="62.00" fill="#000">396</text>
<text transform="translate(31.3,1020) scale(0.9659,1)" font-size="113.01" fill="#000">c</text>
<text transform="translate(233.6,1092.6) scale(1.0513,1)" font-size="62.01" fill="#000">N1s</text>
<text transform="translate(108.7,1537.9) rotate(-90) scale(1.0079,1)" font-size="61.00" fill="#000">Intensity (a.u.)</text>
<text transform="translate(374.2,1896.9) scale(1.0421,1)" font-size="61.50" fill="#000">Binding energy (eV)</text>
<path d="M736.6,1028.8H841.9" stroke="#585858" stroke-width="8" stroke-linecap="round"/>
<path d="M736.4,1084.9H842.1" stroke="#000" stroke-width="7.5" stroke-linecap="round"/>
<path d="M736.1,1140H842.4" stroke="#ff8010" stroke-width="7" stroke-linecap="round"/>
<linearGradient id="lPKc" gradientUnits="userSpaceOnUse" x1="0" y1="1174.6" x2="0" y2="1216.4"><stop offset="0" stop-color="#ff3399"/><stop offset="1" stop-color="#ff40ff"/></linearGradient>
<linearGradient id="lGRc" gradientUnits="userSpaceOnUse" x1="0" y1="1229.7" x2="0" y2="1273.6"><stop offset="0" stop-color="#44ee44"/><stop offset="1" stop-color="#3a8a3a"/></linearGradient>
<rect x="736.3" y="1174.6" width="92.2" height="41.8" fill="url(#lPKc)"/>
<rect x="736.3" y="1229.7" width="92.2" height="43.9" fill="url(#lGRc)"/>
<text transform="translate(854.2,1045) scale(1.0588,1)" font-size="43.53" fill="#000">Raw data</text>
<text transform="translate(854.2,1100.2) scale(1.0696,1)" font-size="43.53" fill="#000">Fitted line</text>
<text transform="translate(855.2,1154.2) scale(1.0579,1)" font-size="43.53" fill="#000">Background</text>
<text transform="translate(854.6,1211.3) scale(1.0445,1)" font-size="43.53" fill="#000">Amino N</text>
<text transform="translate(855.2,1266.4) scale(1.0529,1)" font-size="43.53" fill="#000">Pyridine N</text>
<linearGradient id="gCOd" gradientUnits="userSpaceOnUse" x1="0" y1="1232" x2="0" y2="1640"><stop offset="0" stop-color="#3a48f5"/><stop offset="0.45" stop-color="#40a2f0"/><stop offset="1" stop-color="#40f2ff"/></linearGradient>
<linearGradient id="gOHd" gradientUnits="userSpaceOnUse" x1="0" y1="1133" x2="0" y2="1660"><stop offset="0" stop-color="#3c9c3c"/><stop offset="0.45" stop-color="#3cc03c"/><stop offset="1" stop-color="#44f044"/></linearGradient>
<clipPath id="cFitD"><path d="M1376.1,1639.3 1392.1,1636.3 1410.1,1634.2 1427.1,1633 1466.1,1631 1486.1,1629.3 1504.1,1626.7 1520.1,1623 1531.1,1619.6 1542.1,1615.4 1552.1,1610.7 1561.1,1605.7 1570.1,1599.8 1578.1,1593.6 1585.1,1587.1 1592.1,1579.4 1598.1,1571.2 1603.1,1562.8 1608.1,1552.6 1612.1,1542.8 1618.1,1525.3 1631.1,1482.7 1646.1,1441.7 1652.1,1423.5 1659.1,1398.6 1665.1,1373.8 1670.1,1350.5 1685.1,1276.2 1694.1,1237.6 1700.1,1215.8 1706.1,1196.6 1712.1,1179.8 1718.1,1165.9 1723.1,1157 1729.1,1148.6 1734.1,1143.5 1739.1,1140.2 1743.1,1138.9 1748.1,1138.3 1753.1,1138.5 1766.1,1139.8 1773.1,1139.5 1777.1,1138.6 1781.1,1137.1 1785.1,1135 1789.1,1132.3 1793.1,1128.9 1797.1,1124.7 1804.1,1115.7 1811.1,1104.3 1820.1,1087.3 1825.1,1080.2 1829.1,1076.2 1834.1,1072.5 1838.1,1070.6 1842.1,1069.8 1844.1,1070.1 1846.1,1070.7 1849.1,1072.6 1852.1,1075.6 1856.1,1081.1 1860.1,1088.2 1863.1,1094.9 1866.1,1103.5 1868.1,1110.8 1870.1,1119.8 1877.1,1157.8 1889.1,1212 1898.1,1255.5 1922.1,1380.7 1932.1,1430.8 1939.1,1463.4 1945.1,1489.6 1950.1,1509.4 1954.1,1523.4 1959.1,1538.5 1964.1,1551.4 1969.1,1562.5 1975.1,1574.1 1980.1,1582.5 1985.1,1589.9 2008.1,1620.4 2014.1,1627.4 2020.1,1632.9 2027.1,1637.6 2036.1,1642 2048.1,1646.3 2065.1,1651.2 2082.1,1655.2 2100.1,1658.6 2115.1,1660.8 2130.1,1662.6 2163.1,1665.3 2195.1,1666.7 2271.1,1668.7 2292.1,1669.7 2311.1,1671 L2311.1,1728.8 L1376.1,1728.8Z"/></clipPath>
<g clip-path="url(#cFitD)">
<path d="M1376.1,1641 1425.9,1636.2 1470.9,1633.4 1486.8,1632 1503.7,1629.7 1520.3,1626.1 1530.8,1623 1542.1,1618.7 1552.1,1614.3 1561.9,1609.1 1570.3,1603.8 1578.3,1597.8 1585,1591.8 1591.1,1585.1 1597.8,1576.4 1604.1,1566.2 1610.9,1552.8 1618.4,1536.4 1624.8,1519.6 1647,1454.2 1657.8,1420.9 1664,1399.7 1667.6,1385.2 1674.7,1351.9 1678.4,1336.3 1693.2,1281.2 1696.9,1269.8 1699.6,1263.3 1703.1,1256.2 1708,1247.4 1711.3,1242.4 1714.6,1238.8 1717.7,1236.3 1721,1234.6 1723.7,1234.2 1726.2,1234.8 1729.3,1236.8 1732.7,1240.5 1736.2,1245.3 1739.2,1250.5 1742.3,1256.7 1745.4,1264.1 1747.7,1270.7 1759.3,1314.2 1763.9,1332.7 1776,1392.5 1781.1,1416 1784.7,1430.6 1789.9,1448.9 1795.4,1466.1 1801.4,1483 1808.4,1500.7 1816.8,1520 1826.7,1540.8 1848,1583.8 1858.9,1604.1 1866.5,1615.8 1877.6,1630.1 1886.8,1640.6 1891.1,1644.7 1895,1647.9 1899.2,1650.7 1904.5,1653.3 1912.9,1656.7 1922.3,1659.9 1930,1662 1936.9,1663.5 1943.8,1664.4 1950.8,1665 1976.8,1665.9 2010.8,1666.5 2311.1,1670 L2311.1,1675.5 2301.2,1675.5 2291.2,1675.5 2281.3,1675.5 2271.3,1675.5 2261.4,1675.5 2251.4,1675.5 2241.5,1675.5 2231.5,1675.5 2221.6,1675.5 2211.6,1675.5 2201.7,1675.5 2191.7,1675.5 2181.8,1675.5 2171.8,1675.4 2161.9,1675.4 2152,1675.4 2142,1675.4 2132.1,1675.4 2122.1,1675.4 2112.2,1675.4 2102.2,1675.4 2092.3,1675.3 2082.3,1675.2 2072.4,1675.2 2062.4,1675.1 2052.5,1675 2042.5,1674.9 2032.6,1674.8 2022.6,1674.7 2012.7,1674.6 2002.7,1674.5 1992.8,1674.3 1982.9,1674.1 1972.9,1674 1963,1673.7 1953,1673.5 1943.1,1673.3 1933.1,1672.9 1923.2,1672.5 1913.2,1672 1903.3,1671.5 1893.3,1670.9 1883.4,1670.2 1873.4,1669.4 1863.5,1668.4 1853.5,1667.4 1843.6,1666.3 1833.7,1665.2 1823.7,1663.9 1813.8,1662.7 1803.8,1661.5 1793.9,1660.2 1783.9,1658.9 1774,1657.6 1764,1656.4 1754.1,1655.5 1744.1,1654.7 1734.2,1653.9 1724.2,1653.3 1714.3,1652.7 1704.3,1652.1 1694.4,1651.6 1684.5,1651.1 1674.5,1650.6 1664.6,1650 1654.6,1649.4 1644.7,1648.8 1634.7,1648.2 1624.8,1647.7 1614.8,1647.3 1604.9,1647 1594.9,1646.7 1585,1646.4 1575,1646.2 1565.1,1646 1555.1,1645.8 1545.2,1645.6 1535.2,1645.5 1525.3,1645.3 1515.4,1645.2 1505.4,1645 1495.5,1644.9 1485.5,1644.7 1475.6,1644.6 1465.6,1644.4 1455.7,1644.3 1445.7,1644.1 1435.8,1644 1425.8,1643.8 1415.9,1643.6 1405.9,1643.5 1396,1643.3 1386,1643.2 1376.1,1643Z" fill="url(#gCOd)"/>
<path d="M1376.1,1642 1462.1,1638.2 1539.1,1636 1567.1,1634.9 1586.1,1633.5 1646.9,1627.5 1657.8,1626.2 1667.7,1624.6 1676.4,1622.6 1684.1,1620.3 1692.5,1617 1699.6,1613.4 1704.6,1610.1 1708.2,1606.7 1713.7,1599.6 1719.8,1589.3 1727,1575 1731.6,1563.9 1737.3,1546.8 1752,1497.9 1765.3,1457 1776.1,1425.8 1782.7,1404.8 1787.9,1386.5 1792,1369 1795,1352.2 1801.6,1310.7 1805.3,1290 1824.1,1196.8 1828.8,1176.3 1835.4,1154.3 1837.4,1148.6 1839.6,1144.2 1842.5,1140.2 1845.4,1137.7 1848.8,1135.8 1852.4,1135.2 1854.9,1135.8 1857.1,1137.4 1859.5,1140.4 1861.9,1144.7 1865.3,1151.9 1867.4,1157.5 1869.5,1164.2 1872,1173.9 1878.1,1201.3 1919.4,1408.4 1934.5,1479.9 1936.9,1489.6 1939.3,1498.3 1944.1,1512.5 1949.5,1526.5 1964.1,1560.5 1972.2,1577.7 1977.8,1588.3 1984.2,1598.5 1992.3,1609.9 1999.8,1619.3 2007.9,1628.1 2016.1,1635.5 2024.9,1642.1 2033.5,1647.2 2044.6,1651.9 2073.9,1661.9 2081.6,1664.1 2091.4,1666.2 2107.2,1668.8 2121.1,1670.7 2135,1672.1 2148,1672.9 2230,1675.2 2311.1,1676 L2311.1,1675.5 2301.2,1675.5 2291.2,1675.5 2281.3,1675.5 2271.3,1675.5 2261.4,1675.5 2251.4,1675.5 2241.5,1675.5 2231.5,1675.5 2221.6,1675.5 2211.6,1675.5 2201.7,1675.5 2191.7,1675.5 2181.8,1675.5 2171.8,1675.4 2161.9,1675.4 2152,1675.4 2142,1675.4 2132.1,1675.4 2122.1,1675.4 2112.2,1675.4 2102.2,1675.4 2092.3,1675.3 2082.3,1675.2 2072.4,1675.2 2062.4,1675.1 2052.5,1675 2042.5,1674.9 2032.6,1674.8 2022.6,1674.7 2012.7,1674.6 2002.7,1674.5 1992.8,1674.3 1982.9,1674.1 1972.9,1674 1963,1673.7 1953,1673.5 1943.1,1673.3 1933.1,1672.9 1923.2,1672.5 1913.2,1672 1903.3,1671.5 1893.3,1670.9 1883.4,1670.2 1873.4,1669.4 1863.5,1668.4 1853.5,1667.4 1843.6,1666.3 1833.7,1665.2 1823.7,1663.9 1813.8,1662.7 1803.8,1661.5 1793.9,1660.2 1783.9,1658.9 1774,1657.6 1764,1656.4 1754.1,1655.5 1744.1,1654.7 1734.2,1653.9 1724.2,1653.3 1714.3,1652.7 1704.3,1652.1 1694.4,1651.6 1684.5,1651.1 1674.5,1650.6 1664.6,1650 1654.6,1649.4 1644.7,1648.8 1634.7,1648.2 1624.8,1647.7 1614.8,1647.3 1604.9,1647 1594.9,1646.7 1585,1646.4 1575,1646.2 1565.1,1646 1555.1,1645.8 1545.2,1645.6 1535.2,1645.5 1525.3,1645.3 1515.4,1645.2 1505.4,1645 1495.5,1644.9 1485.5,1644.7 1475.6,1644.6 1465.6,1644.4 1455.7,1644.3 1445.7,1644.1 1435.8,1644 1425.8,1643.8 1415.9,1643.6 1405.9,1643.5 1396,1643.3 1386,1643.2 1376.1,1643Z" fill="url(#gOHd)"/>
<clipPath id="cCOd"><path d="M1376.1,1641 1425.9,1636.2 1470.9,1633.4 1486.8,1632 1503.7,1629.7 1520.3,1626.1 1530.8,1623 1542.1,1618.7 1552.1,1614.3 1561.9,1609.1 1570.3,1603.8 1578.3,1597.8 1585,1591.8 1591.1,1585.1 1597.8,1576.4 1604.1,1566.2 1610.9,1552.8 1618.4,1536.4 1624.8,1519.6 1647,1454.2 1657.8,1420.9 1664,1399.7 1667.6,1385.2 1674.7,1351.9 1678.4,1336.3 1693.2,1281.2 1696.9,1269.8 1699.6,1263.3 1703.1,1256.2 1708,1247.4 1711.3,1242.4 1714.6,1238.8 1717.7,1236.3 1721,1234.6 1723.7,1234.2 1726.2,1234.8 1729.3,1236.8 1732.7,1240.5 1736.2,1245.3 1739.2,1250.5 1742.3,1256.7 1745.4,1264.1 1747.7,1270.7 1759.3,1314.2 1763.9,1332.7 1776,1392.5 1781.1,1416 1784.7,1430.6 1789.9,1448.9 1795.4,1466.1 1801.4,1483 1808.4,1500.7 1816.8,1520 1826.7,1540.8 1848,1583.8 1858.9,1604.1 1866.5,1615.8 1877.6,1630.1 1886.8,1640.6 1891.1,1644.7 1895,1647.9 1899.2,1650.7 1904.5,1653.3 1912.9,1656.7 1922.3,1659.9 1930,1662 1936.9,1663.5 1943.8,1664.4 1950.8,1665 1976.8,1665.9 2010.8,1666.5 2311.1,1670 L2311.1,1675.5 2301.2,1675.5 2291.2,1675.5 2281.3,1675.5 2271.3,1675.5 2261.4,1675.5 2251.4,1675.5 2241.5,1675.5 2231.5,1675.5 2221.6,1675.5 2211.6,1675.5 2201.7,1675.5 2191.7,1675.5 2181.8,1675.5 2171.8,1675.4 2161.9,1675.4 2152,1675.4 2142,1675.4 2132.1,1675.4 2122.1,1675.4 2112.2,1675.4 2102.2,1675.4 2092.3,1675.3 2082.3,1675.2 2072.4,1675.2 2062.4,1675.1 2052.5,1675 2042.5,1674.9 2032.6,1674.8 2022.6,1674.7 2012.7,1674.6 2002.7,1674.5 1992.8,1674.3 1982.9,1674.1 1972.9,1674 1963,1673.7 1953,1673.5 1943.1,1673.3 1933.1,1672.9 1923.2,1672.5 1913.2,1672 1903.3,1671.5 1893.3,1670.9 1883.4,1670.2 1873.4,1669.4 1863.5,1668.4 1853.5,1667.4 1843.6,1666.3 1833.7,1665.2 1823.7,1663.9 1813.8,1662.7 1803.8,1661.5 1793.9,1660.2 1783.9,1658.9 1774,1657.6 1764,1656.4 1754.1,1655.5 1744.1,1654.7 1734.2,1653.9 1724.2,1653.3 1714.3,1652.7 1704.3,1652.1 1694.4,1651.6 1684.5,1651.1 1674.5,1650.6 1664.6,1650 1654.6,1649.4 1644.7,1648.8 1634.7,1648.2 1624.8,1647.7 1614.8,1647.3 1604.9,1647 1594.9,1646.7 1585,1646.4 1575,1646.2 1565.1,1646 1555.1,1645.8 1545.2,1645.6 1535.2,1645.5 1525.3,1645.3 1515.4,1645.2 1505.4,1645 1495.5,1644.9 1485.5,1644.7 1475.6,1644.6 1465.6,1644.4 1455.7,1644.3 1445.7,1644.1 1435.8,1644 1425.8,1643.8 1415.9,1643.6 1405.9,1643.5 1396,1643.3 1386,1643.2 1376.1,1643Z"/></clipPath>
<linearGradient id="gOVd" gradientUnits="userSpaceOnUse" x1="0" y1="1420" x2="0" y2="1640"><stop offset="0" stop-color="#12d43c"/><stop offset="1" stop-color="#12ee34"/></linearGradient>
<path d="M1376.1,1642 1462.1,1638.2 1539.1,1636 1567.1,1634.9 1586.1,1633.5 1646.9,1627.5 1657.8,1626.2 1667.7,1624.6 1676.4,1622.6 1684.1,1620.3 1692.5,1617 1699.6,1613.4 1704.6,1610.1 1708.2,1606.7 1713.7,1599.6 1719.8,1589.3 1727,1575 1731.6,1563.9 1737.3,1546.8 1752,1497.9 1765.3,1457 1776.1,1425.8 1782.7,1404.8 1787.9,1386.5 1792,1369 1795,1352.2 1801.6,1310.7 1805.3,1290 1824.1,1196.8 1828.8,1176.3 1835.4,1154.3 1837.4,1148.6 1839.6,1144.2 1842.5,1140.2 1845.4,1137.7 1848.8,1135.8 1852.4,1135.2 1854.9,1135.8 1857.1,1137.4 1859.5,1140.4 1861.9,1144.7 1865.3,1151.9 1867.4,1157.5 1869.5,1164.2 1872,1173.9 1878.1,1201.3 1919.4,1408.4 1934.5,1479.9 1936.9,1489.6 1939.3,1498.3 1944.1,1512.5 1949.5,1526.5 1964.1,1560.5 1972.2,1577.7 1977.8,1588.3 1984.2,1598.5 1992.3,1609.9 1999.8,1619.3 2007.9,1628.1 2016.1,1635.5 2024.9,1642.1 2033.5,1647.2 2044.6,1651.9 2073.9,1661.9 2081.6,1664.1 2091.4,1666.2 2107.2,1668.8 2121.1,1670.7 2135,1672.1 2148,1672.9 2230,1675.2 2311.1,1676 L2311.1,1675.5 2301.2,1675.5 2291.2,1675.5 2281.3,1675.5 2271.3,1675.5 2261.4,1675.5 2251.4,1675.5 2241.5,1675.5 2231.5,1675.5 2221.6,1675.5 2211.6,1675.5 2201.7,1675.5 2191.7,1675.5 2181.8,1675.5 2171.8,1675.4 2161.9,1675.4 2152,1675.4 2142,1675.4 2132.1,1675.4 2122.1,1675.4 2112.2,1675.4 2102.2,1675.4 2092.3,1675.3 2082.3,1675.2 2072.4,1675.2 2062.4,1675.1 2052.5,1675 2042.5,1674.9 2032.6,1674.8 2022.6,1674.7 2012.7,1674.6 2002.7,1674.5 1992.8,1674.3 1982.9,1674.1 1972.9,1674 1963,1673.7 1953,1673.5 1943.1,1673.3 1933.1,1672.9 1923.2,1672.5 1913.2,1672 1903.3,1671.5 1893.3,1670.9 1883.4,1670.2 1873.4,1669.4 1863.5,1668.4 1853.5,1667.4 1843.6,1666.3 1833.7,1665.2 1823.7,1663.9 1813.8,1662.7 1803.8,1661.5 1793.9,1660.2 1783.9,1658.9 1774,1657.6 1764,1656.4 1754.1,1655.5 1744.1,1654.7 1734.2,1653.9 1724.2,1653.3 1714.3,1652.7 1704.3,1652.1 1694.4,1651.6 1684.5,1651.1 1674.5,1650.6 1664.6,1650 1654.6,1649.4 1644.7,1648.8 1634.7,1648.2 1624.8,1647.7 1614.8,1647.3 1604.9,1647 1594.9,1646.7 1585,1646.4 1575,1646.2 1565.1,1646 1555.1,1645.8 1545.2,1645.6 1535.2,1645.5 1525.3,1645.3 1515.4,1645.2 1505.4,1645 1495.5,1644.9 1485.5,1644.7 1475.6,1644.6 1465.6,1644.4 1455.7,1644.3 1445.7,1644.1 1435.8,1644 1425.8,1643.8 1415.9,1643.6 1405.9,1643.5 1396,1643.3 1386,1643.2 1376.1,1643Z" fill="url(#gOVd)" clip-path="url(#cCOd)"/>
</g>
<path d="M1376.1,1645 1377.1,1645 1378.1,1645 1379.1,1645 1380.1,1645.1 1381.1,1645.1 1382.1,1645.1 1383.1,1645.1 1384.1,1645.1 1385.1,1645.1 1386.1,1645.2 1387.1,1645.2 1388.1,1645.2 1389.1,1645.2 1390.1,1645.2 1391.1,1645.2 1392.1,1645.3 1393.1,1645.3 1394.1,1645.3 1395.1,1645.3 1396.1,1645.3 1397.1,1645.3 1398.1,1645.4 1399.1,1645.4 1400.1,1645.4 1401.1,1645.4 1402.1,1645.4 1403.1,1645.4 1404.1,1645.5 1405.1,1645.5 1406.1,1645.5 1407.1,1645.5 1408.1,1645.5 1409.1,1645.5 1410.1,1645.5 1411.1,1645.6 1412.1,1645.6 1413.1,1645.6 1414.1,1645.6 1415.1,1645.6 1416.1,1645.6 1417.1,1645.7 1418.1,1645.7 1419.1,1645.7 1420.1,1645.7 1421.1,1645.7 1422.1,1645.7 1423.1,1645.8 1424.1,1645.8 1425.1,1645.8 1426.1,1645.8 1427.1,1645.8 1428.1,1645.8 1429.1,1645.9 1430.1,1645.9 1431.1,1645.9 1432.1,1645.9 1433.1,1645.9 1434.1,1645.9 1435.1,1645.9 1436.1,1646 1437.1,1646 1438.1,1646 1439.1,1646 1440.1,1646 1441.1,1646 1442.1,1646.1 1443.1,1646.1 1444.1,1646.1 1445.1,1646.1 1446.1,1646.1 1447.1,1646.1 1448.1,1646.2 1449.1,1646.2 1450.1,1646.2 1451.1,1646.2 1452.1,1646.2 1453.1,1646.2 1454.1,1646.2 1455.1,1646.3 1456.1,1646.3 1457.1,1646.3 1458.1,1646.3 1459.1,1646.3 1460.1,1646.3 1461.1,1646.4 1462.1,1646.4 1463.1,1646.4 1464.1,1646.4 1465.1,1646.4 1466.1,1646.4 1467.1,1646.5 1468.1,1646.5 1469.1,1646.5 1470.1,1646.5 1471.1,1646.5 1472.1,1646.5 1473.1,1646.5 1474.1,1646.6 1475.1,1646.6 1476.1,1646.6 1477.1,1646.6 1478.1,1646.6 1479.1,1646.6 1480.1,1646.7 1481.1,1646.7 1482.1,1646.7 1483.1,1646.7 1484.1,1646.7 1485.1,1646.7 1486.1,1646.7 1487.1,1646.8 1488.1,1646.8 1489.1,1646.8 1490.1,1646.8 1491.1,1646.8 1492.1,1646.8 1493.1,1646.8 1494.1,1646.9 1495.1,1646.9 1496.1,1646.9 1497.1,1646.9 1498.1,1646.9 1499.1,1646.9 1500.1,1646.9 1501.1,1647 1502.1,1647 1503.1,1647 1504.1,1647 1505.1,1647 1506.1,1647 1507.1,1647 1508.1,1647.1 1509.1,1647.1 1510.1,1647.1 1511.1,1647.1 1512.1,1647.1 1513.1,1647.1 1514.1,1647.1 1515.1,1647.2 1516.1,1647.2 1517.1,1647.2 1518.1,1647.2 1519.1,1647.2 1520.1,1647.2 1521.1,1647.2 1522.1,1647.3 1523.1,1647.3 1524.1,1647.3 1525.1,1647.3 1526.1,1647.3 1527.1,1647.3 1528.1,1647.3 1529.1,1647.4 1530.1,1647.4 1531.1,1647.4 1532.1,1647.4 1533.1,1647.4 1534.1,1647.4 1535.1,1647.4 1536.1,1647.5 1537.1,1647.5 1538.1,1647.5 1539.1,1647.5 1540.1,1647.5 1541.1,1647.5 1542.1,1647.6 1543.1,1647.6 1544.1,1647.6 1545.1,1647.6 1546.1,1647.6 1547.1,1647.6 1548.1,1647.7 1549.1,1647.7 1550.1,1647.7 1551.1,1647.7 1552.1,1647.7 1553.1,1647.8 1554.1,1647.8 1555.1,1647.8 1556.1,1647.8 1557.1,1647.8 1558.1,1647.8 1559.1,1647.9 1560.1,1647.9 1561.1,1647.9 1562.1,1647.9 1563.1,1647.9 1564.1,1648 1565.1,1648 1566.1,1648 1567.1,1648 1568.1,1648 1569.1,1648.1 1570.1,1648.1 1571.1,1648.1 1572.1,1648.1 1573.1,1648.2 1574.1,1648.2 1575.1,1648.2 1576.1,1648.2 1577.1,1648.2 1578.1,1648.3 1579.1,1648.3 1580.1,1648.3 1581.1,1648.3 1582.1,1648.4 1583.1,1648.4 1584.1,1648.4 1585.1,1648.4 1586.1,1648.5 1587.1,1648.5 1588.1,1648.5 1589.1,1648.5 1590.1,1648.6 1591.1,1648.6 1592.1,1648.6 1593.1,1648.6 1594.1,1648.7 1595.1,1648.7 1596.1,1648.7 1597.1,1648.7 1598.1,1648.8 1599.1,1648.8 1600.1,1648.8 1601.1,1648.9 1602.1,1648.9 1603.1,1648.9 1604.1,1649 1605.1,1649 1606.1,1649 1607.1,1649.1 1608.1,1649.1 1609.1,1649.1 1610.1,1649.1 1611.1,1649.2 1612.1,1649.2 1613.1,1649.3 1614.1,1649.3 1615.1,1649.3 1616.1,1649.4 1617.1,1649.4 1618.1,1649.4 1619.1,1649.5 1620.1,1649.5 1621.1,1649.5 1622.1,1649.6 1623.1,1649.6 1624.1,1649.7 1625.1,1649.7 1626.1,1649.8 1627.1,1649.8 1628.1,1649.9 1629.1,1649.9 1630.1,1650 1631.1,1650 1632.1,1650.1 1633.1,1650.1 1634.1,1650.2 1635.1,1650.2 1636.1,1650.3 1637.1,1650.4 1638.1,1650.4 1639.1,1650.5 1640.1,1650.5 1641.1,1650.6 1642.1,1650.7 1643.1,1650.7 1644.1,1650.8 1645.1,1650.8 1646.1,1650.9 1647.1,1651 1648.1,1651 1649.1,1651.1 1650.1,1651.2 1651.1,1651.2 1652.1,1651.3 1653.1,1651.4 1654.1,1651.4 1655.1,1651.5 1656.1,1651.5 1657.1,1651.6 1658.1,1651.7 1659.1,1651.7 1660.1,1651.8 1661.1,1651.8 1662.1,1651.9 1663.1,1651.9 1664.1,1652 1665.1,1652.1 1666.1,1652.1 1667.1,1652.2 1668.1,1652.2 1669.1,1652.3 1670.1,1652.3 1671.1,1652.4 1672.1,1652.4 1673.1,1652.5 1674.1,1652.5 1675.1,1652.6 1676.1,1652.6 1677.1,1652.7 1678.1,1652.7 1679.1,1652.8 1680.1,1652.8 1681.1,1652.9 1682.1,1652.9 1683.1,1653 1684.1,1653 1685.1,1653.1 1686.1,1653.1 1687.1,1653.2 1688.1,1653.2 1689.1,1653.3 1690.1,1653.3 1691.1,1653.4 1692.1,1653.4 1693.1,1653.5 1694.1,1653.6 1695.1,1653.6 1696.1,1653.7 1697.1,1653.7 1698.1,1653.8 1699.1,1653.8 1700.1,1653.9 1701.1,1653.9 1702.1,1654 1703.1,1654 1704.1,1654.1 1705.1,1654.1 1706.1,1654.2 1707.1,1654.2 1708.1,1654.3 1709.1,1654.4 1710.1,1654.4 1711.1,1654.5 1712.1,1654.5 1713.1,1654.6 1714.1,1654.6 1715.1,1654.7 1716.1,1654.8 1717.1,1654.8 1718.1,1654.9 1719.1,1654.9 1720.1,1655 1721.1,1655.1 1722.1,1655.1 1723.1,1655.2 1724.1,1655.3 1725.1,1655.3 1726.1,1655.4 1727.1,1655.5 1728.1,1655.5 1729.1,1655.6 1730.1,1655.7 1731.1,1655.7 1732.1,1655.8 1733.1,1655.9 1734.1,1655.9 1735.1,1656 1736.1,1656.1 1737.1,1656.1 1738.1,1656.2 1739.1,1656.3 1740.1,1656.4 1741.1,1656.4 1742.1,1656.5 1743.1,1656.6 1744.1,1656.7 1745.1,1656.7 1746.1,1656.8 1747.1,1656.9 1748.1,1657 1749.1,1657 1750.1,1657.1 1751.1,1657.2 1752.1,1657.3 1753.1,1657.4 1754.1,1657.5 1755.1,1657.6 1756.1,1657.6 1757.1,1657.7 1758.1,1657.8 1759.1,1657.9 1760.1,1658 1761.1,1658.1 1762.1,1658.2 1763.1,1658.3 1764.1,1658.4 1765.1,1658.5 1766.1,1658.6 1767.1,1658.7 1768.1,1658.9 1769.1,1659 1770.1,1659.1 1771.1,1659.2 1772.1,1659.3 1773.1,1659.5 1774.1,1659.6 1775.1,1659.7 1776.1,1659.8 1777.1,1660 1778.1,1660.1 1779.1,1660.2 1780.1,1660.4 1781.1,1660.5 1782.1,1660.6 1783.1,1660.8 1784.1,1660.9 1785.1,1661 1786.1,1661.2 1787.1,1661.3 1788.1,1661.4 1789.1,1661.6 1790.1,1661.7 1791.1,1661.9 1792.1,1662 1793.1,1662.1 1794.1,1662.2 1795.1,1662.4 1796.1,1662.5 1797.1,1662.6 1798.1,1662.8 1799.1,1662.9 1800.1,1663 1801.1,1663.1 1802.1,1663.3 1803.1,1663.4 1804.1,1663.5 1805.1,1663.6 1806.1,1663.8 1807.1,1663.9 1808.1,1664 1809.1,1664.1 1810.1,1664.3 1811.1,1664.4 1812.1,1664.5 1813.1,1664.6 1814.1,1664.8 1815.1,1664.9 1816.1,1665 1817.1,1665.1 1818.1,1665.3 1819.1,1665.4 1820.1,1665.5 1821.1,1665.6 1822.1,1665.8 1823.1,1665.9 1824.1,1666 1825.1,1666.1 1826.1,1666.2 1827.1,1666.4 1828.1,1666.5 1829.1,1666.6 1830.1,1666.7 1831.1,1666.9 1832.1,1667 1833.1,1667.1 1834.1,1667.2 1835.1,1667.3 1836.1,1667.4 1837.1,1667.6 1838.1,1667.7 1839.1,1667.8 1840.1,1667.9 1841.1,1668 1842.1,1668.1 1843.1,1668.3 1844.1,1668.4 1845.1,1668.5 1846.1,1668.6 1847.1,1668.7 1848.1,1668.8 1849.1,1668.9 1850.1,1669 1851.1,1669.1 1852.1,1669.2 1853.1,1669.3 1854.1,1669.4 1855.1,1669.5 1856.1,1669.6 1857.1,1669.8 1858.1,1669.9 1859.1,1670 1860.1,1670.1 1861.1,1670.2 1862.1,1670.3 1863.1,1670.4 1864.1,1670.5 1865.1,1670.6 1866.1,1670.7 1867.1,1670.8 1868.1,1670.9 1869.1,1671 1870.1,1671.1 1871.1,1671.2 1872.1,1671.3 1873.1,1671.4 1874.1,1671.5 1875.1,1671.6 1876.1,1671.6 1877.1,1671.7 1878.1,1671.8 1879.1,1671.9 1880.1,1672 1881.1,1672.1 1882.1,1672.1 1883.1,1672.2 1884.1,1672.3 1885.1,1672.3 1886.1,1672.4 1887.1,1672.5 1888.1,1672.5 1889.1,1672.6 1890.1,1672.7 1891.1,1672.7 1892.1,1672.8 1893.1,1672.9 1894.1,1672.9 1895.1,1673 1896.1,1673 1897.1,1673.1 1898.1,1673.2 1899.1,1673.2 1900.1,1673.3 1901.1,1673.3 1902.1,1673.4 1903.1,1673.4 1904.1,1673.5 1905.1,1673.6 1906.1,1673.6 1907.1,1673.7 1908.1,1673.7 1909.1,1673.8 1910.1,1673.8 1911.1,1673.9 1912.1,1673.9 1913.1,1674 1914.1,1674 1915.1,1674.1 1916.1,1674.1 1917.1,1674.2 1918.1,1674.2 1919.1,1674.3 1920.1,1674.3 1921.1,1674.4 1922.1,1674.4 1923.1,1674.5 1924.1,1674.5 1925.1,1674.6 1926.1,1674.6 1927.1,1674.7 1928.1,1674.7 1929.1,1674.7 1930.1,1674.8 1931.1,1674.8 1932.1,1674.9 1933.1,1674.9 1934.1,1674.9 1935.1,1675 1936.1,1675 1937.1,1675.1 1938.1,1675.1 1939.1,1675.1 1940.1,1675.2 1941.1,1675.2 1942.1,1675.2 1943.1,1675.3 1944.1,1675.3 1945.1,1675.3 1946.1,1675.3 1947.1,1675.4 1948.1,1675.4 1949.1,1675.4 1950.1,1675.5 1951.1,1675.5 1952.1,1675.5 1953.1,1675.5 1954.1,1675.5 1955.1,1675.6 1956.1,1675.6 1957.1,1675.6 1958.1,1675.6 1959.1,1675.7 1960.1,1675.7 1961.1,1675.7 1962.1,1675.7 1963.1,1675.8 1964.1,1675.8 1965.1,1675.8 1966.1,1675.8 1967.1,1675.8 1968.1,1675.9 1969.1,1675.9 1970.1,1675.9 1971.1,1675.9 1972.1,1675.9 1973.1,1676 1974.1,1676 1975.1,1676 1976.1,1676 1977.1,1676 1978.1,1676.1 1979.1,1676.1 1980.1,1676.1 1981.1,1676.1 1982.1,1676.1 1983.1,1676.1 1984.1,1676.2 1985.1,1676.2 1986.1,1676.2 1987.1,1676.2 1988.1,1676.2 1989.1,1676.3 1990.1,1676.3 1991.1,1676.3 1992.1,1676.3 1993.1,1676.3 1994.1,1676.3 1995.1,1676.4 1996.1,1676.4 1997.1,1676.4 1998.1,1676.4 1999.1,1676.4 2000.1,1676.4 2001.1,1676.4 2002.1,1676.5 2003.1,1676.5 2004.1,1676.5 2005.1,1676.5 2006.1,1676.5 2007.1,1676.5 2008.1,1676.5 2009.1,1676.6 2010.1,1676.6 2011.1,1676.6 2012.1,1676.6 2013.1,1676.6 2014.1,1676.6 2015.1,1676.6 2016.1,1676.6 2017.1,1676.7 2018.1,1676.7 2019.1,1676.7 2020.1,1676.7 2021.1,1676.7 2022.1,1676.7 2023.1,1676.7 2024.1,1676.7 2025.1,1676.8 2026.1,1676.8 2027.1,1676.8 2028.1,1676.8 2029.1,1676.8 2030.1,1676.8 2031.1,1676.8 2032.1,1676.8 2033.1,1676.8 2034.1,1676.9 2035.1,1676.9 2036.1,1676.9 2037.1,1676.9 2038.1,1676.9 2039.1,1676.9 2040.1,1676.9 2041.1,1676.9 2042.1,1676.9 2043.1,1676.9 2044.1,1676.9 2045.1,1677 2046.1,1677 2047.1,1677 2048.1,1677 2049.1,1677 2050.1,1677 2051.1,1677 2052.1,1677 2053.1,1677 2054.1,1677 2055.1,1677 2056.1,1677.1 2057.1,1677.1 2058.1,1677.1 2059.1,1677.1 2060.1,1677.1 2061.1,1677.1 2062.1,1677.1 2063.1,1677.1 2064.1,1677.1 2065.1,1677.1 2066.1,1677.1 2067.1,1677.1 2068.1,1677.1 2069.1,1677.2 2070.1,1677.2 2071.1,1677.2 2072.1,1677.2 2073.1,1677.2 2074.1,1677.2 2075.1,1677.2 2076.1,1677.2 2077.1,1677.2 2078.1,1677.2 2079.1,1677.2 2080.1,1677.2 2081.1,1677.2 2082.1,1677.2 2083.1,1677.3 2084.1,1677.3 2085.1,1677.3 2086.1,1677.3 2087.1,1677.3 2088.1,1677.3 2089.1,1677.3 2090.1,1677.3 2091.1,1677.3 2092.1,1677.3 2093.1,1677.3 2094.1,1677.3 2095.1,1677.3 2096.1,1677.3 2097.1,1677.3 2098.1,1677.3 2099.1,1677.3 2100.1,1677.3 2101.1,1677.4 2102.1,1677.4 2103.1,1677.4 2104.1,1677.4 2105.1,1677.4 2106.1,1677.4 2107.1,1677.4 2108.1,1677.4 2109.1,1677.4 2110.1,1677.4 2111.1,1677.4 2112.1,1677.4 2113.1,1677.4 2114.1,1677.4 2115.1,1677.4 2116.1,1677.4 2117.1,1677.4 2118.1,1677.4 2119.1,1677.4 2120.1,1677.4 2121.1,1677.4 2122.1,1677.4 2123.1,1677.4 2124.1,1677.4 2125.1,1677.4 2126.1,1677.4 2127.1,1677.4 2128.1,1677.4 2129.1,1677.4 2130.1,1677.4 2131.1,1677.4 2132.1,1677.4 2133.1,1677.4 2134.1,1677.4 2135.1,1677.4 2136.1,1677.4 2137.1,1677.4 2138.1,1677.4 2139.1,1677.4 2140.1,1677.4 2141.1,1677.4 2142.1,1677.4 2143.1,1677.4 2144.1,1677.4 2145.1,1677.4 2146.1,1677.4 2147.1,1677.4 2148.1,1677.4 2149.1,1677.4 2150.1,1677.4 2151.1,1677.4 2152.1,1677.4 2153.1,1677.4 2154.1,1677.4 2155.1,1677.4 2156.1,1677.4 2157.1,1677.4 2158.1,1677.4 2159.1,1677.4 2160.1,1677.4 2161.1,1677.4 2162.1,1677.4 2163.1,1677.4 2164.1,1677.4 2165.1,1677.4 2166.1,1677.4 2167.1,1677.4 2168.1,1677.4 2169.1,1677.4 2170.1,1677.4 2171.1,1677.4 2172.1,1677.4 2173.1,1677.5 2174.1,1677.5 2175.1,1677.5 2176.1,1677.5 2177.1,1677.5 2178.1,1677.5 2179.1,1677.5 2180.1,1677.5 2181.1,1677.5 2182.1,1677.5 2183.1,1677.5 2184.1,1677.5 2185.1,1677.5 2186.1,1677.5 2187.1,1677.5 2188.1,1677.5 2189.1,1677.5 2190.1,1677.5 2191.1,1677.5 2192.1,1677.5 2193.1,1677.5 2194.1,1677.5 2195.1,1677.5 2196.1,1677.5 2197.1,1677.5 2198.1,1677.5 2199.1,1677.5 2200.1,1677.5 2201.1,1677.5 2202.1,1677.5 2203.1,1677.5 2204.1,1677.5 2205.1,1677.5 2206.1,1677.5 2207.1,1677.5 2208.1,1677.5 2209.1,1677.5 2210.1,1677.5 2211.1,1677.5 2212.1,1677.5 2213.1,1677.5 2214.1,1677.5 2215.1,1677.5 2216.1,1677.5 2217.1,1677.5 2218.1,1677.5 2219.1,1677.5 2220.1,1677.5 2221.1,1677.5 2222.1,1677.5 2223.1,1677.5 2224.1,1677.5 2225.1,1677.5 2226.1,1677.5 2227.1,1677.5 2228.1,1677.5 2229.1,1677.5 2230.1,1677.5 2231.1,1677.5 2232.1,1677.5 2233.1,1677.5 2234.1,1677.5 2235.1,1677.5 2236.1,1677.5 2237.1,1677.5 2238.1,1677.5 2239.1,1677.5 2240.1,1677.5 2241.1,1677.5 2242.1,1677.5 2243.1,1677.5 2244.1,1677.5 2245.1,1677.5 2246.1,1677.5 2247.1,1677.5 2248.1,1677.5 2249.1,1677.5 2250.1,1677.5 2251.1,1677.5 2252.1,1677.5 2253.1,1677.5 2254.1,1677.5 2255.1,1677.5 2256.1,1677.5 2257.1,1677.5 2258.1,1677.5 2259.1,1677.5 2260.1,1677.5 2261.1,1677.5 2262.1,1677.5 2263.1,1677.5 2264.1,1677.5 2265.1,1677.5 2266.1,1677.5 2267.1,1677.5 2268.1,1677.5 2269.1,1677.5 2270.1,1677.5 2271.1,1677.5 2272.1,1677.5 2273.1,1677.5 2274.1,1677.5 2275.1,1677.5 2276.1,1677.5 2277.1,1677.5 2278.1,1677.5 2279.1,1677.5 2280.1,1677.5 2281.1,1677.5 2282.1,1677.5 2283.1,1677.5 2284.1,1677.5 2285.1,1677.5 2286.1,1677.5 2287.1,1677.5 2288.1,1677.5 2289.1,1677.5 2290.1,1677.5 2291.1,1677.5 2292.1,1677.5 2293.1,1677.5 2294.1,1677.5 2295.1,1677.5 2296.1,1677.5 2297.1,1677.5 2298.1,1677.5 2299.1,1677.5 2300.1,1677.5 2301.1,1677.5 2302.1,1677.5 2303.1,1677.5 2304.1,1677.5 2305.1,1677.5 2306.1,1677.5 2307.1,1677.5 2308.1,1677.5 2309.1,1677.5 2310.1,1677.5 2311.1,1677.5" fill="none" stroke="#ff8010" stroke-width="5.5"/>
<path d="M1376.1,1637.3 1377.1,1637.1 1378.1,1636.8 1379.1,1636.6 1380.1,1636.4 1381.1,1636.2 1382.1,1636 1383.1,1635.8 1384.1,1635.6 1385.1,1635.5 1386.1,1635.3 1387.1,1635.1 1388.1,1634.9 1389.1,1634.8 1390.1,1634.6 1391.1,1634.5 1392.1,1634.3 1393.1,1634.2 1394.1,1634 1395.1,1633.9 1396.1,1633.7 1397.1,1633.6 1398.1,1633.5 1399.1,1633.4 1400.1,1633.2 1401.1,1633.1 1402.1,1633 1403.1,1632.9 1404.1,1632.8 1405.1,1632.7 1406.1,1632.6 1407.1,1632.5 1408.1,1632.4 1409.1,1632.3 1410.1,1632.2 1411.1,1632.1 1412.1,1632 1413.1,1631.9 1414.1,1631.9 1415.1,1631.8 1416.1,1631.7 1417.1,1631.6 1418.1,1631.6 1419.1,1631.5 1420.1,1631.4 1421.1,1631.4 1422.1,1631.3 1423.1,1631.2 1424.1,1631.2 1425.1,1631.1 1426.1,1631.1 1427.1,1631 1428.1,1630.9 1429.1,1630.9 1430.1,1630.8 1431.1,1630.8 1432.1,1630.7 1433.1,1630.7 1434.1,1630.6 1435.1,1630.6 1436.1,1630.5 1437.1,1630.5 1438.1,1630.4 1439.1,1630.4 1440.1,1630.4 1441.1,1630.3 1442.1,1630.3 1443.1,1630.2 1444.1,1630.2 1445.1,1630.1 1446.1,1630.1 1447.1,1630 1448.1,1630 1449.1,1629.9 1450.1,1629.9 1451.1,1629.9 1452.1,1629.8 1453.1,1629.8 1454.1,1629.7 1455.1,1629.7 1456.1,1629.6 1457.1,1629.6 1458.1,1629.5 1459.1,1629.5 1460.1,1629.4 1461.1,1629.3 1462.1,1629.3 1463.1,1629.2 1464.1,1629.2 1465.1,1629.1 1466.1,1629 1467.1,1629 1468.1,1628.9 1469.1,1628.8 1470.1,1628.8 1471.1,1628.7 1472.1,1628.6 1473.1,1628.6 1474.1,1628.5 1475.1,1628.4 1476.1,1628.3 1477.1,1628.2 1478.1,1628.1 1479.1,1628 1480.1,1628 1481.1,1627.9 1482.1,1627.8 1483.1,1627.7 1484.1,1627.6 1485.1,1627.4 1486.1,1627.3 1487.1,1627.2 1488.1,1627.1 1489.1,1627 1490.1,1626.9 1491.1,1626.7 1492.1,1626.6 1493.1,1626.5 1494.1,1626.3 1495.1,1626.2 1496.1,1626 1497.1,1625.9 1498.1,1625.7 1499.1,1625.5 1500.1,1625.4 1501.1,1625.2 1502.1,1625 1503.1,1624.8 1504.1,1624.6 1505.1,1624.4 1506.1,1624.2 1507.1,1624 1508.1,1623.7 1509.1,1623.3 1510.1,1622.9 1511.1,1622.5 1512.1,1621.9 1513.1,1621.3 1514.1,1620.5 1515.1,1619.7 1516.1,1618.7 1517.1,1617.7 1518.1,1616.7 1519.1,1615.8 1520.1,1614.9 1521.1,1614.1 1522.1,1613.5 1523.1,1613.2 1524.1,1613 1525.1,1613 1526.1,1613.2 1527.1,1613.6 1528.1,1613.9 1529.1,1614.4 1530.1,1614.8 1531.1,1615.1 1532.1,1615.3 1533.1,1615.5 1534.1,1615.5 1535.1,1615.5 1536.1,1615.3 1537.1,1615.1 1538.1,1614.8 1539.1,1614.5 1540.1,1614.1 1541.1,1613.8 1542.1,1613.4 1543.1,1612.9 1544.1,1612.5 1545.1,1612.1 1546.1,1611.6 1547.1,1611.1 1548.1,1610.7 1549.1,1610.2 1550.1,1609.7 1551.1,1609.2 1552.1,1608.7 1553.1,1608.2 1554.1,1607.7 1555.1,1607.1 1556.1,1606.6 1557.1,1606 1558.1,1605.5 1559.1,1604.9 1560.1,1604.3 1561.1,1603.7 1562.1,1603.1 1563.1,1602.5 1564.1,1601.9 1565.1,1601.2 1566.1,1600.6 1567.1,1599.9 1568.1,1599.2 1569.1,1598.5 1570.1,1597.8 1571.1,1597.1 1572.1,1596.4 1573.1,1595.6 1574.1,1594.8 1575.1,1594.1 1576.1,1593.3 1577.1,1592.4 1578.1,1591.6 1579.1,1590.7 1580.1,1589.9 1581.1,1589 1582.1,1588 1583.1,1587.1 1584.1,1586.1 1585.1,1585.1 1586.1,1584.1 1587.1,1583.1 1588.1,1582 1589.1,1580.9 1590.1,1579.8 1591.1,1578.6 1592.1,1577.4 1593.1,1576.1 1594.1,1574.8 1595.1,1573.5 1596.1,1572.1 1597.1,1570.7 1598.1,1569.2 1599.1,1567.6 1600.1,1566 1601.1,1564.3 1602.1,1562.6 1603.1,1560.8 1604.1,1558.9 1605.1,1556.9 1606.1,1554.9 1607.1,1552.8 1608.1,1550.6 1609.1,1548.3 1610.1,1545.9 1611.1,1543.4 1612.1,1540.8 1613.1,1538.2 1614.1,1535.4 1615.1,1532.5 1616.1,1529.5 1617.1,1526.4 1618.1,1523.3 1619.1,1520.1 1620.1,1516.8 1621.1,1513.4 1622.1,1510 1623.1,1506.6 1624.1,1503.2 1625.1,1499.8 1626.1,1496.5 1627.1,1493.1 1628.1,1489.9 1629.1,1486.7 1630.1,1483.6 1631.1,1480.7 1632.1,1477.7 1633.1,1474.9 1634.1,1472.1 1635.1,1469.4 1636.1,1466.6 1637.1,1464 1638.1,1461.3 1639.1,1458.6 1640.1,1456 1641.1,1453.3 1642.1,1450.6 1643.1,1448 1644.1,1445.2 1645.1,1442.5 1646.1,1439.7 1647.1,1436.8 1648.1,1433.9 1649.1,1430.9 1650.1,1427.8 1651.1,1424.7 1652.1,1421.5 1653.1,1418.2 1654.1,1414.8 1655.1,1411.4 1656.1,1407.8 1657.1,1404.2 1658.1,1400.5 1659.1,1396.6 1660.1,1392.7 1661.1,1388.7 1662.1,1384.6 1663.1,1380.4 1664.1,1376.1 1665.1,1371.8 1666.1,1367.3 1667.1,1362.7 1668.1,1358 1669.1,1353.3 1670.1,1348.5 1671.1,1343.6 1672.1,1338.7 1673.1,1333.7 1674.1,1328.7 1675.1,1323.6 1676.1,1318.5 1677.1,1313.5 1678.1,1308.4 1679.1,1303.4 1680.1,1298.4 1681.1,1293.4 1682.1,1288.5 1683.1,1283.7 1684.1,1278.9 1685.1,1274.2 1686.1,1269.5 1687.1,1265 1688.1,1260.5 1689.1,1256.2 1690.1,1251.9 1691.1,1247.7 1692.1,1243.6 1693.1,1239.6 1694.1,1235.6 1695.1,1231.8 1696.1,1228 1697.1,1224.3 1698.1,1220.7 1699.1,1217.2 1700.1,1213.8 1701.1,1210.4 1702.1,1207.1 1703.1,1203.9 1704.1,1200.8 1705.1,1197.7 1706.1,1194.6 1707.1,1191.7 1708.1,1188.8 1709.1,1185.9 1710.1,1183.1 1711.1,1180.4 1712.1,1177.8 1713.1,1175.2 1714.1,1172.8 1715.1,1170.4 1716.1,1168.1 1717.1,1166 1718.1,1163.9 1719.1,1162 1720.1,1160.1 1721.1,1158.3 1722.1,1156.6 1723.1,1155 1724.1,1153.4 1725.1,1151.9 1726.1,1150.4 1727.1,1149 1728.1,1147.7 1729.1,1146.3 1730.1,1145.1 1731.1,1143.8 1732.1,1142.6 1733.1,1141.4 1734.1,1140.3 1735.1,1139.2 1736.1,1138.2 1737.1,1137.2 1738.1,1136.3 1739.1,1135.4 1740.1,1134.7 1741.1,1134 1742.1,1133.5 1743.1,1133 1744.1,1132.7 1745.1,1132.5 1746.1,1132.5 1747.1,1132.5 1748.1,1132.7 1749.1,1132.9 1750.1,1133.3 1751.1,1133.6 1752.1,1134 1753.1,1134.4 1754.1,1134.9 1755.1,1135.3 1756.1,1135.6 1757.1,1136 1758.1,1136.3 1759.1,1136.6 1760.1,1136.8 1761.1,1137.1 1762.1,1137.3 1763.1,1137.4 1764.1,1137.5 1765.1,1137.7 1766.1,1137.7 1767.1,1137.8 1768.1,1137.8 1769.1,1137.8 1770.1,1137.8 1771.1,1137.7 1772.1,1137.6 1773.1,1137.5 1774.1,1137.3 1775.1,1137.1 1776.1,1136.8 1777.1,1136.6 1778.1,1136.2 1779.1,1135.9 1780.1,1135.5 1781.1,1135.1 1782.1,1134.6 1783.1,1134.1 1784.1,1133.6 1785.1,1133 1786.1,1132.4 1787.1,1131.7 1788.1,1131 1789.1,1130.2 1790.1,1129.4 1791.1,1128.6 1792.1,1127.7 1793.1,1126.7 1794.1,1125.7 1795.1,1124.6 1796.1,1123.4 1797.1,1122.2 1798.1,1120.9 1799.1,1119.4 1800.1,1117.9 1801.1,1116.3 1802.1,1114.6 1803.1,1112.9 1804.1,1111 1805.1,1109.1 1806.1,1107.2 1807.1,1105.2 1808.1,1103.2 1809.1,1101.2 1810.1,1099.2 1811.1,1097.3 1812.1,1095.5 1813.1,1093.7 1814.1,1091.9 1815.1,1090.2 1816.1,1088.6 1817.1,1087 1818.1,1085.5 1819.1,1084 1820.1,1082.7 1821.1,1081.5 1822.1,1080.3 1823.1,1079.3 1824.1,1078.3 1825.1,1077.3 1826.1,1076.4 1827.1,1075.5 1828.1,1074.7 1829.1,1073.9 1830.1,1073.1 1831.1,1072.4 1832.1,1071.7 1833.1,1071.1 1834.1,1070.5 1835.1,1069.9 1836.1,1069.4 1837.1,1069 1838.1,1068.6 1839.1,1068.3 1840.1,1068.1 1841.1,1067.9 1842.1,1067.8 1843.1,1067.9 1844.1,1068.1 1845.1,1068.3 1846.1,1068.7 1847.1,1069.2 1848.1,1069.9 1849.1,1070.6 1850.1,1071.5 1851.1,1072.5 1852.1,1073.6 1853.1,1074.8 1854.1,1076.2 1855.1,1077.6 1856.1,1079.1 1857.1,1080.7 1858.1,1082.4 1859.1,1084.3 1860.1,1086.2 1861.1,1088.3 1862.1,1090.5 1863.1,1092.9 1864.1,1095.5 1865.1,1098.4 1866.1,1101.5 1867.1,1104.9 1868.1,1108.8 1869.1,1113 1870.1,1117.8 1871.1,1123 1872.1,1128.6 1873.1,1134.5 1874.1,1140.3 1875.1,1145.8 1876.1,1150.9 1877.1,1155.8 1878.1,1160.6 1879.1,1165.2 1880.1,1169.7 1881.1,1174.1 1882.1,1178.5 1883.1,1182.9 1884.1,1187.3 1885.1,1191.7 1886.1,1196.2 1887.1,1200.8 1888.1,1205.3 1889.1,1210 1890.1,1214.6 1891.1,1219.4 1892.1,1224.1 1893.1,1228.9 1894.1,1233.8 1895.1,1238.6 1896.1,1243.6 1897.1,1248.5 1898.1,1253.5 1899.1,1258.6 1900.1,1263.6 1901.1,1268.7 1902.1,1273.9 1903.1,1279 1904.1,1284.2 1905.1,1289.4 1906.1,1294.6 1907.1,1299.9 1908.1,1305.1 1909.1,1310.4 1910.1,1315.7 1911.1,1321 1912.1,1326.3 1913.1,1331.5 1914.1,1336.8 1915.1,1342.1 1916.1,1347.4 1917.1,1352.7 1918.1,1357.9 1919.1,1363.2 1920.1,1368.4 1921.1,1373.6 1922.1,1378.7 1923.1,1383.9 1924.1,1389 1925.1,1394.1 1926.1,1399.2 1927.1,1404.2 1928.1,1409.2 1929.1,1414.2 1930.1,1419.1 1931.1,1423.9 1932.1,1428.8 1933.1,1433.6 1934.1,1438.3 1935.1,1443 1936.1,1447.7 1937.1,1452.3 1938.1,1456.9 1939.1,1461.4 1940.1,1465.9 1941.1,1470.4 1942.1,1474.7 1943.1,1479.1 1944.1,1483.4 1945.1,1487.6 1946.1,1491.8 1947.1,1495.8 1948.1,1499.8 1949.1,1503.7 1950.1,1507.4 1951.1,1511.1 1952.1,1514.6 1953.1,1518 1954.1,1521.4 1955.1,1524.6 1956.1,1527.7 1957.1,1530.7 1958.1,1533.7 1959.1,1536.5 1960.1,1539.2 1961.1,1541.9 1962.1,1544.5 1963.1,1547 1964.1,1549.4 1965.1,1551.8 1966.1,1554 1967.1,1556.3 1968.1,1558.4 1969.1,1560.5 1970.1,1562.6 1971.1,1564.6 1972.1,1566.5 1973.1,1568.4 1974.1,1570.3 1975.1,1572.1 1976.1,1573.8 1977.1,1575.5 1978.1,1577.2 1979.1,1578.8 1980.1,1580.4 1981.1,1581.9 1982.1,1583.4 1983.1,1584.9 1984.1,1586.3 1985.1,1587.7 1986.1,1589.1 1987.1,1590.4 1988.1,1591.7 1989.1,1592.9 1990.1,1594.1 1991.1,1595.3 1992.1,1596.5 1993.1,1597.6 1994.1,1598.7 1995.1,1599.7 1996.1,1600.8 1997.1,1601.8 1998.1,1602.7 1999.1,1603.7 2000.1,1604.6 2001.1,1605.5 2002.1,1606.3 2003.1,1607.1 2004.1,1607.9 2005.1,1608.7 2006.1,1609.4 2007.1,1610.1 2008.1,1610.7 2009.1,1611.3 2010.1,1611.8 2011.1,1612.4 2012.1,1612.9 2013.1,1613.4 2014.1,1613.9 2015.1,1614.4 2016.1,1614.8 2017.1,1615.4 2018.1,1615.9 2019.1,1616.5 2020.1,1617.1 2021.1,1617.7 2022.1,1618.4 2023.1,1619.1 2024.1,1619.9 2025.1,1620.8 2026.1,1621.7 2027.1,1622.6 2028.1,1623.6 2029.1,1624.6 2030.1,1625.7 2031.1,1626.8 2032.1,1627.8 2033.1,1628.9 2034.1,1629.9 2035.1,1630.9 2036.1,1631.8 2037.1,1632.7 2038.1,1633.5 2039.1,1634.2 2040.1,1634.8 2041.1,1635.3 2042.1,1635.6 2043.1,1635.9 2044.1,1636.1 2045.1,1636.3 2046.1,1636.4 2047.1,1636.5 2048.1,1636.6 2049.1,1636.7 2050.1,1637 2051.1,1637.3 2052.1,1637.7 2053.1,1638.2 2054.1,1638.9 2055.1,1639.6 2056.1,1640.4 2057.1,1641.3 2058.1,1642.2 2059.1,1643.2 2060.1,1644.1 2061.1,1645 2062.1,1645.8 2063.1,1646.6 2064.1,1647.3 2065.1,1647.9 2066.1,1648.5 2067.1,1649 2068.1,1649.4 2069.1,1649.8 2070.1,1650.2 2071.1,1650.5 2072.1,1650.8 2073.1,1651.1 2074.1,1651.4 2075.1,1651.6 2076.1,1651.9 2077.1,1652.1 2078.1,1652.3 2079.1,1652.6 2080.1,1652.8 2081.1,1653 2082.1,1653.2 2083.1,1653.4 2084.1,1653.6 2085.1,1653.8 2086.1,1654 2087.1,1654.2 2088.1,1654.4 2089.1,1654.6 2090.1,1654.8 2091.1,1655 2092.1,1655.2 2093.1,1655.4 2094.1,1655.6 2095.1,1655.7 2096.1,1655.9 2097.1,1656.1 2098.1,1656.3 2099.1,1656.4 2100.1,1656.6 2101.1,1656.8 2102.1,1656.9 2103.1,1657.1 2104.1,1657.2 2105.1,1657.4 2106.1,1657.5 2107.1,1657.7 2108.1,1657.8 2109.1,1658 2110.1,1658.1 2111.1,1658.3 2112.1,1658.4 2113.1,1658.6 2114.1,1658.7 2115.1,1658.8 2116.1,1659 2117.1,1659.1 2118.1,1659.2 2119.1,1659.4 2120.1,1659.5 2121.1,1659.6 2122.1,1659.7 2123.1,1659.8 2124.1,1660 2125.1,1660.1 2126.1,1660.2 2127.1,1660.3 2128.1,1660.4 2129.1,1660.5 2130.1,1660.6 2131.1,1660.7 2132.1,1660.8 2133.1,1660.9 2134.1,1661 2135.1,1661.1 2136.1,1661.2 2137.1,1661.3 2138.1,1661.4 2139.1,1661.5 2140.1,1661.6 2141.1,1661.7 2142.1,1661.8 2143.1,1661.9 2144.1,1661.9 2145.1,1662 2146.1,1662.1 2147.1,1662.2 2148.1,1662.3 2149.1,1662.3 2150.1,1662.4 2151.1,1662.5 2152.1,1662.6 2153.1,1662.6 2154.1,1662.7 2155.1,1662.8 2156.1,1662.8 2157.1,1662.9 2158.1,1663 2159.1,1663 2160.1,1663.1 2161.1,1663.1 2162.1,1663.2 2163.1,1663.3 2164.1,1663.3 2165.1,1663.4 2166.1,1663.4 2167.1,1663.5 2168.1,1663.5 2169.1,1663.6 2170.1,1663.6 2171.1,1663.7 2172.1,1663.7 2173.1,1663.8 2174.1,1663.8 2175.1,1663.9 2176.1,1663.9 2177.1,1664 2178.1,1664 2179.1,1664.1 2180.1,1664.1 2181.1,1664.2 2182.1,1664.2 2183.1,1664.2 2184.1,1664.3 2185.1,1664.3 2186.1,1664.3 2187.1,1664.4 2188.1,1664.4 2189.1,1664.5 2190.1,1664.5 2191.1,1664.5 2192.1,1664.6 2193.1,1664.6 2194.1,1664.6 2195.1,1664.7 2196.1,1664.7 2197.1,1664.7 2198.1,1664.7 2199.1,1664.8 2200.1,1664.8 2201.1,1664.8 2202.1,1664.9 2203.1,1664.9 2204.1,1664.9 2205.1,1664.9 2206.1,1665 2207.1,1665 2208.1,1665 2209.1,1665 2210.1,1665.1 2211.1,1665.1 2212.1,1665.1 2213.1,1665.1 2214.1,1665.2 2215.1,1665.2 2216.1,1665.2 2217.1,1665.2 2218.1,1665.3 2219.1,1665.3 2220.1,1665.3 2221.1,1665.3 2222.1,1665.4 2223.1,1665.4 2224.1,1665.4 2225.1,1665.4 2226.1,1665.4 2227.1,1665.5 2228.1,1665.5 2229.1,1665.5 2230.1,1665.5 2231.1,1665.6 2232.1,1665.6 2233.1,1665.6 2234.1,1665.6 2235.1,1665.6 2236.1,1665.7 2237.1,1665.7 2238.1,1665.7 2239.1,1665.7 2240.1,1665.8 2241.1,1665.8 2242.1,1665.8 2243.1,1665.8 2244.1,1665.9 2245.1,1665.9 2246.1,1665.9 2247.1,1665.9 2248.1,1666 2249.1,1666 2250.1,1666 2251.1,1666 2252.1,1666.1 2253.1,1666.1 2254.1,1666.1 2255.1,1666.1 2256.1,1666.2 2257.1,1666.2 2258.1,1666.2 2259.1,1666.3 2260.1,1666.3 2261.1,1666.3 2262.1,1666.4 2263.1,1666.4 2264.1,1666.4 2265.1,1666.5 2266.1,1666.5 2267.1,1666.5 2268.1,1666.6 2269.1,1666.6 2270.1,1666.6 2271.1,1666.7 2272.1,1666.7 2273.1,1666.8 2274.1,1666.8 2275.1,1666.8 2276.1,1666.9 2277.1,1666.9 2278.1,1667 2279.1,1667 2280.1,1667.1 2281.1,1667.1 2282.1,1667.1 2283.1,1667.2 2284.1,1667.2 2285.1,1667.3 2286.1,1667.3 2287.1,1667.4 2288.1,1667.5 2289.1,1667.5 2290.1,1667.6 2291.1,1667.6 2292.1,1667.7 2293.1,1667.7 2294.1,1667.8 2295.1,1667.9 2296.1,1667.9 2297.1,1668 2298.1,1668 2299.1,1668.1 2300.1,1668.2 2301.1,1668.2 2302.1,1668.3 2303.1,1668.4 2304.1,1668.5 2305.1,1668.5 2306.1,1668.6 2307.1,1668.7 2308.1,1668.8 2309.1,1668.8 2310.1,1668.9 2311.1,1669" fill="none" stroke="#585858" stroke-width="6.5" stroke-linejoin="round"/>
<path d="M1376.1,1637.3 1377.1,1637.1 1378.1,1636.8 1379.1,1636.6 1380.1,1636.4 1381.1,1636.2 1382.1,1636 1383.1,1635.8 1384.1,1635.6 1385.1,1635.5 1386.1,1635.3 1387.1,1635.1 1388.1,1634.9 1389.1,1634.8 1390.1,1634.6 1391.1,1634.5 1392.1,1634.3 1393.1,1634.2 1394.1,1634 1395.1,1633.9 1396.1,1633.7 1397.1,1633.6 1398.1,1633.5 1399.1,1633.4 1400.1,1633.2 1401.1,1633.1 1402.1,1633 1403.1,1632.9 1404.1,1632.8 1405.1,1632.7 1406.1,1632.6 1407.1,1632.5 1408.1,1632.4 1409.1,1632.3 1410.1,1632.2 1411.1,1632.1 1412.1,1632 1413.1,1631.9 1414.1,1631.9 1415.1,1631.8 1416.1,1631.7 1417.1,1631.6 1418.1,1631.6 1419.1,1631.5 1420.1,1631.4 1421.1,1631.4 1422.1,1631.3 1423.1,1631.2 1424.1,1631.2 1425.1,1631.1 1426.1,1631.1 1427.1,1631 1428.1,1630.9 1429.1,1630.9 1430.1,1630.8 1431.1,1630.8 1432.1,1630.7 1433.1,1630.7 1434.1,1630.6 1435.1,1630.6 1436.1,1630.5 1437.1,1630.5 1438.1,1630.4 1439.1,1630.4 1440.1,1630.4 1441.1,1630.3 1442.1,1630.3 1443.1,1630.2 1444.1,1630.2 1445.1,1630.1 1446.1,1630.1 1447.1,1630 1448.1,1630 1449.1,1629.9 1450.1,1629.9 1451.1,1629.9 1452.1,1629.8 1453.1,1629.8 1454.1,1629.7 1455.1,1629.7 1456.1,1629.6 1457.1,1629.6 1458.1,1629.5 1459.1,1629.5 1460.1,1629.4 1461.1,1629.3 1462.1,1629.3 1463.1,1629.2 1464.1,1629.2 1465.1,1629.1 1466.1,1629 1467.1,1629 1468.1,1628.9 1469.1,1628.8 1470.1,1628.8 1471.1,1628.7 1472.1,1628.6 1473.1,1628.6 1474.1,1628.5 1475.1,1628.4 1476.1,1628.3 1477.1,1628.2 1478.1,1628.1 1479.1,1628 1480.1,1628 1481.1,1627.9 1482.1,1627.8 1483.1,1627.7 1484.1,1627.6 1485.1,1627.4 1486.1,1627.3 1487.1,1627.2 1488.1,1627.1 1489.1,1627 1490.1,1626.9 1491.1,1626.7 1492.1,1626.6 1493.1,1626.5 1494.1,1626.3 1495.1,1626.2 1496.1,1626 1497.1,1625.9 1498.1,1625.7 1499.1,1625.5 1500.1,1625.4 1501.1,1625.2 1502.1,1625 1503.1,1624.9 1504.1,1624.7 1505.1,1624.5 1506.1,1624.3 1507.1,1624.1 1508.1,1623.9 1509.1,1623.7 1510.1,1623.5 1511.1,1623.2 1512.1,1623 1513.1,1622.8 1514.1,1622.6 1515.1,1622.3 1516.1,1622.1 1517.1,1621.8 1518.1,1621.6 1519.1,1621.3 1520.1,1621 1521.1,1620.7 1522.1,1620.5 1523.1,1620.2 1524.1,1619.9 1525.1,1619.6 1526.1,1619.3 1527.1,1618.9 1528.1,1618.6 1529.1,1618.3 1530.1,1617.9 1531.1,1617.6 1532.1,1617.3 1533.1,1616.9 1534.1,1616.5 1535.1,1616.2 1536.1,1615.8 1537.1,1615.4 1538.1,1615 1539.1,1614.6 1540.1,1614.2 1541.1,1613.8 1542.1,1613.4 1543.1,1612.9 1544.1,1612.5 1545.1,1612.1 1546.1,1611.6 1547.1,1611.1 1548.1,1610.7 1549.1,1610.2 1550.1,1609.7 1551.1,1609.2 1552.1,1608.7 1553.1,1608.2 1554.1,1607.7 1555.1,1607.1 1556.1,1606.6 1557.1,1606 1558.1,1605.5 1559.1,1604.9 1560.1,1604.3 1561.1,1603.7 1562.1,1603.1 1563.1,1602.5 1564.1,1601.9 1565.1,1601.2 1566.1,1600.6 1567.1,1599.9 1568.1,1599.2 1569.1,1598.5 1570.1,1597.8 1571.1,1597.1 1572.1,1596.4 1573.1,1595.6 1574.1,1594.8 1575.1,1594.1 1576.1,1593.3 1577.1,1592.4 1578.1,1591.6 1579.1,1590.7 1580.1,1589.9 1581.1,1589 1582.1,1588 1583.1,1587.1 1584.1,1586.1 1585.1,1585.1 1586.1,1584.1 1587.1,1583.1 1588.1,1582 1589.1,1580.9 1590.1,1579.8 1591.1,1578.6 1592.1,1577.4 1593.1,1576.1 1594.1,1574.8 1595.1,1573.5 1596.1,1572.1 1597.1,1570.7 1598.1,1569.2 1599.1,1567.6 1600.1,1566 1601.1,1564.3 1602.1,1562.6 1603.1,1560.8 1604.1,1558.9 1605.1,1556.9 1606.1,1554.9 1607.1,1552.8 1608.1,1550.6 1609.1,1548.3 1610.1,1545.9 1611.1,1543.4 1612.1,1540.8 1613.1,1538.2 1614.1,1535.4 1615.1,1532.5 1616.1,1529.5 1617.1,1526.4 1618.1,1523.3 1619.1,1520.1 1620.1,1516.8 1621.1,1513.4 1622.1,1510 1623.1,1506.6 1624.1,1503.2 1625.1,1499.8 1626.1,1496.5 1627.1,1493.1 1628.1,1489.9 1629.1,1486.7 1630.1,1483.6 1631.1,1480.7 1632.1,1477.7 1633.1,1474.9 1634.1,1472.1 1635.1,1469.4 1636.1,1466.6 1637.1,1464 1638.1,1461.3 1639.1,1458.6 1640.1,1456 1641.1,1453.3 1642.1,1450.6 1643.1,1448 1644.1,1445.2 1645.1,1442.5 1646.1,1439.7 1647.1,1436.8 1648.1,1433.9 1649.1,1430.9 1650.1,1427.8 1651.1,1424.7 1652.1,1421.5 1653.1,1418.2 1654.1,1414.8 1655.1,1411.4 1656.1,1407.8 1657.1,1404.2 1658.1,1400.5 1659.1,1396.6 1660.1,1392.7 1661.1,1388.7 1662.1,1384.6 1663.1,1380.4 1664.1,1376.1 1665.1,1371.8 1666.1,1367.3 1667.1,1362.7 1668.1,1358 1669.1,1353.3 1670.1,1348.5 1671.1,1343.6 1672.1,1338.7 1673.1,1333.7 1674.1,1328.7 1675.1,1323.6 1676.1,1318.5 1677.1,1313.5 1678.1,1308.4 1679.1,1303.4 1680.1,1298.4 1681.1,1293.4 1682.1,1288.5 1683.1,1283.7 1684.1,1278.9 1685.1,1274.2 1686.1,1269.5 1687.1,1265 1688.1,1260.5 1689.1,1256.2 1690.1,1251.9 1691.1,1247.7 1692.1,1243.6 1693.1,1239.6 1694.1,1235.6 1695.1,1231.8 1696.1,1228 1697.1,1224.3 1698.1,1220.7 1699.1,1217.2 1700.1,1213.8 1701.1,1210.4 1702.1,1207.1 1703.1,1203.9 1704.1,1200.8 1705.1,1197.7 1706.1,1194.6 1707.1,1191.7 1708.1,1188.8 1709.1,1185.9 1710.1,1183.1 1711.1,1180.4 1712.1,1177.8 1713.1,1175.2 1714.1,1172.8 1715.1,1170.4 1716.1,1168.1 1717.1,1166 1718.1,1163.9 1719.1,1162 1720.1,1160.1 1721.1,1158.3 1722.1,1156.6 1723.1,1155 1724.1,1153.4 1725.1,1152 1726.1,1150.5 1727.1,1149.2 1728.1,1147.9 1729.1,1146.6 1730.1,1145.5 1731.1,1144.4 1732.1,1143.4 1733.1,1142.4 1734.1,1141.5 1735.1,1140.7 1736.1,1140 1737.1,1139.3 1738.1,1138.8 1739.1,1138.2 1740.1,1137.8 1741.1,1137.4 1742.1,1137.1 1743.1,1136.9 1744.1,1136.7 1745.1,1136.5 1746.1,1136.4 1747.1,1136.4 1748.1,1136.3 1749.1,1136.3 1750.1,1136.3 1751.1,1136.4 1752.1,1136.4 1753.1,1136.5 1754.1,1136.6 1755.1,1136.7 1756.1,1136.8 1757.1,1136.9 1758.1,1137 1759.1,1137.1 1760.1,1137.3 1761.1,1137.4 1762.1,1137.5 1763.1,1137.6 1764.1,1137.7 1765.1,1137.7 1766.1,1137.8 1767.1,1137.8 1768.1,1137.8 1769.1,1137.8 1770.1,1137.8 1771.1,1137.7 1772.1,1137.6 1773.1,1137.5 1774.1,1137.3 1775.1,1137.1 1776.1,1136.8 1777.1,1136.6 1778.1,1136.2 1779.1,1135.9 1780.1,1135.5 1781.1,1135.1 1782.1,1134.6 1783.1,1134.1 1784.1,1133.6 1785.1,1133 1786.1,1132.4 1787.1,1131.7 1788.1,1131 1789.1,1130.3 1790.1,1129.5 1791.1,1128.6 1792.1,1127.8 1793.1,1126.9 1794.1,1125.9 1795.1,1124.9 1796.1,1123.8 1797.1,1122.7 1798.1,1121.6 1799.1,1120.4 1800.1,1119.2 1801.1,1117.9 1802.1,1116.5 1803.1,1115.1 1804.1,1113.7 1805.1,1112.2 1806.1,1110.7 1807.1,1109.1 1808.1,1107.5 1809.1,1105.8 1810.1,1104.1 1811.1,1102.3 1812.1,1100.5 1813.1,1098.6 1814.1,1096.7 1815.1,1094.8 1816.1,1092.8 1817.1,1090.8 1818.1,1088.9 1819.1,1087.1 1820.1,1085.3 1821.1,1083.7 1822.1,1082.2 1823.1,1080.7 1824.1,1079.4 1825.1,1078.2 1826.1,1077.1 1827.1,1076 1828.1,1075.1 1829.1,1074.2 1830.1,1073.3 1831.1,1072.5 1832.1,1071.8 1833.1,1071.1 1834.1,1070.5 1835.1,1069.9 1836.1,1069.4 1837.1,1069 1838.1,1068.6 1839.1,1068.3 1840.1,1068.1 1841.1,1067.9 1842.1,1067.8 1843.1,1067.9 1844.1,1068.1 1845.1,1068.3 1846.1,1068.7 1847.1,1069.2 1848.1,1069.9 1849.1,1070.6 1850.1,1071.5 1851.1,1072.5 1852.1,1073.6 1853.1,1074.8 1854.1,1076.2 1855.1,1077.6 1856.1,1079.1 1857.1,1080.7 1858.1,1082.4 1859.1,1084.3 1860.1,1086.2 1861.1,1088.3 1862.1,1090.5 1863.1,1092.9 1864.1,1095.5 1865.1,1098.4 1866.1,1101.5 1867.1,1104.9 1868.1,1108.8 1869.1,1113 1870.1,1117.8 1871.1,1123 1872.1,1128.6 1873.1,1134.5 1874.1,1140.3 1875.1,1145.8 1876.1,1150.9 1877.1,1155.8 1878.1,1160.6 1879.1,1165.2 1880.1,1169.7 1881.1,1174.1 1882.1,1178.5 1883.1,1182.9 1884.1,1187.3 1885.1,1191.7 1886.1,1196.2 1887.1,1200.8 1888.1,1205.3 1889.1,1210 1890.1,1214.6 1891.1,1219.4 1892.1,1224.1 1893.1,1228.9 1894.1,1233.8 1895.1,1238.6 1896.1,1243.6 1897.1,1248.5 1898.1,1253.5 1899.1,1258.6 1900.1,1263.6 1901.1,1268.7 1902.1,1273.9 1903.1,1279 1904.1,1284.2 1905.1,1289.4 1906.1,1294.6 1907.1,1299.9 1908.1,1305.1 1909.1,1310.4 1910.1,1315.7 1911.1,1321 1912.1,1326.3 1913.1,1331.5 1914.1,1336.8 1915.1,1342.1 1916.1,1347.4 1917.1,1352.7 1918.1,1357.9 1919.1,1363.2 1920.1,1368.4 1921.1,1373.6 1922.1,1378.7 1923.1,1383.9 1924.1,1389 1925.1,1394.1 1926.1,1399.2 1927.1,1404.2 1928.1,1409.2 1929.1,1414.2 1930.1,1419.1 1931.1,1423.9 1932.1,1428.8 1933.1,1433.6 1934.1,1438.3 1935.1,1443 1936.1,1447.7 1937.1,1452.3 1938.1,1456.9 1939.1,1461.4 1940.1,1465.9 1941.1,1470.4 1942.1,1474.7 1943.1,1479.1 1944.1,1483.4 1945.1,1487.6 1946.1,1491.8 1947.1,1495.8 1948.1,1499.8 1949.1,1503.7 1950.1,1507.4 1951.1,1511.1 1952.1,1514.6 1953.1,1518 1954.1,1521.4 1955.1,1524.6 1956.1,1527.7 1957.1,1530.7 1958.1,1533.7 1959.1,1536.5 1960.1,1539.2 1961.1,1541.9 1962.1,1544.5 1963.1,1547 1964.1,1549.4 1965.1,1551.8 1966.1,1554.1 1967.1,1556.3 1968.1,1558.4 1969.1,1560.5 1970.1,1562.6 1971.1,1564.6 1972.1,1566.5 1973.1,1568.4 1974.1,1570.3 1975.1,1572.1 1976.1,1573.8 1977.1,1575.5 1978.1,1577.2 1979.1,1578.9 1980.1,1580.5 1981.1,1582 1982.1,1583.5 1983.1,1585 1984.1,1586.5 1985.1,1587.9 1986.1,1589.3 1987.1,1590.7 1988.1,1592.1 1989.1,1593.4 1990.1,1594.7 1991.1,1596.1 1992.1,1597.4 1993.1,1598.7 1994.1,1600 1995.1,1601.2 1996.1,1602.5 1997.1,1603.8 1998.1,1605.1 1999.1,1606.4 2000.1,1607.8 2001.1,1609.1 2002.1,1610.4 2003.1,1611.8 2004.1,1613.1 2005.1,1614.5 2006.1,1615.8 2007.1,1617.1 2008.1,1618.4 2009.1,1619.7 2010.1,1620.9 2011.1,1622.1 2012.1,1623.2 2013.1,1624.3 2014.1,1625.4 2015.1,1626.4 2016.1,1627.4 2017.1,1628.4 2018.1,1629.2 2019.1,1630.1 2020.1,1630.9 2021.1,1631.7 2022.1,1632.4 2023.1,1633.1 2024.1,1633.7 2025.1,1634.4 2026.1,1635 2027.1,1635.6 2028.1,1636.1 2029.1,1636.7 2030.1,1637.2 2031.1,1637.7 2032.1,1638.2 2033.1,1638.6 2034.1,1639.1 2035.1,1639.5 2036.1,1640 2037.1,1640.4 2038.1,1640.8 2039.1,1641.2 2040.1,1641.6 2041.1,1641.9 2042.1,1642.3 2043.1,1642.6 2044.1,1643 2045.1,1643.3 2046.1,1643.7 2047.1,1644 2048.1,1644.3 2049.1,1644.6 2050.1,1644.9 2051.1,1645.2 2052.1,1645.5 2053.1,1645.8 2054.1,1646.1 2055.1,1646.4 2056.1,1646.7 2057.1,1647 2058.1,1647.3 2059.1,1647.6 2060.1,1647.9 2061.1,1648.1 2062.1,1648.4 2063.1,1648.7 2064.1,1648.9 2065.1,1649.2 2066.1,1649.5 2067.1,1649.7 2068.1,1650 2069.1,1650.2 2070.1,1650.5 2071.1,1650.7 2072.1,1651 2073.1,1651.2 2074.1,1651.4 2075.1,1651.7 2076.1,1651.9 2077.1,1652.1 2078.1,1652.3 2079.1,1652.6 2080.1,1652.8 2081.1,1653 2082.1,1653.2 2083.1,1653.4 2084.1,1653.6 2085.1,1653.8 2086.1,1654 2087.1,1654.2 2088.1,1654.4 2089.1,1654.6 2090.1,1654.8 2091.1,1655 2092.1,1655.2 2093.1,1655.4 2094.1,1655.6 2095.1,1655.7 2096.1,1655.9 2097.1,1656.1 2098.1,1656.3 2099.1,1656.4 2100.1,1656.6 2101.1,1656.8 2102.1,1656.9 2103.1,1657.1 2104.1,1657.2 2105.1,1657.4 2106.1,1657.5 2107.1,1657.7 2108.1,1657.8 2109.1,1658 2110.1,1658.1 2111.1,1658.3 2112.1,1658.4 2113.1,1658.6 2114.1,1658.7 2115.1,1658.8 2116.1,1659 2117.1,1659.1 2118.1,1659.2 2119.1,1659.4 2120.1,1659.5 2121.1,1659.6 2122.1,1659.7 2123.1,1659.8 2124.1,1660 2125.1,1660.1 2126.1,1660.2 2127.1,1660.3 2128.1,1660.4 2129.1,1660.5 2130.1,1660.6 2131.1,1660.7 2132.1,1660.8 2133.1,1660.9 2134.1,1661 2135.1,1661.1 2136.1,1661.2 2137.1,1661.3 2138.1,1661.4 2139.1,1661.5 2140.1,1661.6 2141.1,1661.7 2142.1,1661.8 2143.1,1661.9 2144.1,1661.9 2145.1,1662 2146.1,1662.1 2147.1,1662.2 2148.1,1662.3 2149.1,1662.3 2150.1,1662.4 2151.1,1662.5 2152.1,1662.6 2153.1,1662.6 2154.1,1662.7 2155.1,1662.8 2156.1,1662.8 2157.1,1662.9 2158.1,1663 2159.1,1663 2160.1,1663.1 2161.1,1663.1 2162.1,1663.2 2163.1,1663.3 2164.1,1663.3 2165.1,1663.4 2166.1,1663.4 2167.1,1663.5 2168.1,1663.5 2169.1,1663.6 2170.1,1663.6 2171.1,1663.7 2172.1,1663.7 2173.1,1663.8 2174.1,1663.8 2175.1,1663.9 2176.1,1663.9 2177.1,1664 2178.1,1664 2179.1,1664.1 2180.1,1664.1 2181.1,1664.2 2182.1,1664.2 2183.1,1664.2 2184.1,1664.3 2185.1,1664.3 2186.1,1664.3 2187.1,1664.4 2188.1,1664.4 2189.1,1664.5 2190.1,1664.5 2191.1,1664.5 2192.1,1664.6 2193.1,1664.6 2194.1,1664.6 2195.1,1664.7 2196.1,1664.7 2197.1,1664.7 2198.1,1664.7 2199.1,1664.8 2200.1,1664.8 2201.1,1664.8 2202.1,1664.9 2203.1,1664.9 2204.1,1664.9 2205.1,1664.9 2206.1,1665 2207.1,1665 2208.1,1665 2209.1,1665 2210.1,1665.1 2211.1,1665.1 2212.1,1665.1 2213.1,1665.1 2214.1,1665.2 2215.1,1665.2 2216.1,1665.2 2217.1,1665.2 2218.1,1665.3 2219.1,1665.3 2220.1,1665.3 2221.1,1665.3 2222.1,1665.4 2223.1,1665.4 2224.1,1665.4 2225.1,1665.4 2226.1,1665.4 2227.1,1665.5 2228.1,1665.5 2229.1,1665.5 2230.1,1665.5 2231.1,1665.6 2232.1,1665.6 2233.1,1665.6 2234.1,1665.6 2235.1,1665.6 2236.1,1665.7 2237.1,1665.7 2238.1,1665.7 2239.1,1665.7 2240.1,1665.8 2241.1,1665.8 2242.1,1665.8 2243.1,1665.8 2244.1,1665.9 2245.1,1665.9 2246.1,1665.9 2247.1,1665.9 2248.1,1666 2249.1,1666 2250.1,1666 2251.1,1666 2252.1,1666.1 2253.1,1666.1 2254.1,1666.1 2255.1,1666.1 2256.1,1666.2 2257.1,1666.2 2258.1,1666.2 2259.1,1666.3 2260.1,1666.3 2261.1,1666.3 2262.1,1666.4 2263.1,1666.4 2264.1,1666.4 2265.1,1666.5 2266.1,1666.5 2267.1,1666.5 2268.1,1666.6 2269.1,1666.6 2270.1,1666.6 2271.1,1666.7 2272.1,1666.7 2273.1,1666.8 2274.1,1666.8 2275.1,1666.8 2276.1,1666.9 2277.1,1666.9 2278.1,1667 2279.1,1667 2280.1,1667.1 2281.1,1667.1 2282.1,1667.1 2283.1,1667.2 2284.1,1667.2 2285.1,1667.3 2286.1,1667.3 2287.1,1667.4 2288.1,1667.5 2289.1,1667.5 2290.1,1667.6 2291.1,1667.6 2292.1,1667.7 2293.1,1667.7 2294.1,1667.8 2295.1,1667.9 2296.1,1667.9 2297.1,1668 2298.1,1668 2299.1,1668.1 2300.1,1668.2 2301.1,1668.2 2302.1,1668.3 2303.1,1668.4 2304.1,1668.5 2305.1,1668.5 2306.1,1668.6 2307.1,1668.7 2308.1,1668.8 2309.1,1668.8 2310.1,1668.9 2311.1,1669" fill="none" stroke="#000" stroke-width="6.8" stroke-linejoin="round"/>
<rect x="1372.6" y="1003" width="942" height="725.8" fill="none" stroke="#000" stroke-width="7.5"/>
<path d="M1466,1728.8V1742.5M1653.5,1728.8V1742.5M1843,1728.8V1742.5M2033,1728.8V1742.5M2222.5,1728.8V1742.5M1559,1728.8V1737M1749,1728.8V1737M1940,1728.8V1737M2128,1728.8V1737" stroke="#000" stroke-width="7.5" fill="none"/>
<text transform="translate(1416.8,1801.4) scale(1.0500,1)" font-size="62.00" fill="#000">536</text>
<text transform="translate(1604,1801.4) scale(1.0500,1)" font-size="62.00" fill="#000">534</text>
<text transform="translate(1794.3,1801.4) scale(1.0500,1)" font-size="62.00" fill="#000">532</text>
<text transform="translate(1984.1,1801.4) scale(1.0500,1)" font-size="62.00" fill="#000">530</text>
<text transform="translate(2173.5,1801.4) scale(1.0500,1)" font-size="62.00" fill="#000">528</text>
<text transform="translate(1192.6,1019.6) scale(1.0081,1)" font-size="106.59" fill="#000">d</text>
<text transform="translate(1418.9,1095.9) scale(1.0110,1)" font-size="63.55" fill="#000">O1s</text>
<text transform="translate(1304.8,1537.9) rotate(-90) scale(1.0079,1)" font-size="61.00" fill="#000">Intensity (a.u.)</text>
<text transform="translate(1569.9,1896.4) scale(1.0399,1)" font-size="61.50" fill="#000">Binding energy (eV)</text>
<path d="M1940.7,1036.5H2042.9" stroke="#585858" stroke-width="8" stroke-linecap="round"/>
<path d="M1940.5,1093H2043.2" stroke="#000" stroke-width="7.5" stroke-linecap="round"/>
<path d="M1940.2,1149.1H2043.4" stroke="#ff8010" stroke-width="7" stroke-linecap="round"/>
<linearGradient id="lCOd" gradientUnits="userSpaceOnUse" x1="0" y1="1180.7" x2="0" y2="1230.7"><stop offset="0" stop-color="#3344ee"/><stop offset="0.7" stop-color="#33eeff"/><stop offset="1" stop-color="#44ccee"/></linearGradient>
<linearGradient id="lOHd" gradientUnits="userSpaceOnUse" x1="0" y1="1237.9" x2="0" y2="1284.8"><stop offset="0" stop-color="#3a9a3a"/><stop offset="1" stop-color="#33ee33"/></linearGradient>
<rect x="1939.8" y="1180.7" width="104.6" height="50" fill="url(#lCOd)"/>
<rect x="1939.8" y="1237.9" width="104.6" height="46.9" fill="url(#lOHd)"/>
<text transform="translate(2058.2,1051.2) scale(1.0537,1)" font-size="43.53" fill="#000">Raw data</text>
<text transform="translate(2058.2,1108.3) scale(1.0590,1)" font-size="43.53" fill="#000">Fitted line</text>
<text transform="translate(2058.2,1164.4) scale(1.0583,1)" font-size="43.53" fill="#000">Background</text>
<text transform="translate(2055.7,1219.5) scale(1.0834,1)" font-size="43.53" fill="#000">C=O</text>
<text transform="translate(2055.7,1276.6) scale(1.0597,1)" font-size="43.53" fill="#000">C-OH</text>
</svg></body></html>
